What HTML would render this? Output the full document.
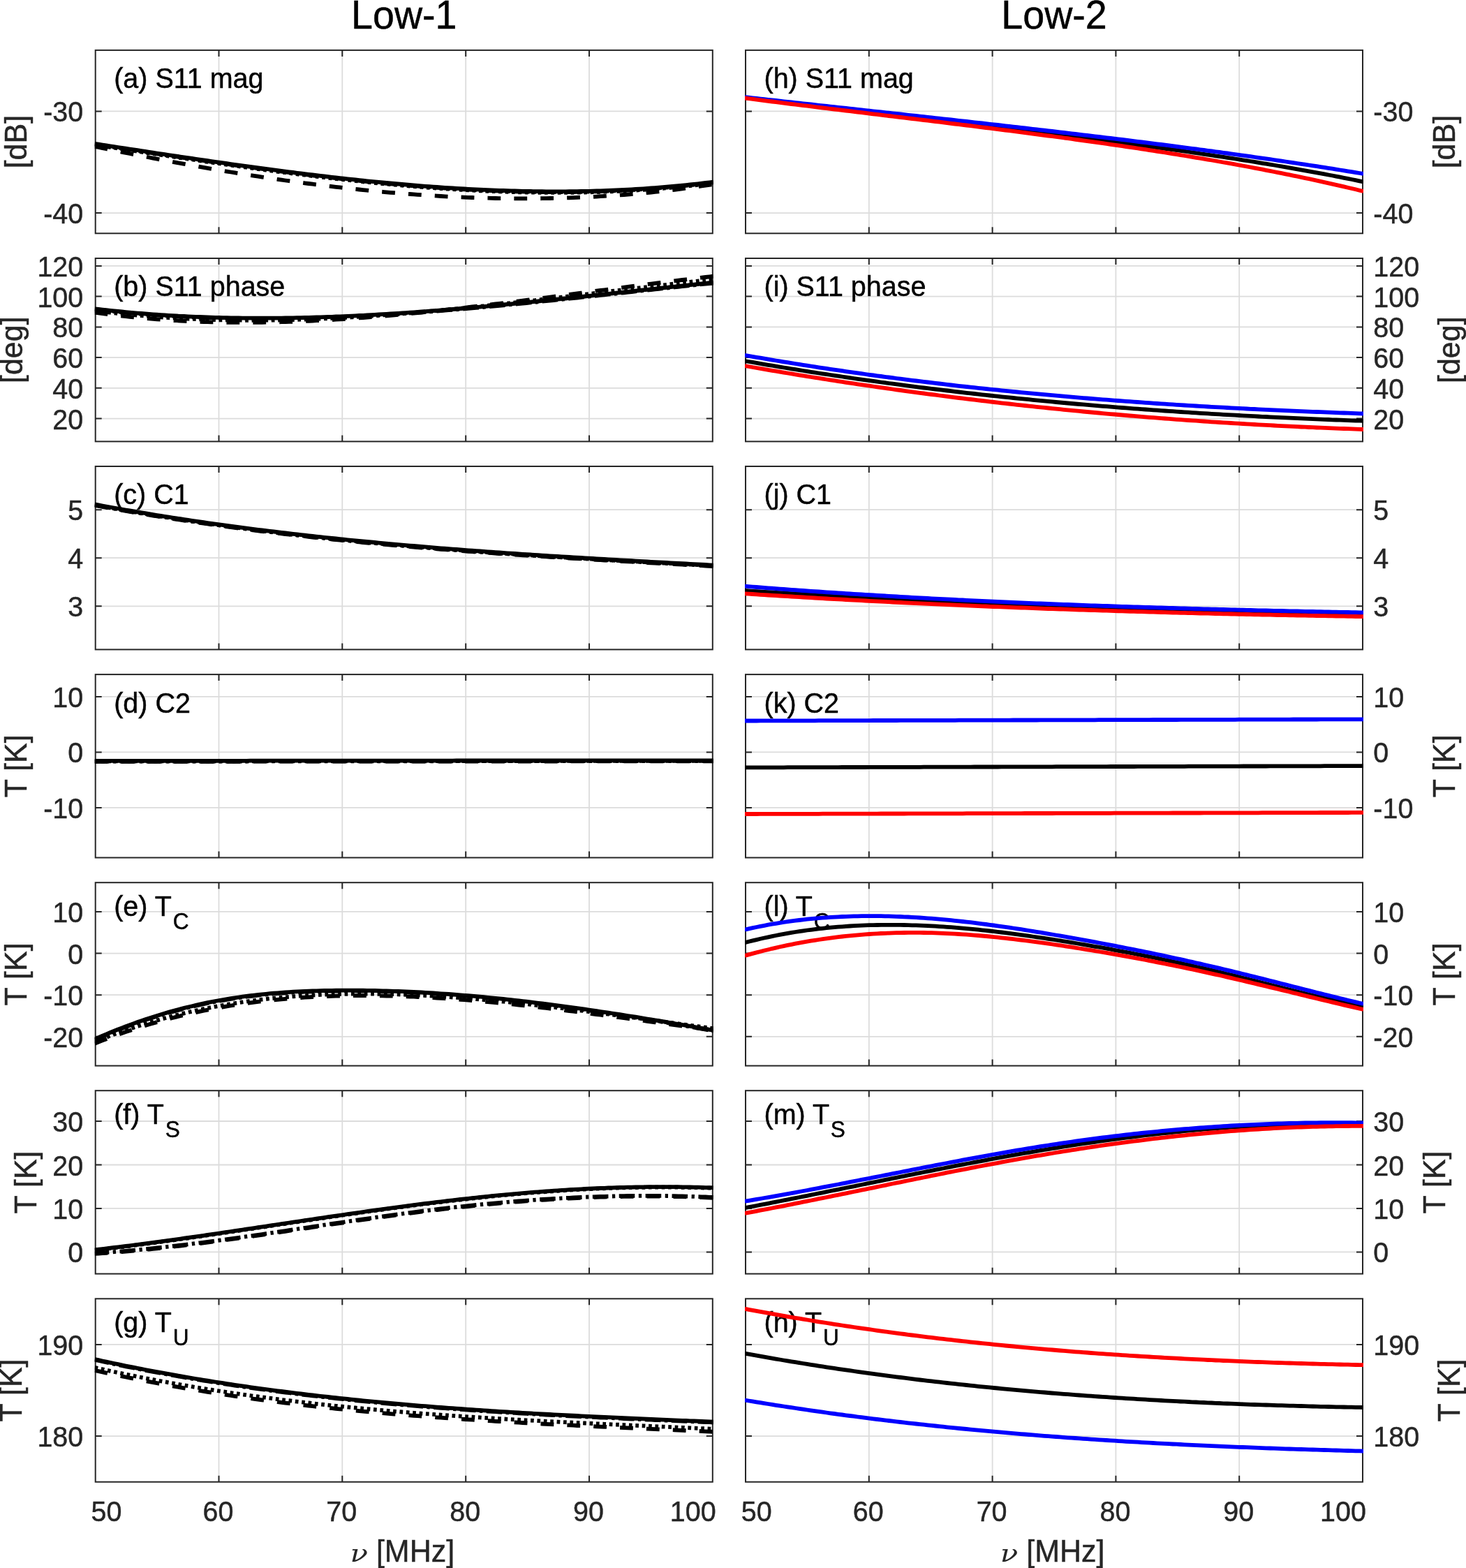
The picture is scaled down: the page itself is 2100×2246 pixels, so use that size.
<!DOCTYPE html><html><head><meta charset="utf-8"><title>Low-1 / Low-2</title>
<style>html,body{margin:0;padding:0;background:#fff;width:2100px;height:2246px;}svg{display:block;}text{font-family:"Liberation Sans",Arial,sans-serif;}</style></head><body>
<svg width="2100" height="2246" viewBox="0 0 2100 2246">
<rect width="2100" height="2246" fill="#fff"/>
<clipPath id="cL0"><rect x="135.7" y="68.9" width="886.1" height="268.4"/></clipPath>
<path d="M313.5 71.9V334.3M490.3 71.9V334.3M667.2 71.9V334.3M844.0 71.9V334.3M136.7 305.1H1020.8M136.7 159.4H1020.8" stroke="#dcdcdc" stroke-width="1.8" fill="none"/>
<path d="M313.5 334.3v-9.0M313.5 71.9v9.0M490.3 334.3v-9.0M490.3 71.9v9.0M667.2 334.3v-9.0M667.2 71.9v9.0M844.0 334.3v-9.0M844.0 71.9v9.0M136.7 305.1h9.0M1020.8 305.1h-9.0M136.7 159.4h9.0M1020.8 159.4h-9.0" stroke="#262626" stroke-width="2" fill="none"/>
<rect x="136.7" y="71.9" width="884.1" height="262.4" stroke="#262626" stroke-width="2" fill="none"/>
<text transform="translate(163.2 126.3) scale(1 1.040)" font-size="39.5" fill="#000" stroke="#000" stroke-width="0.45">(a) S11 mag</text>
<g clip-path="url(#cL0)" fill="none" stroke-width="5.8" stroke-linejoin="round">
<path d="M135.6 205.9L141.2 206.7L146.8 207.6L152.4 208.4L157.9 209.3L163.5 210.1L169.1 211.0L174.7 211.8L180.2 212.7L185.8 213.5L191.4 214.4L197.0 215.2L202.5 216.1L208.1 216.9L213.7 217.8L219.2 218.6L224.8 219.5L230.4 220.3L236.0 221.1L241.5 222.0L247.1 222.8L252.7 223.6L258.3 224.5L263.8 225.3L269.4 226.1L275.0 226.9L280.6 227.8L286.1 228.6L291.7 229.4L297.3 230.2L302.9 231.0L308.4 231.8L314.0 232.6L319.6 233.4L325.1 234.2L330.7 235.0L336.3 235.8L341.9 236.6L347.4 237.4L353.0 238.1L358.6 238.9L364.2 239.7L369.7 240.4L375.3 241.2L380.9 241.9L386.5 242.7L392.0 243.4L397.6 244.2L403.2 244.9L408.8 245.6L414.3 246.3L419.9 247.0L425.5 247.8L431.0 248.5L436.6 249.1L442.2 249.8L447.8 250.5L453.3 251.2L458.9 251.9L464.5 252.5L470.1 253.2L475.6 253.8L481.2 254.4L486.8 255.1L492.4 255.7L497.9 256.3L503.5 256.9L509.1 257.5L514.7 258.1L520.2 258.7L525.8 259.3L531.4 259.8L536.9 260.4L542.5 260.9L548.1 261.5L553.7 262.0L559.2 262.5L564.8 263.0L570.4 263.5L576.0 264.0L581.5 264.5L587.1 265.0L592.7 265.5L598.3 265.9L603.8 266.3L609.4 266.8L615.0 267.2L620.6 267.6L626.1 268.0L631.7 268.4L637.3 268.8L642.8 269.1L648.4 269.5L654.0 269.8L659.6 270.2L665.1 270.5L670.7 270.8L676.3 271.1L681.9 271.4L687.4 271.7L693.0 271.9L698.6 272.2L704.2 272.4L709.7 272.6L715.3 272.8L720.9 273.0L726.5 273.2L732.0 273.4L737.6 273.5L743.2 273.7L748.7 273.8L754.3 273.9L759.9 274.0L765.5 274.1L771.0 274.2L776.6 274.2L782.2 274.3L787.8 274.3L793.3 274.3L798.9 274.3L804.5 274.3L810.1 274.3L815.6 274.2L821.2 274.2L826.8 274.1L832.4 274.0L837.9 273.9L843.5 273.8L849.1 273.6L854.6 273.5L860.2 273.3L865.8 273.1L871.4 272.9L876.9 272.7L882.5 272.4L888.1 272.2L893.7 271.9L899.2 271.6L904.8 271.3L910.4 271.0L916.0 270.6L921.5 270.3L927.1 269.9L932.7 269.5L938.3 269.1L943.8 268.6L949.4 268.2L955.0 267.7L960.5 267.2L966.1 266.7L971.7 266.2L977.3 265.6L982.8 265.1L988.4 264.5L994.0 263.9L999.6 263.3L1005.1 262.6L1010.7 262.0L1016.3 261.3L1021.9 260.6" stroke="#000"/>
<path d="M135.6 209.8L141.2 210.9L146.8 212.1L152.4 213.2L157.9 214.4L163.5 215.5L169.1 216.7L174.7 217.8L180.2 218.9L185.8 220.0L191.4 221.1L197.0 222.2L202.5 223.3L208.1 224.4L213.7 225.5L219.2 226.6L224.8 227.6L230.4 228.7L236.0 229.7L241.5 230.8L247.1 231.8L252.7 232.9L258.3 233.9L263.8 234.9L269.4 235.9L275.0 236.9L280.6 237.9L286.1 238.9L291.7 239.9L297.3 240.8L302.9 241.8L308.4 242.8L314.0 243.7L319.6 244.7L325.1 245.6L330.7 246.5L336.3 247.4L341.9 248.3L347.4 249.2L353.0 250.1L358.6 251.0L364.2 251.8L369.7 252.7L375.3 253.6L380.9 254.4L386.5 255.2L392.0 256.0L397.6 256.9L403.2 257.7L408.8 258.5L414.3 259.2L419.9 260.0L425.5 260.8L431.0 261.5L436.6 262.3L442.2 263.0L447.8 263.7L453.3 264.4L458.9 265.1L464.5 265.8L470.1 266.5L475.6 267.2L481.2 267.8L486.8 268.4L492.4 269.1L497.9 269.7L503.5 270.3L509.1 270.9L514.7 271.5L520.2 272.1L525.8 272.6L531.4 273.2L536.9 273.7L542.5 274.3L548.1 274.8L553.7 275.3L559.2 275.8L564.8 276.2L570.4 276.7L576.0 277.2L581.5 277.6L587.1 278.0L592.7 278.4L598.3 278.8L603.8 279.2L609.4 279.6L615.0 280.0L620.6 280.3L626.1 280.6L631.7 281.0L637.3 281.3L642.8 281.6L648.4 281.8L654.0 282.1L659.6 282.4L665.1 282.6L670.7 282.8L676.3 283.0L681.9 283.2L687.4 283.4L693.0 283.6L698.6 283.7L704.2 283.8L709.7 284.0L715.3 284.1L720.9 284.2L726.5 284.2L732.0 284.3L737.6 284.3L743.2 284.4L748.7 284.4L754.3 284.4L759.9 284.4L765.5 284.3L771.0 284.3L776.6 284.2L782.2 284.1L787.8 284.0L793.3 283.9L798.9 283.8L804.5 283.6L810.1 283.5L815.6 283.3L821.2 283.1L826.8 282.9L832.4 282.6L837.9 282.4L843.5 282.1L849.1 281.9L854.6 281.6L860.2 281.2L865.8 280.9L871.4 280.5L876.9 280.2L882.5 279.8L888.1 279.4L893.7 279.0L899.2 278.5L904.8 278.1L910.4 277.6L916.0 277.1L921.5 276.6L927.1 276.0L932.7 275.5L938.3 274.9L943.8 274.3L949.4 273.7L955.0 273.1L960.5 272.4L966.1 271.8L971.7 271.1L977.3 270.4L982.8 269.6L988.4 268.9L994.0 268.1L999.6 267.3L1005.1 266.5L1010.7 265.7L1016.3 264.9L1021.9 264.0" stroke="#000" stroke-dasharray="18.8 19.1"/>
<path d="M135.6 207.5L141.2 208.3L146.8 209.2L152.4 210.0L157.9 210.9L163.5 211.7L169.1 212.6L174.7 213.4L180.2 214.3L185.8 215.1L191.4 216.0L197.0 216.8L202.5 217.7L208.1 218.5L213.7 219.4L219.2 220.2L224.8 221.1L230.4 221.9L236.0 222.7L241.5 223.6L247.1 224.4L252.7 225.2L258.3 226.1L263.8 226.9L269.4 227.7L275.0 228.5L280.6 229.4L286.1 230.2L291.7 231.0L297.3 231.8L302.9 232.6L308.4 233.4L314.0 234.2L319.6 235.0L325.1 235.8L330.7 236.6L336.3 237.4L341.9 238.2L347.4 239.0L353.0 239.7L358.6 240.5L364.2 241.3L369.7 242.0L375.3 242.8L380.9 243.5L386.5 244.3L392.0 245.0L397.6 245.8L403.2 246.5L408.8 247.2L414.3 247.9L419.9 248.6L425.5 249.4L431.0 250.1L436.6 250.7L442.2 251.4L447.8 252.1L453.3 252.8L458.9 253.5L464.5 254.1L470.1 254.8L475.6 255.4L481.2 256.0L486.8 256.7L492.4 257.3L497.9 257.9L503.5 258.5L509.1 259.1L514.7 259.7L520.2 260.3L525.8 260.9L531.4 261.4L536.9 262.0L542.5 262.5L548.1 263.1L553.7 263.6L559.2 264.1L564.8 264.6L570.4 265.1L576.0 265.6L581.5 266.1L587.1 266.6L592.7 267.1L598.3 267.5L603.8 267.9L609.4 268.4L615.0 268.8L620.6 269.2L626.1 269.6L631.7 270.0L637.3 270.4L642.8 270.7L648.4 271.1L654.0 271.4L659.6 271.8L665.1 272.1L670.7 272.4L676.3 272.7L681.9 273.0L687.4 273.3L693.0 273.5L698.6 273.8L704.2 274.0L709.7 274.2L715.3 274.4L720.9 274.6L726.5 274.8L732.0 275.0L737.6 275.1L743.2 275.3L748.7 275.4L754.3 275.5L759.9 275.6L765.5 275.7L771.0 275.8L776.6 275.8L782.2 275.9L787.8 275.9L793.3 275.9L798.9 275.9L804.5 275.9L810.1 275.9L815.6 275.8L821.2 275.8L826.8 275.7L832.4 275.6L837.9 275.5L843.5 275.4L849.1 275.2L854.6 275.1L860.2 274.9L865.8 274.7L871.4 274.5L876.9 274.3L882.5 274.0L888.1 273.8L893.7 273.5L899.2 273.2L904.8 272.9L910.4 272.6L916.0 272.2L921.5 271.9L927.1 271.5L932.7 271.1L938.3 270.7L943.8 270.2L949.4 269.8L955.0 269.3L960.5 268.8L966.1 268.3L971.7 267.8L977.3 267.2L982.8 266.7L988.4 266.1L994.0 265.5L999.6 264.9L1005.1 264.2L1010.7 263.6L1016.3 262.9L1021.9 262.2" stroke="#000" stroke-dasharray="4.7 4.7"/>
<path d="M135.6 206.7L141.2 207.5L146.8 208.4L152.4 209.2L157.9 210.1L163.5 210.9L169.1 211.8L174.7 212.6L180.2 213.5L185.8 214.3L191.4 215.2L197.0 216.0L202.5 216.9L208.1 217.7L213.7 218.6L219.2 219.4L224.8 220.3L230.4 221.1L236.0 221.9L241.5 222.8L247.1 223.6L252.7 224.4L258.3 225.3L263.8 226.1L269.4 226.9L275.0 227.7L280.6 228.6L286.1 229.4L291.7 230.2L297.3 231.0L302.9 231.8L308.4 232.6L314.0 233.4L319.6 234.2L325.1 235.0L330.7 235.8L336.3 236.6L341.9 237.4L347.4 238.2L353.0 238.9L358.6 239.7L364.2 240.5L369.7 241.2L375.3 242.0L380.9 242.7L386.5 243.5L392.0 244.2L397.6 245.0L403.2 245.7L408.8 246.4L414.3 247.1L419.9 247.8L425.5 248.6L431.0 249.3L436.6 249.9L442.2 250.6L447.8 251.3L453.3 252.0L458.9 252.7L464.5 253.3L470.1 254.0L475.6 254.6L481.2 255.2L486.8 255.9L492.4 256.5L497.9 257.1L503.5 257.7L509.1 258.3L514.7 258.9L520.2 259.5L525.8 260.1L531.4 260.6L536.9 261.2L542.5 261.7L548.1 262.3L553.7 262.8L559.2 263.3L564.8 263.8L570.4 264.3L576.0 264.8L581.5 265.3L587.1 265.8L592.7 266.3L598.3 266.7L603.8 267.1L609.4 267.6L615.0 268.0L620.6 268.4L626.1 268.8L631.7 269.2L637.3 269.6L642.8 269.9L648.4 270.3L654.0 270.6L659.6 271.0L665.1 271.3L670.7 271.6L676.3 271.9L681.9 272.2L687.4 272.5L693.0 272.7L698.6 273.0L704.2 273.2L709.7 273.4L715.3 273.6L720.9 273.8L726.5 274.0L732.0 274.2L737.6 274.3L743.2 274.5L748.7 274.6L754.3 274.7L759.9 274.8L765.5 274.9L771.0 275.0L776.6 275.0L782.2 275.1L787.8 275.1L793.3 275.1L798.9 275.1L804.5 275.1L810.1 275.1L815.6 275.0L821.2 275.0L826.8 274.9L832.4 274.8L837.9 274.7L843.5 274.6L849.1 274.4L854.6 274.3L860.2 274.1L865.8 273.9L871.4 273.7L876.9 273.5L882.5 273.2L888.1 273.0L893.7 272.7L899.2 272.4L904.8 272.1L910.4 271.8L916.0 271.4L921.5 271.1L927.1 270.7L932.7 270.3L938.3 269.9L943.8 269.4L949.4 269.0L955.0 268.5L960.5 268.0L966.1 267.5L971.7 267.0L977.3 266.4L982.8 265.9L988.4 265.3L994.0 264.7L999.6 264.1L1005.1 263.4L1010.7 262.8L1016.3 262.1L1021.9 261.4" stroke="#000" stroke-dasharray="22.6 5.5 4.3 5.5" stroke-dashoffset="1.9"/>
</g>
<text transform="translate(119.3 320.1) scale(1 1.040)" font-size="39.5" fill="#262626" stroke="#262626" stroke-width="0.45" text-anchor="end">-40</text>
<text transform="translate(119.3 174.4) scale(1 1.040)" font-size="39.5" fill="#262626" stroke="#262626" stroke-width="0.45" text-anchor="end">-30</text>
<text transform="translate(38.0 203.1) rotate(-90) scale(1 1.040)" font-size="43.0" fill="#262626" stroke="#262626" stroke-width="0.45" text-anchor="middle">[dB]</text>
<clipPath id="cR0"><rect x="1067.0" y="68.9" width="886.0" height="268.4"/></clipPath>
<path d="M1244.8 71.9V334.3M1421.6 71.9V334.3M1598.4 71.9V334.3M1775.2 71.9V334.3M1068.0 305.1H1952.0M1068.0 159.4H1952.0" stroke="#dcdcdc" stroke-width="1.8" fill="none"/>
<path d="M1244.8 334.3v-9.0M1244.8 71.9v9.0M1421.6 334.3v-9.0M1421.6 71.9v9.0M1598.4 334.3v-9.0M1598.4 71.9v9.0M1775.2 334.3v-9.0M1775.2 71.9v9.0M1068.0 305.1h9.0M1952.0 305.1h-9.0M1068.0 159.4h9.0M1952.0 159.4h-9.0" stroke="#262626" stroke-width="2" fill="none"/>
<rect x="1068.0" y="71.9" width="884.0" height="262.4" stroke="#262626" stroke-width="2" fill="none"/>
<text transform="translate(1094.5 126.3) scale(1 1.040)" font-size="39.5" fill="#000" stroke="#000" stroke-width="0.45">(h) S11 mag</text>
<g clip-path="url(#cR0)" fill="none" stroke-width="5.8" stroke-linejoin="round">
<path d="M1066.9 139.8L1072.5 140.4L1078.1 141.1L1083.7 141.8L1089.2 142.4L1094.8 143.1L1100.4 143.7L1106.0 144.4L1111.5 145.0L1117.1 145.7L1122.7 146.4L1128.2 147.0L1133.8 147.7L1139.4 148.3L1145.0 149.0L1150.5 149.6L1156.1 150.3L1161.7 150.9L1167.3 151.6L1172.8 152.2L1178.4 152.9L1184.0 153.5L1189.5 154.2L1195.1 154.8L1200.7 155.4L1206.3 156.1L1211.8 156.7L1217.4 157.4L1223.0 158.0L1228.6 158.7L1234.1 159.3L1239.7 160.0L1245.3 160.6L1250.9 161.3L1256.4 161.9L1262.0 162.6L1267.6 163.2L1273.1 163.8L1278.7 164.5L1284.3 165.1L1289.9 165.8L1295.4 166.4L1301.0 167.1L1306.6 167.7L1312.2 168.4L1317.7 169.0L1323.3 169.7L1328.9 170.3L1334.4 171.0L1340.0 171.6L1345.6 172.3L1351.2 172.9L1356.7 173.6L1362.3 174.3L1367.9 174.9L1373.5 175.6L1379.0 176.2L1384.6 176.9L1390.2 177.5L1395.8 178.2L1401.3 178.9L1406.9 179.5L1412.5 180.2L1418.0 180.9L1423.6 181.5L1429.2 182.2L1434.8 182.9L1440.3 183.5L1445.9 184.2L1451.5 184.9L1457.1 185.6L1462.6 186.2L1468.2 186.9L1473.8 187.6L1479.3 188.3L1484.9 189.0L1490.5 189.7L1496.1 190.3L1501.6 191.0L1507.2 191.7L1512.8 192.4L1518.4 193.1L1523.9 193.8L1529.5 194.5L1535.1 195.2L1540.7 195.9L1546.2 196.6L1551.8 197.3L1557.4 198.0L1562.9 198.8L1568.5 199.5L1574.1 200.2L1579.7 200.9L1585.2 201.6L1590.8 202.4L1596.4 203.1L1602.0 203.8L1607.5 204.5L1613.1 205.3L1618.7 206.0L1624.2 206.8L1629.8 207.5L1635.4 208.3L1641.0 209.0L1646.5 209.8L1652.1 210.5L1657.7 211.3L1663.3 212.0L1668.8 212.8L1674.4 213.6L1680.0 214.4L1685.6 215.2L1691.1 215.9L1696.7 216.7L1702.3 217.5L1707.8 218.3L1713.4 219.1L1719.0 220.0L1724.6 220.8L1730.1 221.6L1735.7 222.4L1741.3 223.3L1746.9 224.1L1752.4 224.9L1758.0 225.8L1763.6 226.7L1769.1 227.5L1774.7 228.4L1780.3 229.3L1785.9 230.1L1791.4 231.0L1797.0 231.9L1802.6 232.8L1808.2 233.8L1813.7 234.7L1819.3 235.6L1824.9 236.5L1830.5 237.5L1836.0 238.4L1841.6 239.4L1847.2 240.4L1852.7 241.3L1858.3 242.3L1863.9 243.3L1869.5 244.3L1875.0 245.3L1880.6 246.3L1886.2 247.3L1891.8 248.4L1897.3 249.4L1902.9 250.5L1908.5 251.5L1914.0 252.6L1919.6 253.7L1925.2 254.8L1930.8 255.9L1936.3 257.0L1941.9 258.1L1947.5 259.3L1953.1 260.4" stroke="#000"/>
<path d="M1066.9 139.1L1072.5 139.7L1078.1 140.3L1083.7 140.9L1089.2 141.6L1094.8 142.2L1100.4 142.8L1106.0 143.4L1111.5 144.0L1117.1 144.6L1122.7 145.3L1128.2 145.9L1133.8 146.5L1139.4 147.1L1145.0 147.7L1150.5 148.3L1156.1 148.9L1161.7 149.5L1167.3 150.1L1172.8 150.8L1178.4 151.4L1184.0 152.0L1189.5 152.6L1195.1 153.2L1200.7 153.8L1206.3 154.4L1211.8 155.0L1217.4 155.6L1223.0 156.2L1228.6 156.8L1234.1 157.4L1239.7 158.1L1245.3 158.7L1250.9 159.3L1256.4 159.9L1262.0 160.5L1267.6 161.1L1273.1 161.7L1278.7 162.3L1284.3 162.9L1289.9 163.5L1295.4 164.2L1301.0 164.8L1306.6 165.4L1312.2 166.0L1317.7 166.6L1323.3 167.2L1328.9 167.8L1334.4 168.5L1340.0 169.1L1345.6 169.7L1351.2 170.3L1356.7 170.9L1362.3 171.5L1367.9 172.2L1373.5 172.8L1379.0 173.4L1384.6 174.0L1390.2 174.6L1395.8 175.3L1401.3 175.9L1406.9 176.5L1412.5 177.2L1418.0 177.8L1423.6 178.4L1429.2 179.0L1434.8 179.7L1440.3 180.3L1445.9 180.9L1451.5 181.6L1457.1 182.2L1462.6 182.9L1468.2 183.5L1473.8 184.1L1479.3 184.8L1484.9 185.4L1490.5 186.1L1496.1 186.7L1501.6 187.4L1507.2 188.0L1512.8 188.7L1518.4 189.3L1523.9 190.0L1529.5 190.6L1535.1 191.3L1540.7 192.0L1546.2 192.6L1551.8 193.3L1557.4 193.9L1562.9 194.6L1568.5 195.3L1574.1 196.0L1579.7 196.6L1585.2 197.3L1590.8 198.0L1596.4 198.7L1602.0 199.4L1607.5 200.0L1613.1 200.7L1618.7 201.4L1624.2 202.1L1629.8 202.8L1635.4 203.5L1641.0 204.2L1646.5 204.9L1652.1 205.6L1657.7 206.3L1663.3 207.0L1668.8 207.7L1674.4 208.4L1680.0 209.2L1685.6 209.9L1691.1 210.6L1696.7 211.3L1702.3 212.1L1707.8 212.8L1713.4 213.5L1719.0 214.3L1724.6 215.0L1730.1 215.8L1735.7 216.5L1741.3 217.3L1746.9 218.0L1752.4 218.8L1758.0 219.5L1763.6 220.3L1769.1 221.1L1774.7 221.9L1780.3 222.6L1785.9 223.4L1791.4 224.2L1797.0 225.0L1802.6 225.8L1808.2 226.6L1813.7 227.4L1819.3 228.2L1824.9 229.0L1830.5 229.8L1836.0 230.6L1841.6 231.5L1847.2 232.3L1852.7 233.1L1858.3 234.0L1863.9 234.8L1869.5 235.6L1875.0 236.5L1880.6 237.4L1886.2 238.2L1891.8 239.1L1897.3 239.9L1902.9 240.8L1908.5 241.7L1914.0 242.6L1919.6 243.5L1925.2 244.4L1930.8 245.3L1936.3 246.2L1941.9 247.1L1947.5 248.0L1953.1 248.9" stroke="#0000ff"/>
<path d="M1066.9 140.5L1072.5 141.2L1078.1 141.9L1083.7 142.6L1089.2 143.4L1094.8 144.1L1100.4 144.8L1106.0 145.5L1111.5 146.2L1117.1 146.9L1122.7 147.6L1128.2 148.3L1133.8 149.0L1139.4 149.7L1145.0 150.4L1150.5 151.1L1156.1 151.7L1161.7 152.4L1167.3 153.1L1172.8 153.8L1178.4 154.5L1184.0 155.2L1189.5 155.8L1195.1 156.5L1200.7 157.2L1206.3 157.9L1211.8 158.5L1217.4 159.2L1223.0 159.9L1228.6 160.6L1234.1 161.2L1239.7 161.9L1245.3 162.6L1250.9 163.3L1256.4 163.9L1262.0 164.6L1267.6 165.3L1273.1 166.0L1278.7 166.6L1284.3 167.3L1289.9 168.0L1295.4 168.6L1301.0 169.3L1306.6 170.0L1312.2 170.7L1317.7 171.3L1323.3 172.0L1328.9 172.7L1334.4 173.4L1340.0 174.1L1345.6 174.7L1351.2 175.4L1356.7 176.1L1362.3 176.8L1367.9 177.5L1373.5 178.2L1379.0 178.8L1384.6 179.5L1390.2 180.2L1395.8 180.9L1401.3 181.6L1406.9 182.3L1412.5 183.0L1418.0 183.7L1423.6 184.4L1429.2 185.1L1434.8 185.8L1440.3 186.5L1445.9 187.2L1451.5 187.9L1457.1 188.7L1462.6 189.4L1468.2 190.1L1473.8 190.8L1479.3 191.6L1484.9 192.3L1490.5 193.0L1496.1 193.8L1501.6 194.5L1507.2 195.2L1512.8 196.0L1518.4 196.7L1523.9 197.5L1529.5 198.2L1535.1 199.0L1540.7 199.8L1546.2 200.5L1551.8 201.3L1557.4 202.1L1562.9 202.9L1568.5 203.6L1574.1 204.4L1579.7 205.2L1585.2 206.0L1590.8 206.8L1596.4 207.6L1602.0 208.4L1607.5 209.2L1613.1 210.1L1618.7 210.9L1624.2 211.7L1629.8 212.5L1635.4 213.4L1641.0 214.2L1646.5 215.1L1652.1 215.9L1657.7 216.8L1663.3 217.7L1668.8 218.5L1674.4 219.4L1680.0 220.3L1685.6 221.2L1691.1 222.1L1696.7 223.0L1702.3 223.9L1707.8 224.8L1713.4 225.8L1719.0 226.7L1724.6 227.6L1730.1 228.6L1735.7 229.5L1741.3 230.5L1746.9 231.5L1752.4 232.5L1758.0 233.4L1763.6 234.4L1769.1 235.4L1774.7 236.5L1780.3 237.5L1785.9 238.5L1791.4 239.5L1797.0 240.6L1802.6 241.6L1808.2 242.7L1813.7 243.8L1819.3 244.9L1824.9 246.0L1830.5 247.1L1836.0 248.2L1841.6 249.3L1847.2 250.4L1852.7 251.6L1858.3 252.7L1863.9 253.9L1869.5 255.1L1875.0 256.2L1880.6 257.4L1886.2 258.6L1891.8 259.9L1897.3 261.1L1902.9 262.3L1908.5 263.6L1914.0 264.8L1919.6 266.1L1925.2 267.4L1930.8 268.7L1936.3 270.0L1941.9 271.3L1947.5 272.7L1953.1 274.0" stroke="#ff0000"/>
</g>
<text transform="translate(1967.3 320.1) scale(1 1.040)" font-size="39.5" fill="#262626" stroke="#262626" stroke-width="0.45">-40</text>
<text transform="translate(1967.3 174.4) scale(1 1.040)" font-size="39.5" fill="#262626" stroke="#262626" stroke-width="0.45">-30</text>
<text transform="translate(2084.4 203.1) rotate(-90) scale(1 1.040)" font-size="43.0" fill="#262626" stroke="#262626" stroke-width="0.45" text-anchor="middle">[dB]</text>
<clipPath id="cL1"><rect x="135.7" y="367.0" width="886.1" height="268.4"/></clipPath>
<path d="M313.5 370.0V632.4M490.3 370.0V632.4M667.2 370.0V632.4M844.0 370.0V632.4M136.7 599.6H1020.8M136.7 555.8H1020.8M136.7 512.1H1020.8M136.7 468.4H1020.8M136.7 424.6H1020.8M136.7 380.9H1020.8" stroke="#dcdcdc" stroke-width="1.8" fill="none"/>
<path d="M313.5 632.4v-9.0M313.5 370.0v9.0M490.3 632.4v-9.0M490.3 370.0v9.0M667.2 632.4v-9.0M667.2 370.0v9.0M844.0 632.4v-9.0M844.0 370.0v9.0M136.7 599.6h9.0M1020.8 599.6h-9.0M136.7 555.8h9.0M1020.8 555.8h-9.0M136.7 512.1h9.0M1020.8 512.1h-9.0M136.7 468.4h9.0M1020.8 468.4h-9.0M136.7 424.6h9.0M1020.8 424.6h-9.0M136.7 380.9h9.0M1020.8 380.9h-9.0" stroke="#262626" stroke-width="2" fill="none"/>
<rect x="136.7" y="370.0" width="884.1" height="262.4" stroke="#262626" stroke-width="2" fill="none"/>
<text transform="translate(163.2 424.4) scale(1 1.040)" font-size="39.5" fill="#000" stroke="#000" stroke-width="0.45">(b) S11 phase</text>
<g clip-path="url(#cL1)" fill="none" stroke-width="5.8" stroke-linejoin="round">
<path d="M135.6 442.3L141.2 443.0L146.8 443.6L152.4 444.2L157.9 444.8L163.5 445.4L169.1 446.0L174.7 446.5L180.2 447.1L185.8 447.6L191.4 448.1L197.0 448.6L202.5 449.0L208.1 449.5L213.7 449.9L219.2 450.3L224.8 450.7L230.4 451.1L236.0 451.5L241.5 451.8L247.1 452.1L252.7 452.5L258.3 452.8L263.8 453.0L269.4 453.3L275.0 453.6L280.6 453.8L286.1 454.0L291.7 454.2L297.3 454.4L302.9 454.6L308.4 454.8L314.0 454.9L319.6 455.1L325.1 455.2L330.7 455.3L336.3 455.4L341.9 455.5L347.4 455.6L353.0 455.6L358.6 455.7L364.2 455.7L369.7 455.7L375.3 455.7L380.9 455.7L386.5 455.7L392.0 455.7L397.6 455.6L403.2 455.6L408.8 455.5L414.3 455.4L419.9 455.3L425.5 455.2L431.0 455.1L436.6 455.0L442.2 454.8L447.8 454.7L453.3 454.5L458.9 454.3L464.5 454.2L470.1 454.0L475.6 453.8L481.2 453.5L486.8 453.3L492.4 453.1L497.9 452.8L503.5 452.6L509.1 452.3L514.7 452.0L520.2 451.8L525.8 451.5L531.4 451.2L536.9 450.9L542.5 450.5L548.1 450.2L553.7 449.9L559.2 449.5L564.8 449.2L570.4 448.8L576.0 448.5L581.5 448.1L587.1 447.7L592.7 447.3L598.3 446.9L603.8 446.5L609.4 446.1L615.0 445.7L620.6 445.2L626.1 444.8L631.7 444.4L637.3 443.9L642.8 443.4L648.4 443.0L654.0 442.5L659.6 442.0L665.1 441.6L670.7 441.1L676.3 440.6L681.9 440.1L687.4 439.6L693.0 439.1L698.6 438.6L704.2 438.1L709.7 437.5L715.3 437.0L720.9 436.5L726.5 435.9L732.0 435.4L737.6 434.9L743.2 434.3L748.7 433.8L754.3 433.2L759.9 432.6L765.5 432.1L771.0 431.5L776.6 430.9L782.2 430.4L787.8 429.8L793.3 429.2L798.9 428.6L804.5 428.0L810.1 427.5L815.6 426.9L821.2 426.3L826.8 425.7L832.4 425.1L837.9 424.5L843.5 423.9L849.1 423.3L854.6 422.7L860.2 422.1L865.8 421.5L871.4 420.9L876.9 420.3L882.5 419.7L888.1 419.1L893.7 418.5L899.2 417.8L904.8 417.2L910.4 416.6L916.0 416.0L921.5 415.4L927.1 414.8L932.7 414.2L938.3 413.6L943.8 413.0L949.4 412.4L955.0 411.8L960.5 411.2L966.1 410.6L971.7 410.0L977.3 409.4L982.8 408.8L988.4 408.2L994.0 407.6L999.6 407.0L1005.1 406.4L1010.7 405.8L1016.3 405.2L1021.9 404.7" stroke="#000"/>
<path d="M135.6 447.7L141.2 448.4L146.8 449.2L152.4 449.9L157.9 450.6L163.5 451.3L169.1 452.0L174.7 452.6L180.2 453.2L185.8 453.8L191.4 454.4L197.0 454.9L202.5 455.4L208.1 455.9L213.7 456.4L219.2 456.9L224.8 457.3L230.4 457.7L236.0 458.1L241.5 458.5L247.1 458.9L252.7 459.2L258.3 459.5L263.8 459.8L269.4 460.1L275.0 460.3L280.6 460.6L286.1 460.8L291.7 461.0L297.3 461.1L302.9 461.3L308.4 461.4L314.0 461.6L319.6 461.7L325.1 461.8L330.7 461.8L336.3 461.9L341.9 461.9L347.4 461.9L353.0 461.9L358.6 461.9L364.2 461.9L369.7 461.8L375.3 461.8L380.9 461.7L386.5 461.6L392.0 461.5L397.6 461.3L403.2 461.2L408.8 461.0L414.3 460.9L419.9 460.7L425.5 460.5L431.0 460.3L436.6 460.0L442.2 459.8L447.8 459.5L453.3 459.2L458.9 459.0L464.5 458.7L470.1 458.4L475.6 458.0L481.2 457.7L486.8 457.3L492.4 457.0L497.9 456.6L503.5 456.2L509.1 455.8L514.7 455.4L520.2 455.0L525.8 454.6L531.4 454.1L536.9 453.7L542.5 453.2L548.1 452.8L553.7 452.3L559.2 451.8L564.8 451.3L570.4 450.8L576.0 450.3L581.5 449.7L587.1 449.2L592.7 448.6L598.3 448.1L603.8 447.5L609.4 447.0L615.0 446.4L620.6 445.8L626.1 445.2L631.7 444.6L637.3 444.0L642.8 443.4L648.4 442.8L654.0 442.1L659.6 441.5L665.1 440.8L670.7 440.2L676.3 439.5L681.9 438.9L687.4 438.2L693.0 437.6L698.6 436.9L704.2 436.2L709.7 435.5L715.3 434.8L720.9 434.1L726.5 433.4L732.0 432.7L737.6 432.0L743.2 431.3L748.7 430.6L754.3 429.9L759.9 429.2L765.5 428.5L771.0 427.7L776.6 427.0L782.2 426.3L787.8 425.6L793.3 424.8L798.9 424.1L804.5 423.4L810.1 422.6L815.6 421.9L821.2 421.2L826.8 420.4L832.4 419.7L837.9 418.9L843.5 418.2L849.1 417.5L854.6 416.7L860.2 416.0L865.8 415.3L871.4 414.5L876.9 413.8L882.5 413.1L888.1 412.3L893.7 411.6L899.2 410.9L904.8 410.1L910.4 409.4L916.0 408.7L921.5 408.0L927.1 407.3L932.7 406.5L938.3 405.8L943.8 405.1L949.4 404.4L955.0 403.7L960.5 403.0L966.1 402.3L971.7 401.7L977.3 401.0L982.8 400.3L988.4 399.6L994.0 399.0L999.6 398.3L1005.1 397.6L1010.7 397.0L1016.3 396.3L1021.9 395.7" stroke="#000" stroke-dasharray="18.8 19.1"/>
<path d="M135.6 445.0L141.2 445.7L146.8 446.4L152.4 447.1L157.9 447.7L163.5 448.4L169.1 449.0L174.7 449.6L180.2 450.1L185.8 450.7L191.4 451.2L197.0 451.7L202.5 452.2L208.1 452.7L213.7 453.2L219.2 453.6L224.8 454.0L230.4 454.4L236.0 454.8L241.5 455.2L247.1 455.5L252.7 455.8L258.3 456.1L263.8 456.4L269.4 456.7L275.0 456.9L280.6 457.2L286.1 457.4L291.7 457.6L297.3 457.8L302.9 458.0L308.4 458.1L314.0 458.3L319.6 458.4L325.1 458.5L330.7 458.6L336.3 458.6L341.9 458.7L347.4 458.7L353.0 458.8L358.6 458.8L364.2 458.8L369.7 458.8L375.3 458.7L380.9 458.7L386.5 458.6L392.0 458.6L397.6 458.5L403.2 458.4L408.8 458.3L414.3 458.1L419.9 458.0L425.5 457.8L431.0 457.7L436.6 457.5L442.2 457.3L447.8 457.1L453.3 456.9L458.9 456.6L464.5 456.4L470.1 456.2L475.6 455.9L481.2 455.6L486.8 455.3L492.4 455.0L497.9 454.7L503.5 454.4L509.1 454.1L514.7 453.7L520.2 453.4L525.8 453.0L531.4 452.7L536.9 452.3L542.5 451.9L548.1 451.5L553.7 451.1L559.2 450.7L564.8 450.2L570.4 449.8L576.0 449.4L581.5 448.9L587.1 448.4L592.7 448.0L598.3 447.5L603.8 447.0L609.4 446.5L615.0 446.0L620.6 445.5L626.1 445.0L631.7 444.5L637.3 443.9L642.8 443.4L648.4 442.9L654.0 442.3L659.6 441.8L665.1 441.2L670.7 440.6L676.3 440.1L681.9 439.5L687.4 438.9L693.0 438.3L698.6 437.7L704.2 437.1L709.7 436.5L715.3 435.9L720.9 435.3L726.5 434.7L732.0 434.1L737.6 433.4L743.2 432.8L748.7 432.2L754.3 431.6L759.9 430.9L765.5 430.3L771.0 429.6L776.6 429.0L782.2 428.3L787.8 427.7L793.3 427.0L798.9 426.4L804.5 425.7L810.1 425.0L815.6 424.4L821.2 423.7L826.8 423.1L832.4 422.4L837.9 421.7L843.5 421.1L849.1 420.4L854.6 419.7L860.2 419.0L865.8 418.4L871.4 417.7L876.9 417.0L882.5 416.4L888.1 415.7L893.7 415.0L899.2 414.4L904.8 413.7L910.4 413.0L916.0 412.4L921.5 411.7L927.1 411.0L932.7 410.4L938.3 409.7L943.8 409.1L949.4 408.4L955.0 407.8L960.5 407.1L966.1 406.5L971.7 405.8L977.3 405.2L982.8 404.5L988.4 403.9L994.0 403.3L999.6 402.6L1005.1 402.0L1010.7 401.4L1016.3 400.8L1021.9 400.2" stroke="#000" stroke-dasharray="4.7 4.7"/>
<path d="M135.6 443.1L141.2 443.8L146.8 444.4L152.4 445.0L157.9 445.6L163.5 446.2L169.1 446.8L174.7 447.3L180.2 447.9L185.8 448.4L191.4 448.9L197.0 449.4L202.5 449.8L208.1 450.3L213.7 450.7L219.2 451.1L224.8 451.5L230.4 451.9L236.0 452.3L241.5 452.6L247.1 452.9L252.7 453.3L258.3 453.6L263.8 453.8L269.4 454.1L275.0 454.4L280.6 454.6L286.1 454.8L291.7 455.0L297.3 455.2L302.9 455.4L308.4 455.6L314.0 455.7L319.6 455.9L325.1 456.0L330.7 456.1L336.3 456.2L341.9 456.3L347.4 456.4L353.0 456.4L358.6 456.5L364.2 456.5L369.7 456.5L375.3 456.5L380.9 456.5L386.5 456.5L392.0 456.5L397.6 456.4L403.2 456.4L408.8 456.3L414.3 456.2L419.9 456.1L425.5 456.0L431.0 455.9L436.6 455.8L442.2 455.6L447.8 455.5L453.3 455.3L458.9 455.1L464.5 455.0L470.1 454.8L475.6 454.6L481.2 454.3L486.8 454.1L492.4 453.9L497.9 453.6L503.5 453.4L509.1 453.1L514.7 452.8L520.2 452.6L525.8 452.3L531.4 452.0L536.9 451.7L542.5 451.3L548.1 451.0L553.7 450.7L559.2 450.3L564.8 450.0L570.4 449.6L576.0 449.3L581.5 448.9L587.1 448.5L592.7 448.1L598.3 447.7L603.8 447.3L609.4 446.9L615.0 446.5L620.6 446.0L626.1 445.6L631.7 445.2L637.3 444.7L642.8 444.2L648.4 443.8L654.0 443.3L659.6 442.8L665.1 442.4L670.7 441.9L676.3 441.4L681.9 440.9L687.4 440.4L693.0 439.9L698.6 439.4L704.2 438.9L709.7 438.3L715.3 437.8L720.9 437.3L726.5 436.7L732.0 436.2L737.6 435.7L743.2 435.1L748.7 434.6L754.3 434.0L759.9 433.4L765.5 432.9L771.0 432.3L776.6 431.7L782.2 431.2L787.8 430.6L793.3 430.0L798.9 429.4L804.5 428.8L810.1 428.3L815.6 427.7L821.2 427.1L826.8 426.5L832.4 425.9L837.9 425.3L843.5 424.7L849.1 424.1L854.6 423.5L860.2 422.9L865.8 422.3L871.4 421.7L876.9 421.1L882.5 420.5L888.1 419.9L893.7 419.3L899.2 418.6L904.8 418.0L910.4 417.4L916.0 416.8L921.5 416.2L927.1 415.6L932.7 415.0L938.3 414.4L943.8 413.8L949.4 413.2L955.0 412.6L960.5 412.0L966.1 411.4L971.7 410.8L977.3 410.2L982.8 409.6L988.4 409.0L994.0 408.4L999.6 407.8L1005.1 407.2L1010.7 406.6L1016.3 406.0L1021.9 405.5" stroke="#000" stroke-dasharray="22.6 5.5 4.3 5.5" stroke-dashoffset="1.9"/>
</g>
<text transform="translate(119.3 614.6) scale(1 1.040)" font-size="39.5" fill="#262626" stroke="#262626" stroke-width="0.45" text-anchor="end">20</text>
<text transform="translate(119.3 570.8) scale(1 1.040)" font-size="39.5" fill="#262626" stroke="#262626" stroke-width="0.45" text-anchor="end">40</text>
<text transform="translate(119.3 527.1) scale(1 1.040)" font-size="39.5" fill="#262626" stroke="#262626" stroke-width="0.45" text-anchor="end">60</text>
<text transform="translate(119.3 483.4) scale(1 1.040)" font-size="39.5" fill="#262626" stroke="#262626" stroke-width="0.45" text-anchor="end">80</text>
<text transform="translate(119.3 439.6) scale(1 1.040)" font-size="39.5" fill="#262626" stroke="#262626" stroke-width="0.45" text-anchor="end">100</text>
<text transform="translate(119.3 395.9) scale(1 1.040)" font-size="39.5" fill="#262626" stroke="#262626" stroke-width="0.45" text-anchor="end">120</text>
<text transform="translate(31.7 501.2) rotate(-90) scale(1 1.040)" font-size="43.0" fill="#262626" stroke="#262626" stroke-width="0.45" text-anchor="middle">[deg]</text>
<clipPath id="cR1"><rect x="1067.0" y="367.0" width="886.0" height="268.4"/></clipPath>
<path d="M1244.8 370.0V632.4M1421.6 370.0V632.4M1598.4 370.0V632.4M1775.2 370.0V632.4M1068.0 599.6H1952.0M1068.0 555.8H1952.0M1068.0 512.1H1952.0M1068.0 468.4H1952.0M1068.0 424.6H1952.0M1068.0 380.9H1952.0" stroke="#dcdcdc" stroke-width="1.8" fill="none"/>
<path d="M1244.8 632.4v-9.0M1244.8 370.0v9.0M1421.6 632.4v-9.0M1421.6 370.0v9.0M1598.4 632.4v-9.0M1598.4 370.0v9.0M1775.2 632.4v-9.0M1775.2 370.0v9.0M1068.0 599.6h9.0M1952.0 599.6h-9.0M1068.0 555.8h9.0M1952.0 555.8h-9.0M1068.0 512.1h9.0M1952.0 512.1h-9.0M1068.0 468.4h9.0M1952.0 468.4h-9.0M1068.0 424.6h9.0M1952.0 424.6h-9.0M1068.0 380.9h9.0M1952.0 380.9h-9.0" stroke="#262626" stroke-width="2" fill="none"/>
<rect x="1068.0" y="370.0" width="884.0" height="262.4" stroke="#262626" stroke-width="2" fill="none"/>
<text transform="translate(1094.5 424.4) scale(1 1.040)" font-size="39.5" fill="#000" stroke="#000" stroke-width="0.45">(i) S11 phase</text>
<g clip-path="url(#cR1)" fill="none" stroke-width="5.8" stroke-linejoin="round">
<path d="M1066.9 517.0L1072.5 518.0L1078.1 518.9L1083.7 519.9L1089.2 520.9L1094.8 521.8L1100.4 522.8L1106.0 523.7L1111.5 524.6L1117.1 525.6L1122.7 526.5L1128.2 527.4L1133.8 528.3L1139.4 529.2L1145.0 530.1L1150.5 531.0L1156.1 531.9L1161.7 532.8L1167.3 533.6L1172.8 534.5L1178.4 535.4L1184.0 536.2L1189.5 537.0L1195.1 537.9L1200.7 538.7L1206.3 539.5L1211.8 540.4L1217.4 541.2L1223.0 542.0L1228.6 542.8L1234.1 543.6L1239.7 544.4L1245.3 545.1L1250.9 545.9L1256.4 546.7L1262.0 547.5L1267.6 548.2L1273.1 549.0L1278.7 549.7L1284.3 550.4L1289.9 551.2L1295.4 551.9L1301.0 552.6L1306.6 553.3L1312.2 554.1L1317.7 554.8L1323.3 555.5L1328.9 556.2L1334.4 556.8L1340.0 557.5L1345.6 558.2L1351.2 558.9L1356.7 559.5L1362.3 560.2L1367.9 560.9L1373.5 561.5L1379.0 562.1L1384.6 562.8L1390.2 563.4L1395.8 564.0L1401.3 564.7L1406.9 565.3L1412.5 565.9L1418.0 566.5L1423.6 567.1L1429.2 567.7L1434.8 568.3L1440.3 568.9L1445.9 569.4L1451.5 570.0L1457.1 570.6L1462.6 571.1L1468.2 571.7L1473.8 572.2L1479.3 572.8L1484.9 573.3L1490.5 573.9L1496.1 574.4L1501.6 574.9L1507.2 575.4L1512.8 576.0L1518.4 576.5L1523.9 577.0L1529.5 577.5L1535.1 578.0L1540.7 578.5L1546.2 579.0L1551.8 579.4L1557.4 579.9L1562.9 580.4L1568.5 580.9L1574.1 581.3L1579.7 581.8L1585.2 582.2L1590.8 582.7L1596.4 583.1L1602.0 583.6L1607.5 584.0L1613.1 584.4L1618.7 584.8L1624.2 585.3L1629.8 585.7L1635.4 586.1L1641.0 586.5L1646.5 586.9L1652.1 587.3L1657.7 587.7L1663.3 588.1L1668.8 588.5L1674.4 588.9L1680.0 589.2L1685.6 589.6L1691.1 590.0L1696.7 590.3L1702.3 590.7L1707.8 591.1L1713.4 591.4L1719.0 591.8L1724.6 592.1L1730.1 592.4L1735.7 592.8L1741.3 593.1L1746.9 593.4L1752.4 593.8L1758.0 594.1L1763.6 594.4L1769.1 594.7L1774.7 595.0L1780.3 595.3L1785.9 595.6L1791.4 595.9L1797.0 596.2L1802.6 596.5L1808.2 596.8L1813.7 597.0L1819.3 597.3L1824.9 597.6L1830.5 597.9L1836.0 598.1L1841.6 598.4L1847.2 598.6L1852.7 598.9L1858.3 599.2L1863.9 599.4L1869.5 599.6L1875.0 599.9L1880.6 600.1L1886.2 600.4L1891.8 600.6L1897.3 600.8L1902.9 601.0L1908.5 601.3L1914.0 601.5L1919.6 601.7L1925.2 601.9L1930.8 602.1L1936.3 602.3L1941.9 602.5L1947.5 602.7L1953.1 602.9" stroke="#000"/>
<path d="M1066.9 508.9L1072.5 509.8L1078.1 510.8L1083.7 511.8L1089.2 512.7L1094.8 513.7L1100.4 514.6L1106.0 515.6L1111.5 516.5L1117.1 517.4L1122.7 518.3L1128.2 519.2L1133.8 520.1L1139.4 521.0L1145.0 521.9L1150.5 522.8L1156.1 523.7L1161.7 524.5L1167.3 525.4L1172.8 526.3L1178.4 527.1L1184.0 527.9L1189.5 528.8L1195.1 529.6L1200.7 530.4L1206.3 531.2L1211.8 532.1L1217.4 532.9L1223.0 533.6L1228.6 534.4L1234.1 535.2L1239.7 536.0L1245.3 536.8L1250.9 537.5L1256.4 538.3L1262.0 539.0L1267.6 539.8L1273.1 540.5L1278.7 541.2L1284.3 542.0L1289.9 542.7L1295.4 543.4L1301.0 544.1L1306.6 544.8L1312.2 545.5L1317.7 546.2L1323.3 546.9L1328.9 547.5L1334.4 548.2L1340.0 548.9L1345.6 549.5L1351.2 550.2L1356.7 550.8L1362.3 551.5L1367.9 552.1L1373.5 552.8L1379.0 553.4L1384.6 554.0L1390.2 554.6L1395.8 555.2L1401.3 555.8L1406.9 556.4L1412.5 557.0L1418.0 557.6L1423.6 558.2L1429.2 558.7L1434.8 559.3L1440.3 559.9L1445.9 560.4L1451.5 561.0L1457.1 561.5L1462.6 562.1L1468.2 562.6L1473.8 563.2L1479.3 563.7L1484.9 564.2L1490.5 564.7L1496.1 565.2L1501.6 565.7L1507.2 566.2L1512.8 566.7L1518.4 567.2L1523.9 567.7L1529.5 568.2L1535.1 568.7L1540.7 569.1L1546.2 569.6L1551.8 570.1L1557.4 570.5L1562.9 571.0L1568.5 571.4L1574.1 571.9L1579.7 572.3L1585.2 572.7L1590.8 573.2L1596.4 573.6L1602.0 574.0L1607.5 574.4L1613.1 574.8L1618.7 575.2L1624.2 575.6L1629.8 576.0L1635.4 576.4L1641.0 576.8L1646.5 577.2L1652.1 577.6L1657.7 578.0L1663.3 578.3L1668.8 578.7L1674.4 579.1L1680.0 579.4L1685.6 579.8L1691.1 580.1L1696.7 580.5L1702.3 580.8L1707.8 581.2L1713.4 581.5L1719.0 581.8L1724.6 582.1L1730.1 582.5L1735.7 582.8L1741.3 583.1L1746.9 583.4L1752.4 583.7L1758.0 584.0L1763.6 584.3L1769.1 584.6L1774.7 584.9L1780.3 585.2L1785.9 585.5L1791.4 585.8L1797.0 586.0L1802.6 586.3L1808.2 586.6L1813.7 586.8L1819.3 587.1L1824.9 587.4L1830.5 587.6L1836.0 587.9L1841.6 588.1L1847.2 588.4L1852.7 588.6L1858.3 588.9L1863.9 589.1L1869.5 589.3L1875.0 589.6L1880.6 589.8L1886.2 590.0L1891.8 590.2L1897.3 590.4L1902.9 590.7L1908.5 590.9L1914.0 591.1L1919.6 591.3L1925.2 591.5L1930.8 591.7L1936.3 591.9L1941.9 592.1L1947.5 592.3L1953.1 592.5" stroke="#0000ff"/>
<path d="M1066.9 524.1L1072.5 525.0L1078.1 526.0L1083.7 527.0L1089.2 527.9L1094.8 528.9L1100.4 529.9L1106.0 530.8L1111.5 531.7L1117.1 532.7L1122.7 533.6L1128.2 534.5L1133.8 535.4L1139.4 536.4L1145.0 537.3L1150.5 538.2L1156.1 539.1L1161.7 540.0L1167.3 540.9L1172.8 541.7L1178.4 542.6L1184.0 543.5L1189.5 544.3L1195.1 545.2L1200.7 546.1L1206.3 546.9L1211.8 547.8L1217.4 548.6L1223.0 549.4L1228.6 550.3L1234.1 551.1L1239.7 551.9L1245.3 552.7L1250.9 553.5L1256.4 554.3L1262.0 555.1L1267.6 555.9L1273.1 556.7L1278.7 557.5L1284.3 558.3L1289.9 559.0L1295.4 559.8L1301.0 560.6L1306.6 561.3L1312.2 562.1L1317.7 562.8L1323.3 563.5L1328.9 564.3L1334.4 565.0L1340.0 565.7L1345.6 566.5L1351.2 567.2L1356.7 567.9L1362.3 568.6L1367.9 569.3L1373.5 570.0L1379.0 570.7L1384.6 571.3L1390.2 572.0L1395.8 572.7L1401.3 573.4L1406.9 574.0L1412.5 574.7L1418.0 575.3L1423.6 576.0L1429.2 576.6L1434.8 577.3L1440.3 577.9L1445.9 578.5L1451.5 579.1L1457.1 579.8L1462.6 580.4L1468.2 581.0L1473.8 581.6L1479.3 582.2L1484.9 582.8L1490.5 583.4L1496.1 583.9L1501.6 584.5L1507.2 585.1L1512.8 585.6L1518.4 586.2L1523.9 586.8L1529.5 587.3L1535.1 587.9L1540.7 588.4L1546.2 588.9L1551.8 589.5L1557.4 590.0L1562.9 590.5L1568.5 591.0L1574.1 591.5L1579.7 592.1L1585.2 592.6L1590.8 593.1L1596.4 593.5L1602.0 594.0L1607.5 594.5L1613.1 595.0L1618.7 595.5L1624.2 595.9L1629.8 596.4L1635.4 596.9L1641.0 597.3L1646.5 597.8L1652.1 598.2L1657.7 598.6L1663.3 599.1L1668.8 599.5L1674.4 599.9L1680.0 600.3L1685.6 600.8L1691.1 601.2L1696.7 601.6L1702.3 602.0L1707.8 602.4L1713.4 602.7L1719.0 603.1L1724.6 603.5L1730.1 603.9L1735.7 604.3L1741.3 604.6L1746.9 605.0L1752.4 605.3L1758.0 605.7L1763.6 606.0L1769.1 606.4L1774.7 606.7L1780.3 607.0L1785.9 607.4L1791.4 607.7L1797.0 608.0L1802.6 608.3L1808.2 608.6L1813.7 608.9L1819.3 609.2L1824.9 609.5L1830.5 609.8L1836.0 610.1L1841.6 610.4L1847.2 610.7L1852.7 610.9L1858.3 611.2L1863.9 611.5L1869.5 611.7L1875.0 612.0L1880.6 612.2L1886.2 612.5L1891.8 612.7L1897.3 612.9L1902.9 613.2L1908.5 613.4L1914.0 613.6L1919.6 613.8L1925.2 614.0L1930.8 614.2L1936.3 614.4L1941.9 614.6L1947.5 614.8L1953.1 615.0" stroke="#ff0000"/>
</g>
<text transform="translate(1967.3 614.6) scale(1 1.040)" font-size="39.5" fill="#262626" stroke="#262626" stroke-width="0.45">20</text>
<text transform="translate(1967.3 570.8) scale(1 1.040)" font-size="39.5" fill="#262626" stroke="#262626" stroke-width="0.45">40</text>
<text transform="translate(1967.3 527.1) scale(1 1.040)" font-size="39.5" fill="#262626" stroke="#262626" stroke-width="0.45">60</text>
<text transform="translate(1967.3 483.4) scale(1 1.040)" font-size="39.5" fill="#262626" stroke="#262626" stroke-width="0.45">80</text>
<text transform="translate(1967.3 439.6) scale(1 1.040)" font-size="39.5" fill="#262626" stroke="#262626" stroke-width="0.45">100</text>
<text transform="translate(1967.3 395.9) scale(1 1.040)" font-size="39.5" fill="#262626" stroke="#262626" stroke-width="0.45">120</text>
<text transform="translate(2091.4 501.2) rotate(-90) scale(1 1.040)" font-size="43.0" fill="#262626" stroke="#262626" stroke-width="0.45" text-anchor="middle">[deg]</text>
<clipPath id="cL2"><rect x="135.7" y="665.0" width="886.1" height="268.4"/></clipPath>
<path d="M313.5 668.0V930.4M490.3 668.0V930.4M667.2 668.0V930.4M844.0 668.0V930.4M136.7 868.3H1020.8M136.7 799.2H1020.8M136.7 730.2H1020.8" stroke="#dcdcdc" stroke-width="1.8" fill="none"/>
<path d="M313.5 930.4v-9.0M313.5 668.0v9.0M490.3 930.4v-9.0M490.3 668.0v9.0M667.2 930.4v-9.0M667.2 668.0v9.0M844.0 930.4v-9.0M844.0 668.0v9.0M136.7 868.3h9.0M1020.8 868.3h-9.0M136.7 799.2h9.0M1020.8 799.2h-9.0M136.7 730.2h9.0M1020.8 730.2h-9.0" stroke="#262626" stroke-width="2" fill="none"/>
<rect x="136.7" y="668.0" width="884.1" height="262.4" stroke="#262626" stroke-width="2" fill="none"/>
<text transform="translate(163.2 722.4) scale(1 1.040)" font-size="39.5" fill="#000" stroke="#000" stroke-width="0.45">(c) C1</text>
<g clip-path="url(#cL2)" fill="none" stroke-width="5.8" stroke-linejoin="round">
<path d="M135.6 722.4L141.2 723.4L146.8 724.5L152.4 725.5L157.9 726.5L163.5 727.5L169.1 728.5L174.7 729.5L180.2 730.5L185.8 731.4L191.4 732.4L197.0 733.3L202.5 734.3L208.1 735.2L213.7 736.1L219.2 737.1L224.8 738.0L230.4 738.9L236.0 739.8L241.5 740.6L247.1 741.5L252.7 742.4L258.3 743.2L263.8 744.1L269.4 744.9L275.0 745.8L280.6 746.6L286.1 747.4L291.7 748.2L297.3 749.0L302.9 749.8L308.4 750.6L314.0 751.4L319.6 752.2L325.1 752.9L330.7 753.7L336.3 754.4L341.9 755.2L347.4 755.9L353.0 756.6L358.6 757.4L364.2 758.1L369.7 758.8L375.3 759.5L380.9 760.2L386.5 760.9L392.0 761.5L397.6 762.2L403.2 762.9L408.8 763.5L414.3 764.2L419.9 764.8L425.5 765.5L431.0 766.1L436.6 766.7L442.2 767.4L447.8 768.0L453.3 768.6L458.9 769.2L464.5 769.8L470.1 770.4L475.6 771.0L481.2 771.5L486.8 772.1L492.4 772.7L497.9 773.3L503.5 773.8L509.1 774.4L514.7 774.9L520.2 775.5L525.8 776.0L531.4 776.5L536.9 777.0L542.5 777.6L548.1 778.1L553.7 778.6L559.2 779.1L564.8 779.6L570.4 780.1L576.0 780.6L581.5 781.1L587.1 781.6L592.7 782.0L598.3 782.5L603.8 783.0L609.4 783.4L615.0 783.9L620.6 784.4L626.1 784.8L631.7 785.3L637.3 785.7L642.8 786.1L648.4 786.6L654.0 787.0L659.6 787.4L665.1 787.8L670.7 788.3L676.3 788.7L681.9 789.1L687.4 789.5L693.0 789.9L698.6 790.3L704.2 790.7L709.7 791.1L715.3 791.5L720.9 791.9L726.5 792.3L732.0 792.6L737.6 793.0L743.2 793.4L748.7 793.8L754.3 794.1L759.9 794.5L765.5 794.9L771.0 795.2L776.6 795.6L782.2 795.9L787.8 796.3L793.3 796.7L798.9 797.0L804.5 797.3L810.1 797.7L815.6 798.0L821.2 798.4L826.8 798.7L832.4 799.0L837.9 799.4L843.5 799.7L849.1 800.0L854.6 800.4L860.2 800.7L865.8 801.0L871.4 801.3L876.9 801.7L882.5 802.0L888.1 802.3L893.7 802.6L899.2 802.9L904.8 803.2L910.4 803.6L916.0 803.9L921.5 804.2L927.1 804.5L932.7 804.8L938.3 805.1L943.8 805.4L949.4 805.7L955.0 806.0L960.5 806.3L966.1 806.6L971.7 806.9L977.3 807.2L982.8 807.5L988.4 807.8L994.0 808.1L999.6 808.4L1005.1 808.7L1010.7 809.0L1016.3 809.3L1021.9 809.6" stroke="#000"/>
<path d="M135.6 723.9L141.2 724.9L146.8 726.0L152.4 727.0L157.9 728.0L163.5 729.0L169.1 730.0L174.7 731.0L180.2 732.0L185.8 732.9L191.4 733.9L197.0 734.8L202.5 735.8L208.1 736.7L213.7 737.6L219.2 738.6L224.8 739.5L230.4 740.4L236.0 741.3L241.5 742.1L247.1 743.0L252.7 743.9L258.3 744.7L263.8 745.6L269.4 746.4L275.0 747.3L280.6 748.1L286.1 748.9L291.7 749.7L297.3 750.5L302.9 751.3L308.4 752.1L314.0 752.9L319.6 753.7L325.1 754.4L330.7 755.2L336.3 755.9L341.9 756.7L347.4 757.4L353.0 758.1L358.6 758.9L364.2 759.6L369.7 760.3L375.3 761.0L380.9 761.7L386.5 762.4L392.0 763.0L397.6 763.7L403.2 764.4L408.8 765.0L414.3 765.7L419.9 766.3L425.5 767.0L431.0 767.6L436.6 768.2L442.2 768.9L447.8 769.5L453.3 770.1L458.9 770.7L464.5 771.3L470.1 771.9L475.6 772.5L481.2 773.0L486.8 773.6L492.4 774.2L497.9 774.8L503.5 775.3L509.1 775.9L514.7 776.4L520.2 777.0L525.8 777.5L531.4 778.0L536.9 778.5L542.5 779.1L548.1 779.6L553.7 780.1L559.2 780.6L564.8 781.1L570.4 781.6L576.0 782.1L581.5 782.6L587.1 783.1L592.7 783.5L598.3 784.0L603.8 784.5L609.4 784.9L615.0 785.4L620.6 785.9L626.1 786.3L631.7 786.8L637.3 787.2L642.8 787.6L648.4 788.1L654.0 788.5L659.6 788.9L665.1 789.3L670.7 789.8L676.3 790.2L681.9 790.6L687.4 791.0L693.0 791.4L698.6 791.8L704.2 792.2L709.7 792.6L715.3 793.0L720.9 793.4L726.5 793.8L732.0 794.1L737.6 794.5L743.2 794.9L748.7 795.3L754.3 795.6L759.9 796.0L765.5 796.4L771.0 796.7L776.6 797.1L782.2 797.4L787.8 797.8L793.3 798.2L798.9 798.5L804.5 798.8L810.1 799.2L815.6 799.5L821.2 799.9L826.8 800.2L832.4 800.5L837.9 800.9L843.5 801.2L849.1 801.5L854.6 801.9L860.2 802.2L865.8 802.5L871.4 802.8L876.9 803.2L882.5 803.5L888.1 803.8L893.7 804.1L899.2 804.4L904.8 804.7L910.4 805.1L916.0 805.4L921.5 805.7L927.1 806.0L932.7 806.3L938.3 806.6L943.8 806.9L949.4 807.2L955.0 807.5L960.5 807.8L966.1 808.1L971.7 808.4L977.3 808.7L982.8 809.0L988.4 809.3L994.0 809.6L999.6 809.9L1005.1 810.2L1010.7 810.5L1016.3 810.8L1021.9 811.1" stroke="#000" stroke-dasharray="18.8 19.1"/>
<path d="M135.6 723.2L141.2 724.2L146.8 725.3L152.4 726.3L157.9 727.3L163.5 728.3L169.1 729.3L174.7 730.3L180.2 731.3L185.8 732.2L191.4 733.2L197.0 734.1L202.5 735.1L208.1 736.0L213.7 736.9L219.2 737.9L224.8 738.8L230.4 739.7L236.0 740.6L241.5 741.4L247.1 742.3L252.7 743.2L258.3 744.0L263.8 744.9L269.4 745.7L275.0 746.6L280.6 747.4L286.1 748.2L291.7 749.0L297.3 749.8L302.9 750.6L308.4 751.4L314.0 752.2L319.6 753.0L325.1 753.7L330.7 754.5L336.3 755.2L341.9 756.0L347.4 756.7L353.0 757.4L358.6 758.2L364.2 758.9L369.7 759.6L375.3 760.3L380.9 761.0L386.5 761.7L392.0 762.3L397.6 763.0L403.2 763.7L408.8 764.3L414.3 765.0L419.9 765.6L425.5 766.3L431.0 766.9L436.6 767.5L442.2 768.2L447.8 768.8L453.3 769.4L458.9 770.0L464.5 770.6L470.1 771.2L475.6 771.8L481.2 772.3L486.8 772.9L492.4 773.5L497.9 774.1L503.5 774.6L509.1 775.2L514.7 775.7L520.2 776.3L525.8 776.8L531.4 777.3L536.9 777.8L542.5 778.4L548.1 778.9L553.7 779.4L559.2 779.9L564.8 780.4L570.4 780.9L576.0 781.4L581.5 781.9L587.1 782.4L592.7 782.8L598.3 783.3L603.8 783.8L609.4 784.2L615.0 784.7L620.6 785.2L626.1 785.6L631.7 786.1L637.3 786.5L642.8 786.9L648.4 787.4L654.0 787.8L659.6 788.2L665.1 788.6L670.7 789.1L676.3 789.5L681.9 789.9L687.4 790.3L693.0 790.7L698.6 791.1L704.2 791.5L709.7 791.9L715.3 792.3L720.9 792.7L726.5 793.1L732.0 793.4L737.6 793.8L743.2 794.2L748.7 794.6L754.3 794.9L759.9 795.3L765.5 795.7L771.0 796.0L776.6 796.4L782.2 796.7L787.8 797.1L793.3 797.5L798.9 797.8L804.5 798.1L810.1 798.5L815.6 798.8L821.2 799.2L826.8 799.5L832.4 799.8L837.9 800.2L843.5 800.5L849.1 800.8L854.6 801.2L860.2 801.5L865.8 801.8L871.4 802.1L876.9 802.5L882.5 802.8L888.1 803.1L893.7 803.4L899.2 803.7L904.8 804.0L910.4 804.4L916.0 804.7L921.5 805.0L927.1 805.3L932.7 805.6L938.3 805.9L943.8 806.2L949.4 806.5L955.0 806.8L960.5 807.1L966.1 807.4L971.7 807.7L977.3 808.0L982.8 808.3L988.4 808.6L994.0 808.9L999.6 809.2L1005.1 809.5L1010.7 809.8L1016.3 810.1L1021.9 810.4" stroke="#000" stroke-dasharray="4.7 4.7"/>
<path d="M135.6 723.4L141.2 724.4L146.8 725.5L152.4 726.5L157.9 727.5L163.5 728.5L169.1 729.5L174.7 730.5L180.2 731.5L185.8 732.4L191.4 733.4L197.0 734.3L202.5 735.3L208.1 736.2L213.7 737.1L219.2 738.1L224.8 739.0L230.4 739.9L236.0 740.8L241.5 741.6L247.1 742.5L252.7 743.4L258.3 744.2L263.8 745.1L269.4 745.9L275.0 746.8L280.6 747.6L286.1 748.4L291.7 749.2L297.3 750.0L302.9 750.8L308.4 751.6L314.0 752.4L319.6 753.2L325.1 753.9L330.7 754.7L336.3 755.4L341.9 756.2L347.4 756.9L353.0 757.6L358.6 758.4L364.2 759.1L369.7 759.8L375.3 760.5L380.9 761.2L386.5 761.9L392.0 762.5L397.6 763.2L403.2 763.9L408.8 764.5L414.3 765.2L419.9 765.8L425.5 766.5L431.0 767.1L436.6 767.7L442.2 768.4L447.8 769.0L453.3 769.6L458.9 770.2L464.5 770.8L470.1 771.4L475.6 772.0L481.2 772.5L486.8 773.1L492.4 773.7L497.9 774.3L503.5 774.8L509.1 775.4L514.7 775.9L520.2 776.5L525.8 777.0L531.4 777.5L536.9 778.0L542.5 778.6L548.1 779.1L553.7 779.6L559.2 780.1L564.8 780.6L570.4 781.1L576.0 781.6L581.5 782.1L587.1 782.6L592.7 783.0L598.3 783.5L603.8 784.0L609.4 784.4L615.0 784.9L620.6 785.4L626.1 785.8L631.7 786.3L637.3 786.7L642.8 787.1L648.4 787.6L654.0 788.0L659.6 788.4L665.1 788.8L670.7 789.3L676.3 789.7L681.9 790.1L687.4 790.5L693.0 790.9L698.6 791.3L704.2 791.7L709.7 792.1L715.3 792.5L720.9 792.9L726.5 793.3L732.0 793.6L737.6 794.0L743.2 794.4L748.7 794.8L754.3 795.1L759.9 795.5L765.5 795.9L771.0 796.2L776.6 796.6L782.2 796.9L787.8 797.3L793.3 797.7L798.9 798.0L804.5 798.3L810.1 798.7L815.6 799.0L821.2 799.4L826.8 799.7L832.4 800.0L837.9 800.4L843.5 800.7L849.1 801.0L854.6 801.4L860.2 801.7L865.8 802.0L871.4 802.3L876.9 802.7L882.5 803.0L888.1 803.3L893.7 803.6L899.2 803.9L904.8 804.2L910.4 804.6L916.0 804.9L921.5 805.2L927.1 805.5L932.7 805.8L938.3 806.1L943.8 806.4L949.4 806.7L955.0 807.0L960.5 807.3L966.1 807.6L971.7 807.9L977.3 808.2L982.8 808.5L988.4 808.8L994.0 809.1L999.6 809.4L1005.1 809.7L1010.7 810.0L1016.3 810.3L1021.9 810.6" stroke="#000" stroke-dasharray="22.6 5.5 4.3 5.5" stroke-dashoffset="1.9"/>
</g>
<text transform="translate(119.3 883.3) scale(1 1.040)" font-size="39.5" fill="#262626" stroke="#262626" stroke-width="0.45" text-anchor="end">3</text>
<text transform="translate(119.3 814.2) scale(1 1.040)" font-size="39.5" fill="#262626" stroke="#262626" stroke-width="0.45" text-anchor="end">4</text>
<text transform="translate(119.3 745.2) scale(1 1.040)" font-size="39.5" fill="#262626" stroke="#262626" stroke-width="0.45" text-anchor="end">5</text>
<clipPath id="cR2"><rect x="1067.0" y="665.0" width="886.0" height="268.4"/></clipPath>
<path d="M1244.8 668.0V930.4M1421.6 668.0V930.4M1598.4 668.0V930.4M1775.2 668.0V930.4M1068.0 868.3H1952.0M1068.0 799.2H1952.0M1068.0 730.2H1952.0" stroke="#dcdcdc" stroke-width="1.8" fill="none"/>
<path d="M1244.8 930.4v-9.0M1244.8 668.0v9.0M1421.6 930.4v-9.0M1421.6 668.0v9.0M1598.4 930.4v-9.0M1598.4 668.0v9.0M1775.2 930.4v-9.0M1775.2 668.0v9.0M1068.0 868.3h9.0M1952.0 868.3h-9.0M1068.0 799.2h9.0M1952.0 799.2h-9.0M1068.0 730.2h9.0M1952.0 730.2h-9.0" stroke="#262626" stroke-width="2" fill="none"/>
<rect x="1068.0" y="668.0" width="884.0" height="262.4" stroke="#262626" stroke-width="2" fill="none"/>
<text transform="translate(1094.5 722.4) scale(1 1.040)" font-size="39.5" fill="#000" stroke="#000" stroke-width="0.45">(j) C1</text>
<g clip-path="url(#cR2)" fill="none" stroke-width="5.8" stroke-linejoin="round">
<path d="M1066.9 846.0L1072.5 846.4L1078.1 846.8L1083.7 847.1L1089.2 847.5L1094.8 847.8L1100.4 848.2L1106.0 848.5L1111.5 848.8L1117.1 849.2L1122.7 849.5L1128.2 849.9L1133.8 850.2L1139.4 850.5L1145.0 850.9L1150.5 851.2L1156.1 851.5L1161.7 851.8L1167.3 852.2L1172.8 852.5L1178.4 852.8L1184.0 853.1L1189.5 853.4L1195.1 853.8L1200.7 854.1L1206.3 854.4L1211.8 854.7L1217.4 855.0L1223.0 855.3L1228.6 855.6L1234.1 855.9L1239.7 856.2L1245.3 856.5L1250.9 856.8L1256.4 857.1L1262.0 857.4L1267.6 857.7L1273.1 858.0L1278.7 858.3L1284.3 858.6L1289.9 858.8L1295.4 859.1L1301.0 859.4L1306.6 859.7L1312.2 860.0L1317.7 860.2L1323.3 860.5L1328.9 860.8L1334.4 861.0L1340.0 861.3L1345.6 861.6L1351.2 861.8L1356.7 862.1L1362.3 862.4L1367.9 862.6L1373.5 862.9L1379.0 863.1L1384.6 863.4L1390.2 863.6L1395.8 863.9L1401.3 864.1L1406.9 864.4L1412.5 864.6L1418.0 864.9L1423.6 865.1L1429.2 865.4L1434.8 865.6L1440.3 865.8L1445.9 866.1L1451.5 866.3L1457.1 866.5L1462.6 866.8L1468.2 867.0L1473.8 867.2L1479.3 867.4L1484.9 867.7L1490.5 867.9L1496.1 868.1L1501.6 868.3L1507.2 868.5L1512.8 868.7L1518.4 869.0L1523.9 869.2L1529.5 869.4L1535.1 869.6L1540.7 869.8L1546.2 870.0L1551.8 870.2L1557.4 870.4L1562.9 870.6L1568.5 870.8L1574.1 871.0L1579.7 871.2L1585.2 871.4L1590.8 871.5L1596.4 871.7L1602.0 871.9L1607.5 872.1L1613.1 872.3L1618.7 872.5L1624.2 872.6L1629.8 872.8L1635.4 873.0L1641.0 873.2L1646.5 873.3L1652.1 873.5L1657.7 873.7L1663.3 873.8L1668.8 874.0L1674.4 874.2L1680.0 874.3L1685.6 874.5L1691.1 874.7L1696.7 874.8L1702.3 875.0L1707.8 875.1L1713.4 875.3L1719.0 875.4L1724.6 875.6L1730.1 875.7L1735.7 875.9L1741.3 876.0L1746.9 876.2L1752.4 876.3L1758.0 876.4L1763.6 876.6L1769.1 876.7L1774.7 876.8L1780.3 877.0L1785.9 877.1L1791.4 877.2L1797.0 877.4L1802.6 877.5L1808.2 877.6L1813.7 877.7L1819.3 877.9L1824.9 878.0L1830.5 878.1L1836.0 878.2L1841.6 878.3L1847.2 878.4L1852.7 878.6L1858.3 878.7L1863.9 878.8L1869.5 878.9L1875.0 879.0L1880.6 879.1L1886.2 879.2L1891.8 879.3L1897.3 879.4L1902.9 879.5L1908.5 879.6L1914.0 879.7L1919.6 879.8L1925.2 879.9L1930.8 880.0L1936.3 880.0L1941.9 880.1L1947.5 880.2L1953.1 880.3" stroke="#000"/>
<path d="M1066.9 839.7L1072.5 840.1L1078.1 840.6L1083.7 841.0L1089.2 841.4L1094.8 841.9L1100.4 842.3L1106.0 842.7L1111.5 843.1L1117.1 843.6L1122.7 844.0L1128.2 844.4L1133.8 844.8L1139.4 845.2L1145.0 845.6L1150.5 846.0L1156.1 846.4L1161.7 846.8L1167.3 847.1L1172.8 847.5L1178.4 847.9L1184.0 848.3L1189.5 848.6L1195.1 849.0L1200.7 849.4L1206.3 849.7L1211.8 850.1L1217.4 850.5L1223.0 850.8L1228.6 851.2L1234.1 851.5L1239.7 851.9L1245.3 852.2L1250.9 852.5L1256.4 852.9L1262.0 853.2L1267.6 853.5L1273.1 853.9L1278.7 854.2L1284.3 854.5L1289.9 854.8L1295.4 855.1L1301.0 855.4L1306.6 855.8L1312.2 856.1L1317.7 856.4L1323.3 856.7L1328.9 857.0L1334.4 857.3L1340.0 857.6L1345.6 857.8L1351.2 858.1L1356.7 858.4L1362.3 858.7L1367.9 859.0L1373.5 859.3L1379.0 859.5L1384.6 859.8L1390.2 860.1L1395.8 860.3L1401.3 860.6L1406.9 860.9L1412.5 861.1L1418.0 861.4L1423.6 861.6L1429.2 861.9L1434.8 862.1L1440.3 862.4L1445.9 862.6L1451.5 862.9L1457.1 863.1L1462.6 863.4L1468.2 863.6L1473.8 863.8L1479.3 864.1L1484.9 864.3L1490.5 864.5L1496.1 864.7L1501.6 865.0L1507.2 865.2L1512.8 865.4L1518.4 865.6L1523.9 865.8L1529.5 866.0L1535.1 866.2L1540.7 866.5L1546.2 866.7L1551.8 866.9L1557.4 867.1L1562.9 867.3L1568.5 867.5L1574.1 867.7L1579.7 867.9L1585.2 868.0L1590.8 868.2L1596.4 868.4L1602.0 868.6L1607.5 868.8L1613.1 869.0L1618.7 869.2L1624.2 869.3L1629.8 869.5L1635.4 869.7L1641.0 869.9L1646.5 870.0L1652.1 870.2L1657.7 870.4L1663.3 870.5L1668.8 870.7L1674.4 870.9L1680.0 871.0L1685.6 871.2L1691.1 871.4L1696.7 871.5L1702.3 871.7L1707.8 871.8L1713.4 872.0L1719.0 872.1L1724.6 872.3L1730.1 872.4L1735.7 872.6L1741.3 872.7L1746.9 872.9L1752.4 873.0L1758.0 873.2L1763.6 873.3L1769.1 873.4L1774.7 873.6L1780.3 873.7L1785.9 873.9L1791.4 874.0L1797.0 874.1L1802.6 874.3L1808.2 874.4L1813.7 874.5L1819.3 874.6L1824.9 874.8L1830.5 874.9L1836.0 875.0L1841.6 875.2L1847.2 875.3L1852.7 875.4L1858.3 875.5L1863.9 875.6L1869.5 875.8L1875.0 875.9L1880.6 876.0L1886.2 876.1L1891.8 876.2L1897.3 876.3L1902.9 876.5L1908.5 876.6L1914.0 876.7L1919.6 876.8L1925.2 876.9L1930.8 877.0L1936.3 877.1L1941.9 877.2L1947.5 877.3L1953.1 877.5" stroke="#0000ff"/>
<path d="M1066.9 850.3L1072.5 850.7L1078.1 851.0L1083.7 851.4L1089.2 851.8L1094.8 852.1L1100.4 852.5L1106.0 852.8L1111.5 853.2L1117.1 853.5L1122.7 853.9L1128.2 854.2L1133.8 854.5L1139.4 854.9L1145.0 855.2L1150.5 855.5L1156.1 855.9L1161.7 856.2L1167.3 856.5L1172.8 856.8L1178.4 857.1L1184.0 857.5L1189.5 857.8L1195.1 858.1L1200.7 858.4L1206.3 858.7L1211.8 859.0L1217.4 859.3L1223.0 859.6L1228.6 859.9L1234.1 860.2L1239.7 860.5L1245.3 860.8L1250.9 861.1L1256.4 861.4L1262.0 861.6L1267.6 861.9L1273.1 862.2L1278.7 862.5L1284.3 862.8L1289.9 863.0L1295.4 863.3L1301.0 863.6L1306.6 863.8L1312.2 864.1L1317.7 864.4L1323.3 864.6L1328.9 864.9L1334.4 865.2L1340.0 865.4L1345.6 865.7L1351.2 865.9L1356.7 866.2L1362.3 866.4L1367.9 866.7L1373.5 866.9L1379.0 867.1L1384.6 867.4L1390.2 867.6L1395.8 867.8L1401.3 868.1L1406.9 868.3L1412.5 868.5L1418.0 868.8L1423.6 869.0L1429.2 869.2L1434.8 869.4L1440.3 869.7L1445.9 869.9L1451.5 870.1L1457.1 870.3L1462.6 870.5L1468.2 870.7L1473.8 870.9L1479.3 871.1L1484.9 871.3L1490.5 871.6L1496.1 871.8L1501.6 872.0L1507.2 872.2L1512.8 872.3L1518.4 872.5L1523.9 872.7L1529.5 872.9L1535.1 873.1L1540.7 873.3L1546.2 873.5L1551.8 873.7L1557.4 873.9L1562.9 874.0L1568.5 874.2L1574.1 874.4L1579.7 874.6L1585.2 874.7L1590.8 874.9L1596.4 875.1L1602.0 875.3L1607.5 875.4L1613.1 875.6L1618.7 875.8L1624.2 875.9L1629.8 876.1L1635.4 876.2L1641.0 876.4L1646.5 876.6L1652.1 876.7L1657.7 876.9L1663.3 877.0L1668.8 877.2L1674.4 877.3L1680.0 877.5L1685.6 877.6L1691.1 877.8L1696.7 877.9L1702.3 878.1L1707.8 878.2L1713.4 878.3L1719.0 878.5L1724.6 878.6L1730.1 878.7L1735.7 878.9L1741.3 879.0L1746.9 879.1L1752.4 879.3L1758.0 879.4L1763.6 879.5L1769.1 879.7L1774.7 879.8L1780.3 879.9L1785.9 880.0L1791.4 880.1L1797.0 880.3L1802.6 880.4L1808.2 880.5L1813.7 880.6L1819.3 880.7L1824.9 880.9L1830.5 881.0L1836.0 881.1L1841.6 881.2L1847.2 881.3L1852.7 881.4L1858.3 881.5L1863.9 881.6L1869.5 881.7L1875.0 881.8L1880.6 881.9L1886.2 882.0L1891.8 882.1L1897.3 882.2L1902.9 882.3L1908.5 882.4L1914.0 882.5L1919.6 882.6L1925.2 882.7L1930.8 882.8L1936.3 882.9L1941.9 883.0L1947.5 883.1L1953.1 883.2" stroke="#ff0000"/>
</g>
<text transform="translate(1967.3 883.3) scale(1 1.040)" font-size="39.5" fill="#262626" stroke="#262626" stroke-width="0.45">3</text>
<text transform="translate(1967.3 814.2) scale(1 1.040)" font-size="39.5" fill="#262626" stroke="#262626" stroke-width="0.45">4</text>
<text transform="translate(1967.3 745.2) scale(1 1.040)" font-size="39.5" fill="#262626" stroke="#262626" stroke-width="0.45">5</text>
<clipPath id="cL3"><rect x="135.7" y="963.1" width="886.1" height="268.4"/></clipPath>
<path d="M313.5 966.1V1228.5M490.3 966.1V1228.5M667.2 966.1V1228.5M844.0 966.1V1228.5M136.7 1156.9H1020.8M136.7 1077.4H1020.8M136.7 997.9H1020.8" stroke="#dcdcdc" stroke-width="1.8" fill="none"/>
<path d="M313.5 1228.5v-9.0M313.5 966.1v9.0M490.3 1228.5v-9.0M490.3 966.1v9.0M667.2 1228.5v-9.0M667.2 966.1v9.0M844.0 1228.5v-9.0M844.0 966.1v9.0M136.7 1156.9h9.0M1020.8 1156.9h-9.0M136.7 1077.4h9.0M1020.8 1077.4h-9.0M136.7 997.9h9.0M1020.8 997.9h-9.0" stroke="#262626" stroke-width="2" fill="none"/>
<rect x="136.7" y="966.1" width="884.1" height="262.4" stroke="#262626" stroke-width="2" fill="none"/>
<text transform="translate(163.2 1020.5) scale(1 1.040)" font-size="39.5" fill="#000" stroke="#000" stroke-width="0.45">(d) C2</text>
<g clip-path="url(#cL3)" fill="none" stroke-width="5.8" stroke-linejoin="round">
<path d="M135.6 1089.9L141.2 1089.9L146.8 1089.9L152.4 1089.9L157.9 1089.9L163.5 1089.9L169.1 1089.9L174.7 1089.9L180.2 1089.9L185.8 1089.9L191.4 1089.9L197.0 1089.9L202.5 1089.9L208.1 1089.9L213.7 1089.8L219.2 1089.8L224.8 1089.8L230.4 1089.8L236.0 1089.8L241.5 1089.8L247.1 1089.8L252.7 1089.8L258.3 1089.8L263.8 1089.8L269.4 1089.8L275.0 1089.8L280.6 1089.8L286.1 1089.8L291.7 1089.8L297.3 1089.8L302.9 1089.8L308.4 1089.8L314.0 1089.8L319.6 1089.8L325.1 1089.8L330.7 1089.8L336.3 1089.8L341.9 1089.8L347.4 1089.8L353.0 1089.8L358.6 1089.7L364.2 1089.7L369.7 1089.7L375.3 1089.7L380.9 1089.7L386.5 1089.7L392.0 1089.7L397.6 1089.7L403.2 1089.7L408.8 1089.7L414.3 1089.7L419.9 1089.7L425.5 1089.7L431.0 1089.7L436.6 1089.7L442.2 1089.7L447.8 1089.7L453.3 1089.7L458.9 1089.7L464.5 1089.7L470.1 1089.7L475.6 1089.7L481.2 1089.7L486.8 1089.7L492.4 1089.7L497.9 1089.7L503.5 1089.7L509.1 1089.6L514.7 1089.6L520.2 1089.6L525.8 1089.6L531.4 1089.6L536.9 1089.6L542.5 1089.6L548.1 1089.6L553.7 1089.6L559.2 1089.6L564.8 1089.6L570.4 1089.6L576.0 1089.6L581.5 1089.6L587.1 1089.6L592.7 1089.6L598.3 1089.6L603.8 1089.6L609.4 1089.6L615.0 1089.6L620.6 1089.6L626.1 1089.6L631.7 1089.6L637.3 1089.6L642.8 1089.6L648.4 1089.6L654.0 1089.5L659.6 1089.5L665.1 1089.5L670.7 1089.5L676.3 1089.5L681.9 1089.5L687.4 1089.5L693.0 1089.5L698.6 1089.5L704.2 1089.5L709.7 1089.5L715.3 1089.5L720.9 1089.5L726.5 1089.5L732.0 1089.5L737.6 1089.5L743.2 1089.5L748.7 1089.5L754.3 1089.5L759.9 1089.5L765.5 1089.5L771.0 1089.5L776.6 1089.5L782.2 1089.5L787.8 1089.5L793.3 1089.5L798.9 1089.5L804.5 1089.4L810.1 1089.4L815.6 1089.4L821.2 1089.4L826.8 1089.4L832.4 1089.4L837.9 1089.4L843.5 1089.4L849.1 1089.4L854.6 1089.4L860.2 1089.4L865.8 1089.4L871.4 1089.4L876.9 1089.4L882.5 1089.4L888.1 1089.4L893.7 1089.4L899.2 1089.4L904.8 1089.4L910.4 1089.4L916.0 1089.4L921.5 1089.4L927.1 1089.4L932.7 1089.4L938.3 1089.4L943.8 1089.4L949.4 1089.3L955.0 1089.3L960.5 1089.3L966.1 1089.3L971.7 1089.3L977.3 1089.3L982.8 1089.3L988.4 1089.3L994.0 1089.3L999.6 1089.3L1005.1 1089.3L1010.7 1089.3L1016.3 1089.3L1021.9 1089.3" stroke="#000"/>
<path d="M135.6 1090.9L141.2 1090.9L146.8 1090.9L152.4 1090.9L157.9 1090.9L163.5 1090.9L169.1 1090.9L174.7 1090.9L180.2 1090.9L185.8 1090.9L191.4 1090.9L197.0 1090.9L202.5 1090.9L208.1 1090.9L213.7 1090.8L219.2 1090.8L224.8 1090.8L230.4 1090.8L236.0 1090.8L241.5 1090.8L247.1 1090.8L252.7 1090.8L258.3 1090.8L263.8 1090.8L269.4 1090.8L275.0 1090.8L280.6 1090.8L286.1 1090.8L291.7 1090.8L297.3 1090.8L302.9 1090.8L308.4 1090.8L314.0 1090.8L319.6 1090.8L325.1 1090.8L330.7 1090.8L336.3 1090.8L341.9 1090.8L347.4 1090.8L353.0 1090.8L358.6 1090.7L364.2 1090.7L369.7 1090.7L375.3 1090.7L380.9 1090.7L386.5 1090.7L392.0 1090.7L397.6 1090.7L403.2 1090.7L408.8 1090.7L414.3 1090.7L419.9 1090.7L425.5 1090.7L431.0 1090.7L436.6 1090.7L442.2 1090.7L447.8 1090.7L453.3 1090.7L458.9 1090.7L464.5 1090.7L470.1 1090.7L475.6 1090.7L481.2 1090.7L486.8 1090.7L492.4 1090.7L497.9 1090.7L503.5 1090.7L509.1 1090.6L514.7 1090.6L520.2 1090.6L525.8 1090.6L531.4 1090.6L536.9 1090.6L542.5 1090.6L548.1 1090.6L553.7 1090.6L559.2 1090.6L564.8 1090.6L570.4 1090.6L576.0 1090.6L581.5 1090.6L587.1 1090.6L592.7 1090.6L598.3 1090.6L603.8 1090.6L609.4 1090.6L615.0 1090.6L620.6 1090.6L626.1 1090.6L631.7 1090.6L637.3 1090.6L642.8 1090.6L648.4 1090.6L654.0 1090.5L659.6 1090.5L665.1 1090.5L670.7 1090.5L676.3 1090.5L681.9 1090.5L687.4 1090.5L693.0 1090.5L698.6 1090.5L704.2 1090.5L709.7 1090.5L715.3 1090.5L720.9 1090.5L726.5 1090.5L732.0 1090.5L737.6 1090.5L743.2 1090.5L748.7 1090.5L754.3 1090.5L759.9 1090.5L765.5 1090.5L771.0 1090.5L776.6 1090.5L782.2 1090.5L787.8 1090.5L793.3 1090.5L798.9 1090.5L804.5 1090.4L810.1 1090.4L815.6 1090.4L821.2 1090.4L826.8 1090.4L832.4 1090.4L837.9 1090.4L843.5 1090.4L849.1 1090.4L854.6 1090.4L860.2 1090.4L865.8 1090.4L871.4 1090.4L876.9 1090.4L882.5 1090.4L888.1 1090.4L893.7 1090.4L899.2 1090.4L904.8 1090.4L910.4 1090.4L916.0 1090.4L921.5 1090.4L927.1 1090.4L932.7 1090.4L938.3 1090.4L943.8 1090.4L949.4 1090.3L955.0 1090.3L960.5 1090.3L966.1 1090.3L971.7 1090.3L977.3 1090.3L982.8 1090.3L988.4 1090.3L994.0 1090.3L999.6 1090.3L1005.1 1090.3L1010.7 1090.3L1016.3 1090.3L1021.9 1090.3" stroke="#000" stroke-dasharray="18.8 19.1"/>
<path d="M135.6 1090.4L141.2 1090.4L146.8 1090.4L152.4 1090.4L157.9 1090.4L163.5 1090.4L169.1 1090.4L174.7 1090.4L180.2 1090.4L185.8 1090.4L191.4 1090.4L197.0 1090.4L202.5 1090.4L208.1 1090.4L213.7 1090.3L219.2 1090.3L224.8 1090.3L230.4 1090.3L236.0 1090.3L241.5 1090.3L247.1 1090.3L252.7 1090.3L258.3 1090.3L263.8 1090.3L269.4 1090.3L275.0 1090.3L280.6 1090.3L286.1 1090.3L291.7 1090.3L297.3 1090.3L302.9 1090.3L308.4 1090.3L314.0 1090.3L319.6 1090.3L325.1 1090.3L330.7 1090.3L336.3 1090.3L341.9 1090.3L347.4 1090.3L353.0 1090.3L358.6 1090.2L364.2 1090.2L369.7 1090.2L375.3 1090.2L380.9 1090.2L386.5 1090.2L392.0 1090.2L397.6 1090.2L403.2 1090.2L408.8 1090.2L414.3 1090.2L419.9 1090.2L425.5 1090.2L431.0 1090.2L436.6 1090.2L442.2 1090.2L447.8 1090.2L453.3 1090.2L458.9 1090.2L464.5 1090.2L470.1 1090.2L475.6 1090.2L481.2 1090.2L486.8 1090.2L492.4 1090.2L497.9 1090.2L503.5 1090.2L509.1 1090.1L514.7 1090.1L520.2 1090.1L525.8 1090.1L531.4 1090.1L536.9 1090.1L542.5 1090.1L548.1 1090.1L553.7 1090.1L559.2 1090.1L564.8 1090.1L570.4 1090.1L576.0 1090.1L581.5 1090.1L587.1 1090.1L592.7 1090.1L598.3 1090.1L603.8 1090.1L609.4 1090.1L615.0 1090.1L620.6 1090.1L626.1 1090.1L631.7 1090.1L637.3 1090.1L642.8 1090.1L648.4 1090.1L654.0 1090.0L659.6 1090.0L665.1 1090.0L670.7 1090.0L676.3 1090.0L681.9 1090.0L687.4 1090.0L693.0 1090.0L698.6 1090.0L704.2 1090.0L709.7 1090.0L715.3 1090.0L720.9 1090.0L726.5 1090.0L732.0 1090.0L737.6 1090.0L743.2 1090.0L748.7 1090.0L754.3 1090.0L759.9 1090.0L765.5 1090.0L771.0 1090.0L776.6 1090.0L782.2 1090.0L787.8 1090.0L793.3 1090.0L798.9 1090.0L804.5 1089.9L810.1 1089.9L815.6 1089.9L821.2 1089.9L826.8 1089.9L832.4 1089.9L837.9 1089.9L843.5 1089.9L849.1 1089.9L854.6 1089.9L860.2 1089.9L865.8 1089.9L871.4 1089.9L876.9 1089.9L882.5 1089.9L888.1 1089.9L893.7 1089.9L899.2 1089.9L904.8 1089.9L910.4 1089.9L916.0 1089.9L921.5 1089.9L927.1 1089.9L932.7 1089.9L938.3 1089.9L943.8 1089.9L949.4 1089.8L955.0 1089.8L960.5 1089.8L966.1 1089.8L971.7 1089.8L977.3 1089.8L982.8 1089.8L988.4 1089.8L994.0 1089.8L999.6 1089.8L1005.1 1089.8L1010.7 1089.8L1016.3 1089.8L1021.9 1089.8" stroke="#000" stroke-dasharray="4.7 4.7"/>
<path d="M135.6 1090.6L141.2 1090.6L146.8 1090.6L152.4 1090.6L157.9 1090.6L163.5 1090.6L169.1 1090.6L174.7 1090.6L180.2 1090.6L185.8 1090.6L191.4 1090.6L197.0 1090.6L202.5 1090.6L208.1 1090.6L213.7 1090.5L219.2 1090.5L224.8 1090.5L230.4 1090.5L236.0 1090.5L241.5 1090.5L247.1 1090.5L252.7 1090.5L258.3 1090.5L263.8 1090.5L269.4 1090.5L275.0 1090.5L280.6 1090.5L286.1 1090.5L291.7 1090.5L297.3 1090.5L302.9 1090.5L308.4 1090.5L314.0 1090.5L319.6 1090.5L325.1 1090.5L330.7 1090.5L336.3 1090.5L341.9 1090.5L347.4 1090.5L353.0 1090.5L358.6 1090.4L364.2 1090.4L369.7 1090.4L375.3 1090.4L380.9 1090.4L386.5 1090.4L392.0 1090.4L397.6 1090.4L403.2 1090.4L408.8 1090.4L414.3 1090.4L419.9 1090.4L425.5 1090.4L431.0 1090.4L436.6 1090.4L442.2 1090.4L447.8 1090.4L453.3 1090.4L458.9 1090.4L464.5 1090.4L470.1 1090.4L475.6 1090.4L481.2 1090.4L486.8 1090.4L492.4 1090.4L497.9 1090.4L503.5 1090.4L509.1 1090.3L514.7 1090.3L520.2 1090.3L525.8 1090.3L531.4 1090.3L536.9 1090.3L542.5 1090.3L548.1 1090.3L553.7 1090.3L559.2 1090.3L564.8 1090.3L570.4 1090.3L576.0 1090.3L581.5 1090.3L587.1 1090.3L592.7 1090.3L598.3 1090.3L603.8 1090.3L609.4 1090.3L615.0 1090.3L620.6 1090.3L626.1 1090.3L631.7 1090.3L637.3 1090.3L642.8 1090.3L648.4 1090.3L654.0 1090.2L659.6 1090.2L665.1 1090.2L670.7 1090.2L676.3 1090.2L681.9 1090.2L687.4 1090.2L693.0 1090.2L698.6 1090.2L704.2 1090.2L709.7 1090.2L715.3 1090.2L720.9 1090.2L726.5 1090.2L732.0 1090.2L737.6 1090.2L743.2 1090.2L748.7 1090.2L754.3 1090.2L759.9 1090.2L765.5 1090.2L771.0 1090.2L776.6 1090.2L782.2 1090.2L787.8 1090.2L793.3 1090.2L798.9 1090.2L804.5 1090.1L810.1 1090.1L815.6 1090.1L821.2 1090.1L826.8 1090.1L832.4 1090.1L837.9 1090.1L843.5 1090.1L849.1 1090.1L854.6 1090.1L860.2 1090.1L865.8 1090.1L871.4 1090.1L876.9 1090.1L882.5 1090.1L888.1 1090.1L893.7 1090.1L899.2 1090.1L904.8 1090.1L910.4 1090.1L916.0 1090.1L921.5 1090.1L927.1 1090.1L932.7 1090.1L938.3 1090.1L943.8 1090.1L949.4 1090.0L955.0 1090.0L960.5 1090.0L966.1 1090.0L971.7 1090.0L977.3 1090.0L982.8 1090.0L988.4 1090.0L994.0 1090.0L999.6 1090.0L1005.1 1090.0L1010.7 1090.0L1016.3 1090.0L1021.9 1090.0" stroke="#000" stroke-dasharray="22.6 5.5 4.3 5.5" stroke-dashoffset="1.9"/>
</g>
<text transform="translate(119.3 1171.9) scale(1 1.040)" font-size="39.5" fill="#262626" stroke="#262626" stroke-width="0.45" text-anchor="end">-10</text>
<text transform="translate(119.3 1092.4) scale(1 1.040)" font-size="39.5" fill="#262626" stroke="#262626" stroke-width="0.45" text-anchor="end">0</text>
<text transform="translate(119.3 1012.9) scale(1 1.040)" font-size="39.5" fill="#262626" stroke="#262626" stroke-width="0.45" text-anchor="end">10</text>
<text transform="translate(38.0 1097.3) rotate(-90) scale(1 1.040)" font-size="43.0" fill="#262626" stroke="#262626" stroke-width="0.45" text-anchor="middle">T [K]</text>
<clipPath id="cR3"><rect x="1067.0" y="963.1" width="886.0" height="268.4"/></clipPath>
<path d="M1244.8 966.1V1228.5M1421.6 966.1V1228.5M1598.4 966.1V1228.5M1775.2 966.1V1228.5M1068.0 1156.9H1952.0M1068.0 1077.4H1952.0M1068.0 997.9H1952.0" stroke="#dcdcdc" stroke-width="1.8" fill="none"/>
<path d="M1244.8 1228.5v-9.0M1244.8 966.1v9.0M1421.6 1228.5v-9.0M1421.6 966.1v9.0M1598.4 1228.5v-9.0M1598.4 966.1v9.0M1775.2 1228.5v-9.0M1775.2 966.1v9.0M1068.0 1156.9h9.0M1952.0 1156.9h-9.0M1068.0 1077.4h9.0M1952.0 1077.4h-9.0M1068.0 997.9h9.0M1952.0 997.9h-9.0" stroke="#262626" stroke-width="2" fill="none"/>
<rect x="1068.0" y="966.1" width="884.0" height="262.4" stroke="#262626" stroke-width="2" fill="none"/>
<text transform="translate(1094.5 1020.5) scale(1 1.040)" font-size="39.5" fill="#000" stroke="#000" stroke-width="0.45">(k) C2</text>
<g clip-path="url(#cR3)" fill="none" stroke-width="5.8" stroke-linejoin="round">
<path d="M1066.9 1099.4L1072.5 1099.4L1078.1 1099.4L1083.7 1099.4L1089.2 1099.3L1094.8 1099.3L1100.4 1099.3L1106.0 1099.3L1111.5 1099.3L1117.1 1099.3L1122.7 1099.3L1128.2 1099.2L1133.8 1099.2L1139.4 1099.2L1145.0 1099.2L1150.5 1099.2L1156.1 1099.2L1161.7 1099.2L1167.3 1099.1L1172.8 1099.1L1178.4 1099.1L1184.0 1099.1L1189.5 1099.1L1195.1 1099.1L1200.7 1099.1L1206.3 1099.0L1211.8 1099.0L1217.4 1099.0L1223.0 1099.0L1228.6 1099.0L1234.1 1099.0L1239.7 1099.0L1245.3 1098.9L1250.9 1098.9L1256.4 1098.9L1262.0 1098.9L1267.6 1098.9L1273.1 1098.9L1278.7 1098.9L1284.3 1098.8L1289.9 1098.8L1295.4 1098.8L1301.0 1098.8L1306.6 1098.8L1312.2 1098.8L1317.7 1098.8L1323.3 1098.7L1328.9 1098.7L1334.4 1098.7L1340.0 1098.7L1345.6 1098.7L1351.2 1098.7L1356.7 1098.6L1362.3 1098.6L1367.9 1098.6L1373.5 1098.6L1379.0 1098.6L1384.6 1098.6L1390.2 1098.6L1395.8 1098.5L1401.3 1098.5L1406.9 1098.5L1412.5 1098.5L1418.0 1098.5L1423.6 1098.5L1429.2 1098.5L1434.8 1098.4L1440.3 1098.4L1445.9 1098.4L1451.5 1098.4L1457.1 1098.4L1462.6 1098.4L1468.2 1098.4L1473.8 1098.3L1479.3 1098.3L1484.9 1098.3L1490.5 1098.3L1496.1 1098.3L1501.6 1098.3L1507.2 1098.3L1512.8 1098.2L1518.4 1098.2L1523.9 1098.2L1529.5 1098.2L1535.1 1098.2L1540.7 1098.2L1546.2 1098.2L1551.8 1098.1L1557.4 1098.1L1562.9 1098.1L1568.5 1098.1L1574.1 1098.1L1579.7 1098.1L1585.2 1098.1L1590.8 1098.0L1596.4 1098.0L1602.0 1098.0L1607.5 1098.0L1613.1 1098.0L1618.7 1098.0L1624.2 1098.0L1629.8 1097.9L1635.4 1097.9L1641.0 1097.9L1646.5 1097.9L1652.1 1097.9L1657.7 1097.9L1663.3 1097.9L1668.8 1097.8L1674.4 1097.8L1680.0 1097.8L1685.6 1097.8L1691.1 1097.8L1696.7 1097.8L1702.3 1097.7L1707.8 1097.7L1713.4 1097.7L1719.0 1097.7L1724.6 1097.7L1730.1 1097.7L1735.7 1097.7L1741.3 1097.6L1746.9 1097.6L1752.4 1097.6L1758.0 1097.6L1763.6 1097.6L1769.1 1097.6L1774.7 1097.6L1780.3 1097.5L1785.9 1097.5L1791.4 1097.5L1797.0 1097.5L1802.6 1097.5L1808.2 1097.5L1813.7 1097.5L1819.3 1097.4L1824.9 1097.4L1830.5 1097.4L1836.0 1097.4L1841.6 1097.4L1847.2 1097.4L1852.7 1097.4L1858.3 1097.3L1863.9 1097.3L1869.5 1097.3L1875.0 1097.3L1880.6 1097.3L1886.2 1097.3L1891.8 1097.3L1897.3 1097.2L1902.9 1097.2L1908.5 1097.2L1914.0 1097.2L1919.6 1097.2L1925.2 1097.2L1930.8 1097.2L1936.3 1097.1L1941.9 1097.1L1947.5 1097.1L1953.1 1097.1" stroke="#000"/>
<path d="M1066.9 1032.5L1072.5 1032.5L1078.1 1032.5L1083.7 1032.5L1089.2 1032.4L1094.8 1032.4L1100.4 1032.4L1106.0 1032.4L1111.5 1032.4L1117.1 1032.4L1122.7 1032.4L1128.2 1032.4L1133.8 1032.3L1139.4 1032.3L1145.0 1032.3L1150.5 1032.3L1156.1 1032.3L1161.7 1032.3L1167.3 1032.3L1172.8 1032.2L1178.4 1032.2L1184.0 1032.2L1189.5 1032.2L1195.1 1032.2L1200.7 1032.2L1206.3 1032.2L1211.8 1032.1L1217.4 1032.1L1223.0 1032.1L1228.6 1032.1L1234.1 1032.1L1239.7 1032.1L1245.3 1032.1L1250.9 1032.0L1256.4 1032.0L1262.0 1032.0L1267.6 1032.0L1273.1 1032.0L1278.7 1032.0L1284.3 1032.0L1289.9 1031.9L1295.4 1031.9L1301.0 1031.9L1306.6 1031.9L1312.2 1031.9L1317.7 1031.9L1323.3 1031.9L1328.9 1031.9L1334.4 1031.8L1340.0 1031.8L1345.6 1031.8L1351.2 1031.8L1356.7 1031.8L1362.3 1031.8L1367.9 1031.8L1373.5 1031.7L1379.0 1031.7L1384.6 1031.7L1390.2 1031.7L1395.8 1031.7L1401.3 1031.7L1406.9 1031.7L1412.5 1031.6L1418.0 1031.6L1423.6 1031.6L1429.2 1031.6L1434.8 1031.6L1440.3 1031.6L1445.9 1031.6L1451.5 1031.5L1457.1 1031.5L1462.6 1031.5L1468.2 1031.5L1473.8 1031.5L1479.3 1031.5L1484.9 1031.5L1490.5 1031.4L1496.1 1031.4L1501.6 1031.4L1507.2 1031.4L1512.8 1031.4L1518.4 1031.4L1523.9 1031.4L1529.5 1031.4L1535.1 1031.3L1540.7 1031.3L1546.2 1031.3L1551.8 1031.3L1557.4 1031.3L1562.9 1031.3L1568.5 1031.3L1574.1 1031.2L1579.7 1031.2L1585.2 1031.2L1590.8 1031.2L1596.4 1031.2L1602.0 1031.2L1607.5 1031.2L1613.1 1031.1L1618.7 1031.1L1624.2 1031.1L1629.8 1031.1L1635.4 1031.1L1641.0 1031.1L1646.5 1031.1L1652.1 1031.0L1657.7 1031.0L1663.3 1031.0L1668.8 1031.0L1674.4 1031.0L1680.0 1031.0L1685.6 1031.0L1691.1 1030.9L1696.7 1030.9L1702.3 1030.9L1707.8 1030.9L1713.4 1030.9L1719.0 1030.9L1724.6 1030.9L1730.1 1030.9L1735.7 1030.8L1741.3 1030.8L1746.9 1030.8L1752.4 1030.8L1758.0 1030.8L1763.6 1030.8L1769.1 1030.8L1774.7 1030.7L1780.3 1030.7L1785.9 1030.7L1791.4 1030.7L1797.0 1030.7L1802.6 1030.7L1808.2 1030.7L1813.7 1030.6L1819.3 1030.6L1824.9 1030.6L1830.5 1030.6L1836.0 1030.6L1841.6 1030.6L1847.2 1030.6L1852.7 1030.5L1858.3 1030.5L1863.9 1030.5L1869.5 1030.5L1875.0 1030.5L1880.6 1030.5L1886.2 1030.5L1891.8 1030.4L1897.3 1030.4L1902.9 1030.4L1908.5 1030.4L1914.0 1030.4L1919.6 1030.4L1925.2 1030.4L1930.8 1030.4L1936.3 1030.3L1941.9 1030.3L1947.5 1030.3L1953.1 1030.3" stroke="#0000ff"/>
<path d="M1066.9 1166.0L1072.5 1166.0L1078.1 1166.0L1083.7 1166.0L1089.2 1165.9L1094.8 1165.9L1100.4 1165.9L1106.0 1165.9L1111.5 1165.9L1117.1 1165.9L1122.7 1165.9L1128.2 1165.9L1133.8 1165.8L1139.4 1165.8L1145.0 1165.8L1150.5 1165.8L1156.1 1165.8L1161.7 1165.8L1167.3 1165.8L1172.8 1165.8L1178.4 1165.7L1184.0 1165.7L1189.5 1165.7L1195.1 1165.7L1200.7 1165.7L1206.3 1165.7L1211.8 1165.7L1217.4 1165.6L1223.0 1165.6L1228.6 1165.6L1234.1 1165.6L1239.7 1165.6L1245.3 1165.6L1250.9 1165.6L1256.4 1165.6L1262.0 1165.5L1267.6 1165.5L1273.1 1165.5L1278.7 1165.5L1284.3 1165.5L1289.9 1165.5L1295.4 1165.5L1301.0 1165.4L1306.6 1165.4L1312.2 1165.4L1317.7 1165.4L1323.3 1165.4L1328.9 1165.4L1334.4 1165.4L1340.0 1165.4L1345.6 1165.3L1351.2 1165.3L1356.7 1165.3L1362.3 1165.3L1367.9 1165.3L1373.5 1165.3L1379.0 1165.3L1384.6 1165.2L1390.2 1165.2L1395.8 1165.2L1401.3 1165.2L1406.9 1165.2L1412.5 1165.2L1418.0 1165.2L1423.6 1165.2L1429.2 1165.1L1434.8 1165.1L1440.3 1165.1L1445.9 1165.1L1451.5 1165.1L1457.1 1165.1L1462.6 1165.1L1468.2 1165.0L1473.8 1165.0L1479.3 1165.0L1484.9 1165.0L1490.5 1165.0L1496.1 1165.0L1501.6 1165.0L1507.2 1165.0L1512.8 1164.9L1518.4 1164.9L1523.9 1164.9L1529.5 1164.9L1535.1 1164.9L1540.7 1164.9L1546.2 1164.9L1551.8 1164.9L1557.4 1164.8L1562.9 1164.8L1568.5 1164.8L1574.1 1164.8L1579.7 1164.8L1585.2 1164.8L1590.8 1164.8L1596.4 1164.7L1602.0 1164.7L1607.5 1164.7L1613.1 1164.7L1618.7 1164.7L1624.2 1164.7L1629.8 1164.7L1635.4 1164.7L1641.0 1164.6L1646.5 1164.6L1652.1 1164.6L1657.7 1164.6L1663.3 1164.6L1668.8 1164.6L1674.4 1164.6L1680.0 1164.5L1685.6 1164.5L1691.1 1164.5L1696.7 1164.5L1702.3 1164.5L1707.8 1164.5L1713.4 1164.5L1719.0 1164.5L1724.6 1164.4L1730.1 1164.4L1735.7 1164.4L1741.3 1164.4L1746.9 1164.4L1752.4 1164.4L1758.0 1164.4L1763.6 1164.3L1769.1 1164.3L1774.7 1164.3L1780.3 1164.3L1785.9 1164.3L1791.4 1164.3L1797.0 1164.3L1802.6 1164.3L1808.2 1164.2L1813.7 1164.2L1819.3 1164.2L1824.9 1164.2L1830.5 1164.2L1836.0 1164.2L1841.6 1164.2L1847.2 1164.1L1852.7 1164.1L1858.3 1164.1L1863.9 1164.1L1869.5 1164.1L1875.0 1164.1L1880.6 1164.1L1886.2 1164.1L1891.8 1164.0L1897.3 1164.0L1902.9 1164.0L1908.5 1164.0L1914.0 1164.0L1919.6 1164.0L1925.2 1164.0L1930.8 1164.0L1936.3 1163.9L1941.9 1163.9L1947.5 1163.9L1953.1 1163.9" stroke="#ff0000"/>
</g>
<text transform="translate(1967.3 1171.9) scale(1 1.040)" font-size="39.5" fill="#262626" stroke="#262626" stroke-width="0.45">-10</text>
<text transform="translate(1967.3 1092.4) scale(1 1.040)" font-size="39.5" fill="#262626" stroke="#262626" stroke-width="0.45">0</text>
<text transform="translate(1967.3 1012.9) scale(1 1.040)" font-size="39.5" fill="#262626" stroke="#262626" stroke-width="0.45">10</text>
<text transform="translate(2083.7 1097.3) rotate(-90) scale(1 1.040)" font-size="43.0" fill="#262626" stroke="#262626" stroke-width="0.45" text-anchor="middle">T [K]</text>
<clipPath id="cL4"><rect x="135.7" y="1261.2" width="886.1" height="268.4"/></clipPath>
<path d="M313.5 1264.2V1526.6M490.3 1264.2V1526.6M667.2 1264.2V1526.6M844.0 1264.2V1526.6M136.7 1484.8H1020.8M136.7 1425.2H1020.8M136.7 1365.6H1020.8M136.7 1305.9H1020.8" stroke="#dcdcdc" stroke-width="1.8" fill="none"/>
<path d="M313.5 1526.6v-9.0M313.5 1264.2v9.0M490.3 1526.6v-9.0M490.3 1264.2v9.0M667.2 1526.6v-9.0M667.2 1264.2v9.0M844.0 1526.6v-9.0M844.0 1264.2v9.0M136.7 1484.8h9.0M1020.8 1484.8h-9.0M136.7 1425.2h9.0M1020.8 1425.2h-9.0M136.7 1365.6h9.0M1020.8 1365.6h-9.0M136.7 1305.9h9.0M1020.8 1305.9h-9.0" stroke="#262626" stroke-width="2" fill="none"/>
<rect x="136.7" y="1264.2" width="884.1" height="262.4" stroke="#262626" stroke-width="2" fill="none"/>
<text transform="translate(163.2 1311.6) scale(1 1.040)" font-size="39.5" fill="#000" stroke="#000" stroke-width="0.45">(e) T<tspan font-size="31.6" dx="1.8" dy="18.3">C</tspan></text>
<g clip-path="url(#cL4)" fill="none" stroke-width="5.8" stroke-linejoin="round">
<path d="M135.6 1488.6L141.2 1486.2L146.8 1483.7L152.4 1481.4L157.9 1479.0L163.5 1476.8L169.1 1474.5L174.7 1472.4L180.2 1470.2L185.8 1468.2L191.4 1466.1L197.0 1464.1L202.5 1462.2L208.1 1460.3L213.7 1458.5L219.2 1456.7L224.8 1454.9L230.4 1453.2L236.0 1451.5L241.5 1449.9L247.1 1448.3L252.7 1446.8L258.3 1445.3L263.8 1443.9L269.4 1442.5L275.0 1441.2L280.6 1439.9L286.1 1438.6L291.7 1437.4L297.3 1436.2L302.9 1435.1L308.4 1434.0L314.0 1433.0L319.6 1432.0L325.1 1431.1L330.7 1430.2L336.3 1429.3L341.9 1428.5L347.4 1427.7L353.0 1426.9L358.6 1426.2L364.2 1425.6L369.7 1424.9L375.3 1424.3L380.9 1423.8L386.5 1423.2L392.0 1422.7L397.6 1422.3L403.2 1421.9L408.8 1421.5L414.3 1421.1L419.9 1420.7L425.5 1420.4L431.0 1420.2L436.6 1419.9L442.2 1419.7L447.8 1419.5L453.3 1419.3L458.9 1419.1L464.5 1419.0L470.1 1418.9L475.6 1418.8L481.2 1418.7L486.8 1418.7L492.4 1418.6L497.9 1418.6L503.5 1418.6L509.1 1418.6L514.7 1418.7L520.2 1418.7L525.8 1418.8L531.4 1418.9L536.9 1419.0L542.5 1419.1L548.1 1419.3L553.7 1419.4L559.2 1419.6L564.8 1419.8L570.4 1420.0L576.0 1420.2L581.5 1420.4L587.1 1420.7L592.7 1421.0L598.3 1421.2L603.8 1421.5L609.4 1421.9L615.0 1422.2L620.6 1422.5L626.1 1422.9L631.7 1423.3L637.3 1423.6L642.8 1424.0L648.4 1424.5L654.0 1424.9L659.6 1425.3L665.1 1425.8L670.7 1426.2L676.3 1426.7L681.9 1427.2L687.4 1427.7L693.0 1428.2L698.6 1428.8L704.2 1429.3L709.7 1429.9L715.3 1430.4L720.9 1431.0L726.5 1431.6L732.0 1432.2L737.6 1432.8L743.2 1433.5L748.7 1434.1L754.3 1434.7L759.9 1435.4L765.5 1436.1L771.0 1436.8L776.6 1437.4L782.2 1438.1L787.8 1438.9L793.3 1439.6L798.9 1440.3L804.5 1441.1L810.1 1441.8L815.6 1442.6L821.2 1443.3L826.8 1444.1L832.4 1444.9L837.9 1445.7L843.5 1446.5L849.1 1447.3L854.6 1448.1L860.2 1449.0L865.8 1449.8L871.4 1450.6L876.9 1451.5L882.5 1452.3L888.1 1453.2L893.7 1454.1L899.2 1455.0L904.8 1455.8L910.4 1456.7L916.0 1457.6L921.5 1458.5L927.1 1459.5L932.7 1460.4L938.3 1461.3L943.8 1462.2L949.4 1463.2L955.0 1464.1L960.5 1465.1L966.1 1466.0L971.7 1467.0L977.3 1467.9L982.8 1468.9L988.4 1469.9L994.0 1470.8L999.6 1471.8L1005.1 1472.8L1010.7 1473.8L1016.3 1474.8L1021.9 1475.8" stroke="#000"/>
<path d="M135.6 1494.8L141.2 1492.5L146.8 1490.4L152.4 1488.2L157.9 1486.1L163.5 1484.0L169.1 1482.0L174.7 1480.0L180.2 1478.1L185.8 1476.2L191.4 1474.4L197.0 1472.5L202.5 1470.8L208.1 1469.0L213.7 1467.3L219.2 1465.7L224.8 1464.1L230.4 1462.5L236.0 1461.0L241.5 1459.5L247.1 1458.0L252.7 1456.6L258.3 1455.2L263.8 1453.9L269.4 1452.6L275.0 1451.3L280.6 1450.1L286.1 1448.9L291.7 1447.7L297.3 1446.6L302.9 1445.5L308.4 1444.4L314.0 1443.4L319.6 1442.4L325.1 1441.4L330.7 1440.5L336.3 1439.6L341.9 1438.7L347.4 1437.9L353.0 1437.1L358.6 1436.3L364.2 1435.6L369.7 1434.9L375.3 1434.2L380.9 1433.6L386.5 1432.9L392.0 1432.4L397.6 1431.8L403.2 1431.3L408.8 1430.8L414.3 1430.3L419.9 1429.8L425.5 1429.4L431.0 1429.0L436.6 1428.7L442.2 1428.3L447.8 1428.0L453.3 1427.7L458.9 1427.4L464.5 1427.2L470.1 1427.0L475.6 1426.8L481.2 1426.6L486.8 1426.5L492.4 1426.4L497.9 1426.3L503.5 1426.2L509.1 1426.1L514.7 1426.1L520.2 1426.1L525.8 1426.1L531.4 1426.1L536.9 1426.2L542.5 1426.3L548.1 1426.3L553.7 1426.5L559.2 1426.6L564.8 1426.7L570.4 1426.9L576.0 1427.1L581.5 1427.3L587.1 1427.5L592.7 1427.7L598.3 1428.0L603.8 1428.3L609.4 1428.5L615.0 1428.8L620.6 1429.2L626.1 1429.5L631.7 1429.8L637.3 1430.2L642.8 1430.6L648.4 1431.0L654.0 1431.4L659.6 1431.8L665.1 1432.2L670.7 1432.7L676.3 1433.1L681.9 1433.6L687.4 1434.1L693.0 1434.6L698.6 1435.1L704.2 1435.6L709.7 1436.1L715.3 1436.7L720.9 1437.2L726.5 1437.8L732.0 1438.3L737.6 1438.9L743.2 1439.5L748.7 1440.1L754.3 1440.7L759.9 1441.3L765.5 1442.0L771.0 1442.6L776.6 1443.3L782.2 1443.9L787.8 1444.6L793.3 1445.2L798.9 1445.9L804.5 1446.6L810.1 1447.3L815.6 1448.0L821.2 1448.7L826.8 1449.4L832.4 1450.1L837.9 1450.8L843.5 1451.5L849.1 1452.3L854.6 1453.0L860.2 1453.7L865.8 1454.5L871.4 1455.2L876.9 1456.0L882.5 1456.7L888.1 1457.5L893.7 1458.2L899.2 1459.0L904.8 1459.7L910.4 1460.5L916.0 1461.2L921.5 1462.0L927.1 1462.8L932.7 1463.5L938.3 1464.3L943.8 1465.1L949.4 1465.8L955.0 1466.6L960.5 1467.4L966.1 1468.1L971.7 1468.9L977.3 1469.7L982.8 1470.4L988.4 1471.2L994.0 1471.9L999.6 1472.7L1005.1 1473.4L1010.7 1474.2L1016.3 1474.9L1021.9 1475.7" stroke="#000" stroke-dasharray="18.8 19.1"/>
<path d="M135.6 1492.3L141.2 1490.0L146.8 1487.9L152.4 1485.7L157.9 1483.6L163.5 1481.5L169.1 1479.5L174.7 1477.5L180.2 1475.6L185.8 1473.7L191.4 1471.9L197.0 1470.0L202.5 1468.3L208.1 1466.5L213.7 1464.8L219.2 1463.2L224.8 1461.6L230.4 1460.0L236.0 1458.5L241.5 1457.0L247.1 1455.5L252.7 1454.1L258.3 1452.7L263.8 1451.4L269.4 1450.1L275.0 1448.8L280.6 1447.6L286.1 1446.4L291.7 1445.2L297.3 1444.1L302.9 1443.0L308.4 1441.9L314.0 1440.9L319.6 1439.9L325.1 1438.9L330.7 1438.0L336.3 1437.1L341.9 1436.2L347.4 1435.4L353.0 1434.6L358.6 1433.8L364.2 1433.1L369.7 1432.4L375.3 1431.7L380.9 1431.1L386.5 1430.4L392.0 1429.9L397.6 1429.3L403.2 1428.8L408.8 1428.3L414.3 1427.8L419.9 1427.3L425.5 1426.9L431.0 1426.5L436.6 1426.2L442.2 1425.8L447.8 1425.5L453.3 1425.2L458.9 1424.9L464.5 1424.7L470.1 1424.5L475.6 1424.3L481.2 1424.1L486.8 1424.0L492.4 1423.9L497.9 1423.8L503.5 1423.7L509.1 1423.6L514.7 1423.6L520.2 1423.6L525.8 1423.6L531.4 1423.6L536.9 1423.7L542.5 1423.8L548.1 1423.8L553.7 1424.0L559.2 1424.1L564.8 1424.2L570.4 1424.4L576.0 1424.6L581.5 1424.8L587.1 1425.0L592.7 1425.2L598.3 1425.5L603.8 1425.8L609.4 1426.0L615.0 1426.3L620.6 1426.7L626.1 1427.0L631.7 1427.3L637.3 1427.7L642.8 1428.1L648.4 1428.5L654.0 1428.9L659.6 1429.3L665.1 1429.7L670.7 1430.2L676.3 1430.6L681.9 1431.1L687.4 1431.6L693.0 1432.1L698.6 1432.6L704.2 1433.1L709.7 1433.6L715.3 1434.2L720.9 1434.7L726.5 1435.3L732.0 1435.8L737.6 1436.4L743.2 1437.0L748.7 1437.6L754.3 1438.2L759.9 1438.8L765.5 1439.5L771.0 1440.1L776.6 1440.8L782.2 1441.4L787.8 1442.1L793.3 1442.7L798.9 1443.4L804.5 1444.1L810.1 1444.8L815.6 1445.5L821.2 1446.2L826.8 1446.9L832.4 1447.6L837.9 1448.3L843.5 1449.0L849.1 1449.8L854.6 1450.5L860.2 1451.2L865.8 1452.0L871.4 1452.7L876.9 1453.5L882.5 1454.2L888.1 1455.0L893.7 1455.7L899.2 1456.5L904.8 1457.2L910.4 1458.0L916.0 1458.7L921.5 1459.5L927.1 1460.3L932.7 1461.0L938.3 1461.8L943.8 1462.6L949.4 1463.3L955.0 1464.1L960.5 1464.9L966.1 1465.6L971.7 1466.4L977.3 1467.2L982.8 1467.9L988.4 1468.7L994.0 1469.4L999.6 1470.2L1005.1 1470.9L1010.7 1471.7L1016.3 1472.4L1021.9 1473.2" stroke="#000" stroke-dasharray="4.7 4.7"/>
<path d="M135.6 1489.4L141.2 1487.0L146.8 1484.5L152.4 1482.2L157.9 1479.8L163.5 1477.6L169.1 1475.3L174.7 1473.2L180.2 1471.0L185.8 1469.0L191.4 1466.9L197.0 1464.9L202.5 1463.0L208.1 1461.1L213.7 1459.3L219.2 1457.5L224.8 1455.7L230.4 1454.0L236.0 1452.3L241.5 1450.7L247.1 1449.1L252.7 1447.6L258.3 1446.1L263.8 1444.7L269.4 1443.3L275.0 1442.0L280.6 1440.7L286.1 1439.4L291.7 1438.2L297.3 1437.0L302.9 1435.9L308.4 1434.8L314.0 1433.8L319.6 1432.8L325.1 1431.9L330.7 1431.0L336.3 1430.1L341.9 1429.3L347.4 1428.5L353.0 1427.7L358.6 1427.0L364.2 1426.4L369.7 1425.7L375.3 1425.1L380.9 1424.6L386.5 1424.0L392.0 1423.5L397.6 1423.1L403.2 1422.7L408.8 1422.3L414.3 1421.9L419.9 1421.5L425.5 1421.2L431.0 1421.0L436.6 1420.7L442.2 1420.5L447.8 1420.3L453.3 1420.1L458.9 1419.9L464.5 1419.8L470.1 1419.7L475.6 1419.6L481.2 1419.5L486.8 1419.5L492.4 1419.4L497.9 1419.4L503.5 1419.4L509.1 1419.4L514.7 1419.5L520.2 1419.5L525.8 1419.6L531.4 1419.7L536.9 1419.8L542.5 1419.9L548.1 1420.1L553.7 1420.2L559.2 1420.4L564.8 1420.6L570.4 1420.8L576.0 1421.0L581.5 1421.2L587.1 1421.5L592.7 1421.8L598.3 1422.0L603.8 1422.3L609.4 1422.7L615.0 1423.0L620.6 1423.3L626.1 1423.7L631.7 1424.1L637.3 1424.4L642.8 1424.8L648.4 1425.3L654.0 1425.7L659.6 1426.1L665.1 1426.6L670.7 1427.0L676.3 1427.5L681.9 1428.0L687.4 1428.5L693.0 1429.0L698.6 1429.6L704.2 1430.1L709.7 1430.7L715.3 1431.2L720.9 1431.8L726.5 1432.4L732.0 1433.0L737.6 1433.6L743.2 1434.3L748.7 1434.9L754.3 1435.5L759.9 1436.2L765.5 1436.9L771.0 1437.6L776.6 1438.2L782.2 1438.9L787.8 1439.7L793.3 1440.4L798.9 1441.1L804.5 1441.9L810.1 1442.6L815.6 1443.4L821.2 1444.1L826.8 1444.9L832.4 1445.7L837.9 1446.5L843.5 1447.3L849.1 1448.1L854.6 1448.9L860.2 1449.8L865.8 1450.6L871.4 1451.4L876.9 1452.3L882.5 1453.1L888.1 1454.0L893.7 1454.9L899.2 1455.8L904.8 1456.6L910.4 1457.5L916.0 1458.4L921.5 1459.3L927.1 1460.3L932.7 1461.2L938.3 1462.1L943.8 1463.0L949.4 1464.0L955.0 1464.9L960.5 1465.9L966.1 1466.8L971.7 1467.8L977.3 1468.7L982.8 1469.7L988.4 1470.7L994.0 1471.6L999.6 1472.6L1005.1 1473.6L1010.7 1474.6L1016.3 1475.6L1021.9 1476.6" stroke="#000" stroke-dasharray="22.6 5.5 4.3 5.5" stroke-dashoffset="1.9"/>
</g>
<text transform="translate(119.3 1499.8) scale(1 1.040)" font-size="39.5" fill="#262626" stroke="#262626" stroke-width="0.45" text-anchor="end">-20</text>
<text transform="translate(119.3 1440.2) scale(1 1.040)" font-size="39.5" fill="#262626" stroke="#262626" stroke-width="0.45" text-anchor="end">-10</text>
<text transform="translate(119.3 1380.6) scale(1 1.040)" font-size="39.5" fill="#262626" stroke="#262626" stroke-width="0.45" text-anchor="end">0</text>
<text transform="translate(119.3 1320.9) scale(1 1.040)" font-size="39.5" fill="#262626" stroke="#262626" stroke-width="0.45" text-anchor="end">10</text>
<text transform="translate(38.0 1395.4) rotate(-90) scale(1 1.040)" font-size="43.0" fill="#262626" stroke="#262626" stroke-width="0.45" text-anchor="middle">T [K]</text>
<clipPath id="cR4"><rect x="1067.0" y="1261.2" width="886.0" height="268.4"/></clipPath>
<path d="M1244.8 1264.2V1526.6M1421.6 1264.2V1526.6M1598.4 1264.2V1526.6M1775.2 1264.2V1526.6M1068.0 1484.8H1952.0M1068.0 1425.2H1952.0M1068.0 1365.6H1952.0M1068.0 1305.9H1952.0" stroke="#dcdcdc" stroke-width="1.8" fill="none"/>
<path d="M1244.8 1526.6v-9.0M1244.8 1264.2v9.0M1421.6 1526.6v-9.0M1421.6 1264.2v9.0M1598.4 1526.6v-9.0M1598.4 1264.2v9.0M1775.2 1526.6v-9.0M1775.2 1264.2v9.0M1068.0 1484.8h9.0M1952.0 1484.8h-9.0M1068.0 1425.2h9.0M1952.0 1425.2h-9.0M1068.0 1365.6h9.0M1952.0 1365.6h-9.0M1068.0 1305.9h9.0M1952.0 1305.9h-9.0" stroke="#262626" stroke-width="2" fill="none"/>
<rect x="1068.0" y="1264.2" width="884.0" height="262.4" stroke="#262626" stroke-width="2" fill="none"/>
<text transform="translate(1094.5 1311.6) scale(1 1.040)" font-size="39.5" fill="#000" stroke="#000" stroke-width="0.45">(l) T<tspan font-size="31.6" dx="1.8" dy="18.3">C</tspan></text>
<g clip-path="url(#cR4)" fill="none" stroke-width="5.8" stroke-linejoin="round">
<path d="M1066.9 1350.3L1072.5 1348.8L1078.1 1347.4L1083.7 1346.1L1089.2 1344.8L1094.8 1343.5L1100.4 1342.3L1106.0 1341.1L1111.5 1340.0L1117.1 1338.9L1122.7 1337.9L1128.2 1336.9L1133.8 1335.9L1139.4 1335.0L1145.0 1334.1L1150.5 1333.3L1156.1 1332.5L1161.7 1331.8L1167.3 1331.1L1172.8 1330.4L1178.4 1329.8L1184.0 1329.2L1189.5 1328.7L1195.1 1328.2L1200.7 1327.7L1206.3 1327.3L1211.8 1326.9L1217.4 1326.5L1223.0 1326.2L1228.6 1325.9L1234.1 1325.6L1239.7 1325.4L1245.3 1325.2L1250.9 1325.1L1256.4 1325.0L1262.0 1324.9L1267.6 1324.8L1273.1 1324.8L1278.7 1324.8L1284.3 1324.8L1289.9 1324.9L1295.4 1325.0L1301.0 1325.1L1306.6 1325.3L1312.2 1325.4L1317.7 1325.7L1323.3 1325.9L1328.9 1326.1L1334.4 1326.4L1340.0 1326.7L1345.6 1327.1L1351.2 1327.4L1356.7 1327.8L1362.3 1328.2L1367.9 1328.7L1373.5 1329.1L1379.0 1329.6L1384.6 1330.1L1390.2 1330.6L1395.8 1331.2L1401.3 1331.7L1406.9 1332.3L1412.5 1332.9L1418.0 1333.5L1423.6 1334.2L1429.2 1334.8L1434.8 1335.5L1440.3 1336.2L1445.9 1336.9L1451.5 1337.6L1457.1 1338.4L1462.6 1339.1L1468.2 1339.9L1473.8 1340.7L1479.3 1341.5L1484.9 1342.3L1490.5 1343.1L1496.1 1343.9L1501.6 1344.8L1507.2 1345.7L1512.8 1346.5L1518.4 1347.4L1523.9 1348.3L1529.5 1349.2L1535.1 1350.1L1540.7 1351.0L1546.2 1352.0L1551.8 1352.9L1557.4 1353.8L1562.9 1354.8L1568.5 1355.8L1574.1 1356.7L1579.7 1357.7L1585.2 1358.7L1590.8 1359.7L1596.4 1360.8L1602.0 1361.8L1607.5 1362.8L1613.1 1363.9L1618.7 1364.9L1624.2 1366.0L1629.8 1367.1L1635.4 1368.2L1641.0 1369.3L1646.5 1370.4L1652.1 1371.5L1657.7 1372.7L1663.3 1373.8L1668.8 1375.0L1674.4 1376.2L1680.0 1377.3L1685.6 1378.5L1691.1 1379.7L1696.7 1381.0L1702.3 1382.2L1707.8 1383.4L1713.4 1384.7L1719.0 1386.0L1724.6 1387.2L1730.1 1388.5L1735.7 1389.8L1741.3 1391.1L1746.9 1392.5L1752.4 1393.8L1758.0 1395.2L1763.6 1396.5L1769.1 1397.9L1774.7 1399.3L1780.3 1400.7L1785.9 1402.1L1791.4 1403.5L1797.0 1404.9L1802.6 1406.3L1808.2 1407.7L1813.7 1409.1L1819.3 1410.5L1824.9 1412.0L1830.5 1413.4L1836.0 1414.8L1841.6 1416.2L1847.2 1417.6L1852.7 1419.0L1858.3 1420.4L1863.9 1421.7L1869.5 1423.1L1875.0 1424.5L1880.6 1425.8L1886.2 1427.1L1891.8 1428.4L1897.3 1429.7L1902.9 1431.0L1908.5 1432.3L1914.0 1433.5L1919.6 1434.8L1925.2 1436.0L1930.8 1437.1L1936.3 1438.3L1941.9 1439.4L1947.5 1440.5L1953.1 1441.6" stroke="#000"/>
<path d="M1066.9 1331.7L1072.5 1330.4L1078.1 1329.2L1083.7 1328.0L1089.2 1326.8L1094.8 1325.8L1100.4 1324.7L1106.0 1323.7L1111.5 1322.8L1117.1 1321.9L1122.7 1321.0L1128.2 1320.2L1133.8 1319.4L1139.4 1318.7L1145.0 1318.0L1150.5 1317.3L1156.1 1316.7L1161.7 1316.2L1167.3 1315.6L1172.8 1315.1L1178.4 1314.7L1184.0 1314.3L1189.5 1313.9L1195.1 1313.6L1200.7 1313.3L1206.3 1313.0L1211.8 1312.8L1217.4 1312.6L1223.0 1312.4L1228.6 1312.3L1234.1 1312.2L1239.7 1312.1L1245.3 1312.1L1250.9 1312.1L1256.4 1312.1L1262.0 1312.2L1267.6 1312.3L1273.1 1312.4L1278.7 1312.6L1284.3 1312.8L1289.9 1313.0L1295.4 1313.3L1301.0 1313.5L1306.6 1313.8L1312.2 1314.1L1317.7 1314.5L1323.3 1314.9L1328.9 1315.3L1334.4 1315.7L1340.0 1316.2L1345.6 1316.6L1351.2 1317.1L1356.7 1317.7L1362.3 1318.2L1367.9 1318.8L1373.5 1319.4L1379.0 1320.0L1384.6 1320.6L1390.2 1321.2L1395.8 1321.9L1401.3 1322.6L1406.9 1323.3L1412.5 1324.0L1418.0 1324.8L1423.6 1325.5L1429.2 1326.3L1434.8 1327.1L1440.3 1327.9L1445.9 1328.7L1451.5 1329.5L1457.1 1330.4L1462.6 1331.2L1468.2 1332.1L1473.8 1333.0L1479.3 1333.9L1484.9 1334.8L1490.5 1335.7L1496.1 1336.6L1501.6 1337.6L1507.2 1338.5L1512.8 1339.5L1518.4 1340.4L1523.9 1341.4L1529.5 1342.4L1535.1 1343.4L1540.7 1344.4L1546.2 1345.4L1551.8 1346.4L1557.4 1347.4L1562.9 1348.4L1568.5 1349.4L1574.1 1350.5L1579.7 1351.5L1585.2 1352.6L1590.8 1353.6L1596.4 1354.7L1602.0 1355.8L1607.5 1356.9L1613.1 1358.0L1618.7 1359.1L1624.2 1360.2L1629.8 1361.3L1635.4 1362.4L1641.0 1363.6L1646.5 1364.7L1652.1 1365.9L1657.7 1367.0L1663.3 1368.2L1668.8 1369.4L1674.4 1370.6L1680.0 1371.8L1685.6 1373.0L1691.1 1374.2L1696.7 1375.4L1702.3 1376.7L1707.8 1377.9L1713.4 1379.2L1719.0 1380.4L1724.6 1381.7L1730.1 1383.0L1735.7 1384.3L1741.3 1385.6L1746.9 1386.9L1752.4 1388.2L1758.0 1389.6L1763.6 1390.9L1769.1 1392.3L1774.7 1393.6L1780.3 1395.0L1785.9 1396.4L1791.4 1397.7L1797.0 1399.1L1802.6 1400.5L1808.2 1401.9L1813.7 1403.3L1819.3 1404.7L1824.9 1406.1L1830.5 1407.6L1836.0 1409.0L1841.6 1410.4L1847.2 1411.8L1852.7 1413.2L1858.3 1414.6L1863.9 1416.0L1869.5 1417.5L1875.0 1418.9L1880.6 1420.3L1886.2 1421.7L1891.8 1423.1L1897.3 1424.5L1902.9 1425.9L1908.5 1427.2L1914.0 1428.6L1919.6 1430.0L1925.2 1431.3L1930.8 1432.7L1936.3 1434.0L1941.9 1435.4L1947.5 1436.7L1953.1 1438.0" stroke="#0000ff"/>
<path d="M1066.9 1369.0L1072.5 1367.4L1078.1 1365.9L1083.7 1364.4L1089.2 1363.0L1094.8 1361.5L1100.4 1360.2L1106.0 1358.8L1111.5 1357.6L1117.1 1356.3L1122.7 1355.1L1128.2 1353.9L1133.8 1352.8L1139.4 1351.7L1145.0 1350.7L1150.5 1349.6L1156.1 1348.7L1161.7 1347.7L1167.3 1346.8L1172.8 1346.0L1178.4 1345.1L1184.0 1344.3L1189.5 1343.6L1195.1 1342.9L1200.7 1342.2L1206.3 1341.5L1211.8 1340.9L1217.4 1340.4L1223.0 1339.8L1228.6 1339.3L1234.1 1338.9L1239.7 1338.4L1245.3 1338.0L1250.9 1337.7L1256.4 1337.3L1262.0 1337.0L1267.6 1336.8L1273.1 1336.6L1278.7 1336.4L1284.3 1336.2L1289.9 1336.1L1295.4 1336.0L1301.0 1335.9L1306.6 1335.9L1312.2 1335.9L1317.7 1335.9L1323.3 1336.0L1328.9 1336.1L1334.4 1336.2L1340.0 1336.4L1345.6 1336.6L1351.2 1336.8L1356.7 1337.1L1362.3 1337.3L1367.9 1337.7L1373.5 1338.0L1379.0 1338.3L1384.6 1338.7L1390.2 1339.1L1395.8 1339.6L1401.3 1340.0L1406.9 1340.5L1412.5 1341.0L1418.0 1341.5L1423.6 1342.1L1429.2 1342.7L1434.8 1343.3L1440.3 1343.9L1445.9 1344.5L1451.5 1345.1L1457.1 1345.8L1462.6 1346.5L1468.2 1347.2L1473.8 1347.9L1479.3 1348.6L1484.9 1349.4L1490.5 1350.2L1496.1 1350.9L1501.6 1351.7L1507.2 1352.5L1512.8 1353.3L1518.4 1354.2L1523.9 1355.0L1529.5 1355.9L1535.1 1356.7L1540.7 1357.6L1546.2 1358.5L1551.8 1359.4L1557.4 1360.3L1562.9 1361.2L1568.5 1362.1L1574.1 1363.0L1579.7 1364.0L1585.2 1364.9L1590.8 1365.9L1596.4 1366.9L1602.0 1367.8L1607.5 1368.8L1613.1 1369.8L1618.7 1370.9L1624.2 1371.9L1629.8 1372.9L1635.4 1374.0L1641.0 1375.0L1646.5 1376.1L1652.1 1377.2L1657.7 1378.3L1663.3 1379.3L1668.8 1380.5L1674.4 1381.6L1680.0 1382.7L1685.6 1383.8L1691.1 1385.0L1696.7 1386.2L1702.3 1387.3L1707.8 1388.5L1713.4 1389.7L1719.0 1390.9L1724.6 1392.1L1730.1 1393.3L1735.7 1394.6L1741.3 1395.8L1746.9 1397.0L1752.4 1398.3L1758.0 1399.6L1763.6 1400.9L1769.1 1402.2L1774.7 1403.5L1780.3 1404.8L1785.9 1406.1L1791.4 1407.4L1797.0 1408.7L1802.6 1410.1L1808.2 1411.4L1813.7 1412.7L1819.3 1414.1L1824.9 1415.4L1830.5 1416.8L1836.0 1418.1L1841.6 1419.5L1847.2 1420.8L1852.7 1422.2L1858.3 1423.5L1863.9 1424.9L1869.5 1426.2L1875.0 1427.6L1880.6 1428.9L1886.2 1430.3L1891.8 1431.6L1897.3 1433.0L1902.9 1434.3L1908.5 1435.6L1914.0 1436.9L1919.6 1438.3L1925.2 1439.6L1930.8 1440.9L1936.3 1442.1L1941.9 1443.4L1947.5 1444.7L1953.1 1446.0" stroke="#ff0000"/>
</g>
<text transform="translate(1967.3 1499.8) scale(1 1.040)" font-size="39.5" fill="#262626" stroke="#262626" stroke-width="0.45">-20</text>
<text transform="translate(1967.3 1440.2) scale(1 1.040)" font-size="39.5" fill="#262626" stroke="#262626" stroke-width="0.45">-10</text>
<text transform="translate(1967.3 1380.6) scale(1 1.040)" font-size="39.5" fill="#262626" stroke="#262626" stroke-width="0.45">0</text>
<text transform="translate(1967.3 1320.9) scale(1 1.040)" font-size="39.5" fill="#262626" stroke="#262626" stroke-width="0.45">10</text>
<text transform="translate(2083.7 1395.4) rotate(-90) scale(1 1.040)" font-size="43.0" fill="#262626" stroke="#262626" stroke-width="0.45" text-anchor="middle">T [K]</text>
<clipPath id="cL5"><rect x="135.7" y="1559.2" width="886.1" height="268.4"/></clipPath>
<path d="M313.5 1562.2V1824.7M490.3 1562.2V1824.7M667.2 1562.2V1824.7M844.0 1562.2V1824.7M136.7 1793.4H1020.8M136.7 1730.9H1020.8M136.7 1668.5H1020.8M136.7 1606.0H1020.8" stroke="#dcdcdc" stroke-width="1.8" fill="none"/>
<path d="M313.5 1824.7v-9.0M313.5 1562.2v9.0M490.3 1824.7v-9.0M490.3 1562.2v9.0M667.2 1824.7v-9.0M667.2 1562.2v9.0M844.0 1824.7v-9.0M844.0 1562.2v9.0M136.7 1793.4h9.0M1020.8 1793.4h-9.0M136.7 1730.9h9.0M1020.8 1730.9h-9.0M136.7 1668.5h9.0M1020.8 1668.5h-9.0M136.7 1606.0h9.0M1020.8 1606.0h-9.0" stroke="#262626" stroke-width="2" fill="none"/>
<rect x="136.7" y="1562.2" width="884.1" height="262.4" stroke="#262626" stroke-width="2" fill="none"/>
<text transform="translate(163.2 1609.7) scale(1 1.040)" font-size="39.5" fill="#000" stroke="#000" stroke-width="0.45">(f) T<tspan font-size="31.6" dx="1.8" dy="18.3">S</tspan></text>
<g clip-path="url(#cL5)" fill="none" stroke-width="5.8" stroke-linejoin="round">
<path d="M135.6 1790.4L141.2 1789.7L146.8 1789.1L152.4 1788.4L157.9 1787.7L163.5 1787.0L169.1 1786.4L174.7 1785.7L180.2 1785.0L185.8 1784.3L191.4 1783.5L197.0 1782.8L202.5 1782.1L208.1 1781.4L213.7 1780.6L219.2 1779.9L224.8 1779.1L230.4 1778.4L236.0 1777.6L241.5 1776.9L247.1 1776.1L252.7 1775.3L258.3 1774.5L263.8 1773.7L269.4 1773.0L275.0 1772.2L280.6 1771.4L286.1 1770.6L291.7 1769.8L297.3 1768.9L302.9 1768.1L308.4 1767.3L314.0 1766.5L319.6 1765.7L325.1 1764.9L330.7 1764.0L336.3 1763.2L341.9 1762.4L347.4 1761.6L353.0 1760.7L358.6 1759.9L364.2 1759.1L369.7 1758.2L375.3 1757.4L380.9 1756.6L386.5 1755.7L392.0 1754.9L397.6 1754.0L403.2 1753.2L408.8 1752.4L414.3 1751.5L419.9 1750.7L425.5 1749.9L431.0 1749.0L436.6 1748.2L442.2 1747.4L447.8 1746.5L453.3 1745.7L458.9 1744.9L464.5 1744.1L470.1 1743.2L475.6 1742.4L481.2 1741.6L486.8 1740.8L492.4 1740.0L497.9 1739.2L503.5 1738.4L509.1 1737.6L514.7 1736.8L520.2 1736.0L525.8 1735.2L531.4 1734.4L536.9 1733.6L542.5 1732.9L548.1 1732.1L553.7 1731.3L559.2 1730.6L564.8 1729.8L570.4 1729.1L576.0 1728.3L581.5 1727.6L587.1 1726.9L592.7 1726.1L598.3 1725.4L603.8 1724.7L609.4 1724.0L615.0 1723.3L620.6 1722.6L626.1 1721.9L631.7 1721.3L637.3 1720.6L642.8 1719.9L648.4 1719.3L654.0 1718.6L659.6 1718.0L665.1 1717.4L670.7 1716.8L676.3 1716.2L681.9 1715.6L687.4 1715.0L693.0 1714.4L698.6 1713.8L704.2 1713.2L709.7 1712.7L715.3 1712.2L720.9 1711.6L726.5 1711.1L732.0 1710.6L737.6 1710.1L743.2 1709.6L748.7 1709.1L754.3 1708.7L759.9 1708.2L765.5 1707.7L771.0 1707.3L776.6 1706.9L782.2 1706.5L787.8 1706.1L793.3 1705.7L798.9 1705.3L804.5 1704.9L810.1 1704.6L815.6 1704.2L821.2 1703.9L826.8 1703.6L832.4 1703.3L837.9 1703.0L843.5 1702.7L849.1 1702.5L854.6 1702.2L860.2 1702.0L865.8 1701.8L871.4 1701.5L876.9 1701.3L882.5 1701.2L888.1 1701.0L893.7 1700.8L899.2 1700.7L904.8 1700.6L910.4 1700.5L916.0 1700.4L921.5 1700.3L927.1 1700.2L932.7 1700.1L938.3 1700.1L943.8 1700.1L949.4 1700.1L955.0 1700.1L960.5 1700.1L966.1 1700.2L971.7 1700.2L977.3 1700.3L982.8 1700.4L988.4 1700.5L994.0 1700.6L999.6 1700.7L1005.1 1700.9L1010.7 1701.1L1016.3 1701.2L1021.9 1701.4" stroke="#000"/>
<path d="M135.6 1795.9L141.2 1795.6L146.8 1795.2L152.4 1794.8L157.9 1794.4L163.5 1794.0L169.1 1793.5L174.7 1793.1L180.2 1792.6L185.8 1792.1L191.4 1791.6L197.0 1791.1L202.5 1790.6L208.1 1790.0L213.7 1789.5L219.2 1788.9L224.8 1788.3L230.4 1787.7L236.0 1787.1L241.5 1786.5L247.1 1785.8L252.7 1785.2L258.3 1784.5L263.8 1783.9L269.4 1783.2L275.0 1782.5L280.6 1781.8L286.1 1781.1L291.7 1780.4L297.3 1779.7L302.9 1778.9L308.4 1778.2L314.0 1777.4L319.6 1776.7L325.1 1775.9L330.7 1775.1L336.3 1774.4L341.9 1773.6L347.4 1772.8L353.0 1772.0L358.6 1771.2L364.2 1770.4L369.7 1769.6L375.3 1768.8L380.9 1767.9L386.5 1767.1L392.0 1766.3L397.6 1765.5L403.2 1764.6L408.8 1763.8L414.3 1763.0L419.9 1762.1L425.5 1761.3L431.0 1760.5L436.6 1759.6L442.2 1758.8L447.8 1757.9L453.3 1757.1L458.9 1756.3L464.5 1755.4L470.1 1754.6L475.6 1753.7L481.2 1752.9L486.8 1752.1L492.4 1751.3L497.9 1750.4L503.5 1749.6L509.1 1748.8L514.7 1748.0L520.2 1747.2L525.8 1746.4L531.4 1745.6L536.9 1744.8L542.5 1744.0L548.1 1743.2L553.7 1742.4L559.2 1741.6L564.8 1740.9L570.4 1740.1L576.0 1739.4L581.5 1738.6L587.1 1737.9L592.7 1737.2L598.3 1736.4L603.8 1735.7L609.4 1735.0L615.0 1734.4L620.6 1733.7L626.1 1733.0L631.7 1732.3L637.3 1731.7L642.8 1731.0L648.4 1730.4L654.0 1729.8L659.6 1729.2L665.1 1728.6L670.7 1728.0L676.3 1727.4L681.9 1726.8L687.4 1726.3L693.0 1725.7L698.6 1725.2L704.2 1724.7L709.7 1724.2L715.3 1723.6L720.9 1723.2L726.5 1722.7L732.0 1722.2L737.6 1721.7L743.2 1721.3L748.7 1720.9L754.3 1720.4L759.9 1720.0L765.5 1719.6L771.0 1719.2L776.6 1718.8L782.2 1718.5L787.8 1718.1L793.3 1717.8L798.9 1717.5L804.5 1717.1L810.1 1716.8L815.6 1716.6L821.2 1716.3L826.8 1716.0L832.4 1715.8L837.9 1715.5L843.5 1715.3L849.1 1715.1L854.6 1714.9L860.2 1714.7L865.8 1714.6L871.4 1714.4L876.9 1714.3L882.5 1714.1L888.1 1714.0L893.7 1713.9L899.2 1713.8L904.8 1713.8L910.4 1713.7L916.0 1713.7L921.5 1713.6L927.1 1713.6L932.7 1713.6L938.3 1713.7L943.8 1713.7L949.4 1713.7L955.0 1713.8L960.5 1713.9L966.1 1714.0L971.7 1714.1L977.3 1714.2L982.8 1714.4L988.4 1714.5L994.0 1714.7L999.6 1714.9L1005.1 1715.1L1010.7 1715.3L1016.3 1715.6L1021.9 1715.8" stroke="#000" stroke-dasharray="18.8 19.1"/>
<path d="M135.6 1790.9L141.2 1790.2L146.8 1789.6L152.4 1788.9L157.9 1788.2L163.5 1787.5L169.1 1786.9L174.7 1786.2L180.2 1785.5L185.8 1784.8L191.4 1784.0L197.0 1783.3L202.5 1782.6L208.1 1781.9L213.7 1781.1L219.2 1780.4L224.8 1779.6L230.4 1778.9L236.0 1778.1L241.5 1777.4L247.1 1776.6L252.7 1775.8L258.3 1775.0L263.8 1774.2L269.4 1773.5L275.0 1772.7L280.6 1771.9L286.1 1771.1L291.7 1770.3L297.3 1769.4L302.9 1768.6L308.4 1767.8L314.0 1767.0L319.6 1766.2L325.1 1765.4L330.7 1764.5L336.3 1763.7L341.9 1762.9L347.4 1762.1L353.0 1761.2L358.6 1760.4L364.2 1759.6L369.7 1758.7L375.3 1757.9L380.9 1757.1L386.5 1756.2L392.0 1755.4L397.6 1754.5L403.2 1753.7L408.8 1752.9L414.3 1752.0L419.9 1751.2L425.5 1750.4L431.0 1749.5L436.6 1748.7L442.2 1747.9L447.8 1747.0L453.3 1746.2L458.9 1745.4L464.5 1744.6L470.1 1743.7L475.6 1742.9L481.2 1742.1L486.8 1741.3L492.4 1740.5L497.9 1739.7L503.5 1738.9L509.1 1738.1L514.7 1737.3L520.2 1736.5L525.8 1735.7L531.4 1734.9L536.9 1734.1L542.5 1733.4L548.1 1732.6L553.7 1731.8L559.2 1731.1L564.8 1730.3L570.4 1729.6L576.0 1728.8L581.5 1728.1L587.1 1727.4L592.7 1726.6L598.3 1725.9L603.8 1725.2L609.4 1724.5L615.0 1723.8L620.6 1723.1L626.1 1722.4L631.7 1721.8L637.3 1721.1L642.8 1720.4L648.4 1719.8L654.0 1719.1L659.6 1718.5L665.1 1717.9L670.7 1717.3L676.3 1716.7L681.9 1716.1L687.4 1715.5L693.0 1714.9L698.6 1714.3L704.2 1713.7L709.7 1713.2L715.3 1712.7L720.9 1712.1L726.5 1711.6L732.0 1711.1L737.6 1710.6L743.2 1710.1L748.7 1709.6L754.3 1709.2L759.9 1708.7L765.5 1708.2L771.0 1707.8L776.6 1707.4L782.2 1707.0L787.8 1706.6L793.3 1706.2L798.9 1705.8L804.5 1705.4L810.1 1705.1L815.6 1704.7L821.2 1704.4L826.8 1704.1L832.4 1703.8L837.9 1703.5L843.5 1703.2L849.1 1703.0L854.6 1702.7L860.2 1702.5L865.8 1702.3L871.4 1702.0L876.9 1701.8L882.5 1701.7L888.1 1701.5L893.7 1701.3L899.2 1701.2L904.8 1701.1L910.4 1701.0L916.0 1700.9L921.5 1700.8L927.1 1700.7L932.7 1700.6L938.3 1700.6L943.8 1700.6L949.4 1700.6L955.0 1700.6L960.5 1700.6L966.1 1700.7L971.7 1700.7L977.3 1700.8L982.8 1700.9L988.4 1701.0L994.0 1701.1L999.6 1701.2L1005.1 1701.4L1010.7 1701.6L1016.3 1701.7L1021.9 1701.9" stroke="#000" stroke-dasharray="4.7 4.7"/>
<path d="M135.6 1795.1L141.2 1794.8L146.8 1794.4L152.4 1794.0L157.9 1793.6L163.5 1793.2L169.1 1792.7L174.7 1792.3L180.2 1791.8L185.8 1791.3L191.4 1790.8L197.0 1790.3L202.5 1789.8L208.1 1789.2L213.7 1788.7L219.2 1788.1L224.8 1787.5L230.4 1786.9L236.0 1786.3L241.5 1785.7L247.1 1785.0L252.7 1784.4L258.3 1783.7L263.8 1783.1L269.4 1782.4L275.0 1781.7L280.6 1781.0L286.1 1780.3L291.7 1779.6L297.3 1778.9L302.9 1778.1L308.4 1777.4L314.0 1776.6L319.6 1775.9L325.1 1775.1L330.7 1774.3L336.3 1773.6L341.9 1772.8L347.4 1772.0L353.0 1771.2L358.6 1770.4L364.2 1769.6L369.7 1768.8L375.3 1768.0L380.9 1767.1L386.5 1766.3L392.0 1765.5L397.6 1764.7L403.2 1763.8L408.8 1763.0L414.3 1762.2L419.9 1761.3L425.5 1760.5L431.0 1759.7L436.6 1758.8L442.2 1758.0L447.8 1757.1L453.3 1756.3L458.9 1755.5L464.5 1754.6L470.1 1753.8L475.6 1752.9L481.2 1752.1L486.8 1751.3L492.4 1750.5L497.9 1749.6L503.5 1748.8L509.1 1748.0L514.7 1747.2L520.2 1746.4L525.8 1745.6L531.4 1744.8L536.9 1744.0L542.5 1743.2L548.1 1742.4L553.7 1741.6L559.2 1740.8L564.8 1740.1L570.4 1739.3L576.0 1738.6L581.5 1737.8L587.1 1737.1L592.7 1736.4L598.3 1735.6L603.8 1734.9L609.4 1734.2L615.0 1733.6L620.6 1732.9L626.1 1732.2L631.7 1731.5L637.3 1730.9L642.8 1730.2L648.4 1729.6L654.0 1729.0L659.6 1728.4L665.1 1727.8L670.7 1727.2L676.3 1726.6L681.9 1726.0L687.4 1725.5L693.0 1724.9L698.6 1724.4L704.2 1723.9L709.7 1723.4L715.3 1722.8L720.9 1722.4L726.5 1721.9L732.0 1721.4L737.6 1720.9L743.2 1720.5L748.7 1720.1L754.3 1719.6L759.9 1719.2L765.5 1718.8L771.0 1718.4L776.6 1718.0L782.2 1717.7L787.8 1717.3L793.3 1717.0L798.9 1716.7L804.5 1716.3L810.1 1716.0L815.6 1715.8L821.2 1715.5L826.8 1715.2L832.4 1715.0L837.9 1714.7L843.5 1714.5L849.1 1714.3L854.6 1714.1L860.2 1713.9L865.8 1713.8L871.4 1713.6L876.9 1713.5L882.5 1713.3L888.1 1713.2L893.7 1713.1L899.2 1713.0L904.8 1713.0L910.4 1712.9L916.0 1712.9L921.5 1712.8L927.1 1712.8L932.7 1712.8L938.3 1712.9L943.8 1712.9L949.4 1712.9L955.0 1713.0L960.5 1713.1L966.1 1713.2L971.7 1713.3L977.3 1713.4L982.8 1713.6L988.4 1713.7L994.0 1713.9L999.6 1714.1L1005.1 1714.3L1010.7 1714.5L1016.3 1714.8L1021.9 1715.0" stroke="#000" stroke-dasharray="22.6 5.5 4.3 5.5" stroke-dashoffset="1.9"/>
</g>
<text transform="translate(119.3 1808.4) scale(1 1.040)" font-size="39.5" fill="#262626" stroke="#262626" stroke-width="0.45" text-anchor="end">0</text>
<text transform="translate(119.3 1745.9) scale(1 1.040)" font-size="39.5" fill="#262626" stroke="#262626" stroke-width="0.45" text-anchor="end">10</text>
<text transform="translate(119.3 1683.5) scale(1 1.040)" font-size="39.5" fill="#262626" stroke="#262626" stroke-width="0.45" text-anchor="end">20</text>
<text transform="translate(119.3 1621.0) scale(1 1.040)" font-size="39.5" fill="#262626" stroke="#262626" stroke-width="0.45" text-anchor="end">30</text>
<text transform="translate(52.1 1693.5) rotate(-90) scale(1 1.040)" font-size="43.0" fill="#262626" stroke="#262626" stroke-width="0.45" text-anchor="middle">T [K]</text>
<clipPath id="cR5"><rect x="1067.0" y="1559.2" width="886.0" height="268.4"/></clipPath>
<path d="M1244.8 1562.2V1824.7M1421.6 1562.2V1824.7M1598.4 1562.2V1824.7M1775.2 1562.2V1824.7M1068.0 1793.4H1952.0M1068.0 1730.9H1952.0M1068.0 1668.5H1952.0M1068.0 1606.0H1952.0" stroke="#dcdcdc" stroke-width="1.8" fill="none"/>
<path d="M1244.8 1824.7v-9.0M1244.8 1562.2v9.0M1421.6 1824.7v-9.0M1421.6 1562.2v9.0M1598.4 1824.7v-9.0M1598.4 1562.2v9.0M1775.2 1824.7v-9.0M1775.2 1562.2v9.0M1068.0 1793.4h9.0M1952.0 1793.4h-9.0M1068.0 1730.9h9.0M1952.0 1730.9h-9.0M1068.0 1668.5h9.0M1952.0 1668.5h-9.0M1068.0 1606.0h9.0M1952.0 1606.0h-9.0" stroke="#262626" stroke-width="2" fill="none"/>
<rect x="1068.0" y="1562.2" width="884.0" height="262.4" stroke="#262626" stroke-width="2" fill="none"/>
<text transform="translate(1094.5 1609.7) scale(1 1.040)" font-size="39.5" fill="#000" stroke="#000" stroke-width="0.45">(m) T<tspan font-size="31.6" dx="1.8" dy="18.3">S</tspan></text>
<g clip-path="url(#cR5)" fill="none" stroke-width="5.8" stroke-linejoin="round">
<path d="M1066.9 1730.2L1072.5 1729.1L1078.1 1728.1L1083.7 1727.0L1089.2 1725.9L1094.8 1724.9L1100.4 1723.8L1106.0 1722.7L1111.5 1721.6L1117.1 1720.5L1122.7 1719.4L1128.2 1718.3L1133.8 1717.2L1139.4 1716.1L1145.0 1715.0L1150.5 1713.9L1156.1 1712.8L1161.7 1711.7L1167.3 1710.5L1172.8 1709.4L1178.4 1708.3L1184.0 1707.2L1189.5 1706.0L1195.1 1704.9L1200.7 1703.8L1206.3 1702.7L1211.8 1701.5L1217.4 1700.4L1223.0 1699.3L1228.6 1698.1L1234.1 1697.0L1239.7 1695.9L1245.3 1694.7L1250.9 1693.6L1256.4 1692.5L1262.0 1691.3L1267.6 1690.2L1273.1 1689.1L1278.7 1687.9L1284.3 1686.8L1289.9 1685.7L1295.4 1684.6L1301.0 1683.4L1306.6 1682.3L1312.2 1681.2L1317.7 1680.1L1323.3 1679.0L1328.9 1677.9L1334.4 1676.8L1340.0 1675.7L1345.6 1674.6L1351.2 1673.5L1356.7 1672.4L1362.3 1671.3L1367.9 1670.2L1373.5 1669.2L1379.0 1668.1L1384.6 1667.0L1390.2 1666.0L1395.8 1664.9L1401.3 1663.8L1406.9 1662.8L1412.5 1661.8L1418.0 1660.7L1423.6 1659.7L1429.2 1658.7L1434.8 1657.7L1440.3 1656.7L1445.9 1655.7L1451.5 1654.7L1457.1 1653.7L1462.6 1652.7L1468.2 1651.7L1473.8 1650.8L1479.3 1649.8L1484.9 1648.9L1490.5 1647.9L1496.1 1647.0L1501.6 1646.1L1507.2 1645.2L1512.8 1644.3L1518.4 1643.4L1523.9 1642.5L1529.5 1641.6L1535.1 1640.7L1540.7 1639.9L1546.2 1639.0L1551.8 1638.2L1557.4 1637.4L1562.9 1636.6L1568.5 1635.8L1574.1 1635.0L1579.7 1634.2L1585.2 1633.4L1590.8 1632.6L1596.4 1631.9L1602.0 1631.1L1607.5 1630.4L1613.1 1629.7L1618.7 1629.0L1624.2 1628.3L1629.8 1627.6L1635.4 1626.9L1641.0 1626.2L1646.5 1625.6L1652.1 1624.9L1657.7 1624.3L1663.3 1623.7L1668.8 1623.1L1674.4 1622.5L1680.0 1621.9L1685.6 1621.3L1691.1 1620.8L1696.7 1620.2L1702.3 1619.7L1707.8 1619.2L1713.4 1618.7L1719.0 1618.2L1724.6 1617.7L1730.1 1617.2L1735.7 1616.8L1741.3 1616.3L1746.9 1615.9L1752.4 1615.5L1758.0 1615.1L1763.6 1614.7L1769.1 1614.3L1774.7 1614.0L1780.3 1613.6L1785.9 1613.3L1791.4 1613.0L1797.0 1612.7L1802.6 1612.4L1808.2 1612.1L1813.7 1611.8L1819.3 1611.6L1824.9 1611.4L1830.5 1611.1L1836.0 1610.9L1841.6 1610.8L1847.2 1610.6L1852.7 1610.4L1858.3 1610.3L1863.9 1610.2L1869.5 1610.1L1875.0 1610.0L1880.6 1609.9L1886.2 1609.8L1891.8 1609.8L1897.3 1609.8L1902.9 1609.7L1908.5 1609.7L1914.0 1609.8L1919.6 1609.8L1925.2 1609.9L1930.8 1609.9L1936.3 1610.0L1941.9 1610.1L1947.5 1610.2L1953.1 1610.4" stroke="#000"/>
<path d="M1066.9 1720.7L1072.5 1719.8L1078.1 1718.9L1083.7 1717.9L1089.2 1717.0L1094.8 1716.0L1100.4 1715.1L1106.0 1714.1L1111.5 1713.1L1117.1 1712.1L1122.7 1711.1L1128.2 1710.1L1133.8 1709.1L1139.4 1708.1L1145.0 1707.0L1150.5 1706.0L1156.1 1705.0L1161.7 1703.9L1167.3 1702.9L1172.8 1701.8L1178.4 1700.7L1184.0 1699.7L1189.5 1698.6L1195.1 1697.5L1200.7 1696.5L1206.3 1695.4L1211.8 1694.3L1217.4 1693.2L1223.0 1692.1L1228.6 1691.0L1234.1 1689.9L1239.7 1688.9L1245.3 1687.8L1250.9 1686.7L1256.4 1685.6L1262.0 1684.5L1267.6 1683.4L1273.1 1682.3L1278.7 1681.2L1284.3 1680.1L1289.9 1679.0L1295.4 1677.9L1301.0 1676.8L1306.6 1675.7L1312.2 1674.6L1317.7 1673.5L1323.3 1672.4L1328.9 1671.3L1334.4 1670.3L1340.0 1669.2L1345.6 1668.1L1351.2 1667.0L1356.7 1666.0L1362.3 1664.9L1367.9 1663.8L1373.5 1662.8L1379.0 1661.7L1384.6 1660.7L1390.2 1659.6L1395.8 1658.6L1401.3 1657.6L1406.9 1656.6L1412.5 1655.6L1418.0 1654.5L1423.6 1653.5L1429.2 1652.6L1434.8 1651.6L1440.3 1650.6L1445.9 1649.6L1451.5 1648.7L1457.1 1647.7L1462.6 1646.8L1468.2 1645.8L1473.8 1644.9L1479.3 1644.0L1484.9 1643.1L1490.5 1642.2L1496.1 1641.3L1501.6 1640.5L1507.2 1639.6L1512.8 1638.8L1518.4 1637.9L1523.9 1637.1L1529.5 1636.3L1535.1 1635.5L1540.7 1634.7L1546.2 1633.9L1551.8 1633.2L1557.4 1632.4L1562.9 1631.7L1568.5 1630.9L1574.1 1630.2L1579.7 1629.5L1585.2 1628.8L1590.8 1628.1L1596.4 1627.4L1602.0 1626.8L1607.5 1626.1L1613.1 1625.5L1618.7 1624.8L1624.2 1624.2L1629.8 1623.6L1635.4 1623.0L1641.0 1622.4L1646.5 1621.9L1652.1 1621.3L1657.7 1620.8L1663.3 1620.2L1668.8 1619.7L1674.4 1619.2L1680.0 1618.7L1685.6 1618.2L1691.1 1617.7L1696.7 1617.2L1702.3 1616.8L1707.8 1616.3L1713.4 1615.9L1719.0 1615.5L1724.6 1615.1L1730.1 1614.7L1735.7 1614.3L1741.3 1613.9L1746.9 1613.6L1752.4 1613.2L1758.0 1612.9L1763.6 1612.5L1769.1 1612.2L1774.7 1611.9L1780.3 1611.6L1785.9 1611.3L1791.4 1611.1L1797.0 1610.8L1802.6 1610.6L1808.2 1610.3L1813.7 1610.1L1819.3 1609.9L1824.9 1609.7L1830.5 1609.5L1836.0 1609.3L1841.6 1609.2L1847.2 1609.0L1852.7 1608.9L1858.3 1608.8L1863.9 1608.6L1869.5 1608.5L1875.0 1608.4L1880.6 1608.4L1886.2 1608.3L1891.8 1608.2L1897.3 1608.2L1902.9 1608.2L1908.5 1608.1L1914.0 1608.1L1919.6 1608.1L1925.2 1608.1L1930.8 1608.2L1936.3 1608.2L1941.9 1608.3L1947.5 1608.3L1953.1 1608.4" stroke="#0000ff"/>
<path d="M1066.9 1737.9L1072.5 1736.9L1078.1 1735.8L1083.7 1734.8L1089.2 1733.7L1094.8 1732.7L1100.4 1731.6L1106.0 1730.5L1111.5 1729.4L1117.1 1728.3L1122.7 1727.3L1128.2 1726.2L1133.8 1725.1L1139.4 1723.9L1145.0 1722.8L1150.5 1721.7L1156.1 1720.6L1161.7 1719.5L1167.3 1718.4L1172.8 1717.2L1178.4 1716.1L1184.0 1715.0L1189.5 1713.8L1195.1 1712.7L1200.7 1711.6L1206.3 1710.4L1211.8 1709.3L1217.4 1708.1L1223.0 1707.0L1228.6 1705.9L1234.1 1704.7L1239.7 1703.6L1245.3 1702.4L1250.9 1701.3L1256.4 1700.1L1262.0 1699.0L1267.6 1697.8L1273.1 1696.7L1278.7 1695.5L1284.3 1694.4L1289.9 1693.3L1295.4 1692.1L1301.0 1691.0L1306.6 1689.8L1312.2 1688.7L1317.7 1687.6L1323.3 1686.5L1328.9 1685.3L1334.4 1684.2L1340.0 1683.1L1345.6 1682.0L1351.2 1680.9L1356.7 1679.7L1362.3 1678.6L1367.9 1677.5L1373.5 1676.4L1379.0 1675.3L1384.6 1674.3L1390.2 1673.2L1395.8 1672.1L1401.3 1671.0L1406.9 1670.0L1412.5 1668.9L1418.0 1667.8L1423.6 1666.8L1429.2 1665.8L1434.8 1664.7L1440.3 1663.7L1445.9 1662.7L1451.5 1661.7L1457.1 1660.6L1462.6 1659.6L1468.2 1658.7L1473.8 1657.7L1479.3 1656.7L1484.9 1655.7L1490.5 1654.8L1496.1 1653.8L1501.6 1652.9L1507.2 1652.0L1512.8 1651.0L1518.4 1650.1L1523.9 1649.2L1529.5 1648.3L1535.1 1647.4L1540.7 1646.6L1546.2 1645.7L1551.8 1644.8L1557.4 1644.0L1562.9 1643.2L1568.5 1642.3L1574.1 1641.5L1579.7 1640.7L1585.2 1639.9L1590.8 1639.2L1596.4 1638.4L1602.0 1637.6L1607.5 1636.9L1613.1 1636.1L1618.7 1635.4L1624.2 1634.7L1629.8 1634.0L1635.4 1633.3L1641.0 1632.6L1646.5 1631.9L1652.1 1631.2L1657.7 1630.6L1663.3 1629.9L1668.8 1629.3L1674.4 1628.7L1680.0 1628.0L1685.6 1627.4L1691.1 1626.9L1696.7 1626.3L1702.3 1625.7L1707.8 1625.1L1713.4 1624.6L1719.0 1624.1L1724.6 1623.5L1730.1 1623.0L1735.7 1622.5L1741.3 1622.1L1746.9 1621.6L1752.4 1621.1L1758.0 1620.7L1763.6 1620.2L1769.1 1619.8L1774.7 1619.4L1780.3 1619.0L1785.9 1618.6L1791.4 1618.2L1797.0 1617.9L1802.6 1617.5L1808.2 1617.2L1813.7 1616.8L1819.3 1616.5L1824.9 1616.2L1830.5 1615.9L1836.0 1615.7L1841.6 1615.4L1847.2 1615.1L1852.7 1614.9L1858.3 1614.7L1863.9 1614.5L1869.5 1614.3L1875.0 1614.1L1880.6 1613.9L1886.2 1613.8L1891.8 1613.6L1897.3 1613.5L1902.9 1613.4L1908.5 1613.3L1914.0 1613.2L1919.6 1613.1L1925.2 1613.0L1930.8 1613.0L1936.3 1612.9L1941.9 1612.9L1947.5 1612.9L1953.1 1612.9" stroke="#ff0000"/>
</g>
<text transform="translate(1967.3 1808.4) scale(1 1.040)" font-size="39.5" fill="#262626" stroke="#262626" stroke-width="0.45">0</text>
<text transform="translate(1967.3 1745.9) scale(1 1.040)" font-size="39.5" fill="#262626" stroke="#262626" stroke-width="0.45">10</text>
<text transform="translate(1967.3 1683.5) scale(1 1.040)" font-size="39.5" fill="#262626" stroke="#262626" stroke-width="0.45">20</text>
<text transform="translate(1967.3 1621.0) scale(1 1.040)" font-size="39.5" fill="#262626" stroke="#262626" stroke-width="0.45">30</text>
<text transform="translate(2069.6 1693.5) rotate(-90) scale(1 1.040)" font-size="43.0" fill="#262626" stroke="#262626" stroke-width="0.45" text-anchor="middle">T [K]</text>
<clipPath id="cL6"><rect x="135.7" y="1857.3" width="886.1" height="268.4"/></clipPath>
<path d="M313.5 1860.3V2122.7M490.3 1860.3V2122.7M667.2 1860.3V2122.7M844.0 1860.3V2122.7M136.7 2057.1H1020.8M136.7 1925.9H1020.8" stroke="#dcdcdc" stroke-width="1.8" fill="none"/>
<path d="M313.5 2122.7v-9.0M313.5 1860.3v9.0M490.3 2122.7v-9.0M490.3 1860.3v9.0M667.2 2122.7v-9.0M667.2 1860.3v9.0M844.0 2122.7v-9.0M844.0 1860.3v9.0M136.7 2057.1h9.0M1020.8 2057.1h-9.0M136.7 1925.9h9.0M1020.8 1925.9h-9.0" stroke="#262626" stroke-width="2" fill="none"/>
<rect x="136.7" y="1860.3" width="884.1" height="262.4" stroke="#262626" stroke-width="2" fill="none"/>
<text transform="translate(163.2 1907.7) scale(1 1.040)" font-size="39.5" fill="#000" stroke="#000" stroke-width="0.45">(g) T<tspan font-size="31.6" dx="1.8" dy="18.3">U</tspan></text>
<g clip-path="url(#cL6)" fill="none" stroke-width="5.8" stroke-linejoin="round">
<path d="M135.6 1947.0L141.2 1948.2L146.8 1949.5L152.4 1950.7L157.9 1951.8L163.5 1953.0L169.1 1954.2L174.7 1955.3L180.2 1956.5L185.8 1957.6L191.4 1958.7L197.0 1959.8L202.5 1960.9L208.1 1962.0L213.7 1963.0L219.2 1964.1L224.8 1965.1L230.4 1966.2L236.0 1967.2L241.5 1968.2L247.1 1969.2L252.7 1970.2L258.3 1971.2L263.8 1972.1L269.4 1973.1L275.0 1974.0L280.6 1975.0L286.1 1975.9L291.7 1976.8L297.3 1977.7L302.9 1978.6L308.4 1979.5L314.0 1980.4L319.6 1981.2L325.1 1982.1L330.7 1982.9L336.3 1983.8L341.9 1984.6L347.4 1985.4L353.0 1986.2L358.6 1987.0L364.2 1987.8L369.7 1988.6L375.3 1989.3L380.9 1990.1L386.5 1990.8L392.0 1991.6L397.6 1992.3L403.2 1993.0L408.8 1993.7L414.3 1994.4L419.9 1995.1L425.5 1995.8L431.0 1996.5L436.6 1997.2L442.2 1997.8L447.8 1998.5L453.3 1999.1L458.9 1999.8L464.5 2000.4L470.1 2001.0L475.6 2001.6L481.2 2002.2L486.8 2002.8L492.4 2003.4L497.9 2004.0L503.5 2004.6L509.1 2005.2L514.7 2005.7L520.2 2006.3L525.8 2006.8L531.4 2007.4L536.9 2007.9L542.5 2008.4L548.1 2009.0L553.7 2009.5L559.2 2010.0L564.8 2010.5L570.4 2011.0L576.0 2011.5L581.5 2011.9L587.1 2012.4L592.7 2012.9L598.3 2013.3L603.8 2013.8L609.4 2014.2L615.0 2014.7L620.6 2015.1L626.1 2015.6L631.7 2016.0L637.3 2016.4L642.8 2016.8L648.4 2017.2L654.0 2017.6L659.6 2018.0L665.1 2018.4L670.7 2018.8L676.3 2019.2L681.9 2019.6L687.4 2020.0L693.0 2020.3L698.6 2020.7L704.2 2021.1L709.7 2021.4L715.3 2021.8L720.9 2022.1L726.5 2022.5L732.0 2022.8L737.6 2023.1L743.2 2023.5L748.7 2023.8L754.3 2024.1L759.9 2024.5L765.5 2024.8L771.0 2025.1L776.6 2025.4L782.2 2025.7L787.8 2026.0L793.3 2026.3L798.9 2026.6L804.5 2026.9L810.1 2027.2L815.6 2027.5L821.2 2027.7L826.8 2028.0L832.4 2028.3L837.9 2028.6L843.5 2028.9L849.1 2029.1L854.6 2029.4L860.2 2029.7L865.8 2029.9L871.4 2030.2L876.9 2030.4L882.5 2030.7L888.1 2030.9L893.7 2031.2L899.2 2031.5L904.8 2031.7L910.4 2031.9L916.0 2032.2L921.5 2032.4L927.1 2032.7L932.7 2032.9L938.3 2033.2L943.8 2033.4L949.4 2033.6L955.0 2033.9L960.5 2034.1L966.1 2034.3L971.7 2034.6L977.3 2034.8L982.8 2035.0L988.4 2035.3L994.0 2035.5L999.6 2035.7L1005.1 2036.0L1010.7 2036.2L1016.3 2036.4L1021.9 2036.7" stroke="#000"/>
<path d="M135.6 1962.9L141.2 1964.1L146.8 1965.3L152.4 1966.6L157.9 1967.8L163.5 1969.0L169.1 1970.2L174.7 1971.3L180.2 1972.5L185.8 1973.6L191.4 1974.7L197.0 1975.9L202.5 1977.0L208.1 1978.1L213.7 1979.1L219.2 1980.2L224.8 1981.2L230.4 1982.3L236.0 1983.3L241.5 1984.3L247.1 1985.3L252.7 1986.3L258.3 1987.3L263.8 1988.3L269.4 1989.2L275.0 1990.2L280.6 1991.1L286.1 1992.0L291.7 1992.9L297.3 1993.8L302.9 1994.7L308.4 1995.6L314.0 1996.5L319.6 1997.3L325.1 1998.1L330.7 1999.0L336.3 1999.8L341.9 2000.6L347.4 2001.4L353.0 2002.2L358.6 2003.0L364.2 2003.8L369.7 2004.5L375.3 2005.3L380.9 2006.0L386.5 2006.7L392.0 2007.5L397.6 2008.2L403.2 2008.9L408.8 2009.6L414.3 2010.2L419.9 2010.9L425.5 2011.6L431.0 2012.2L436.6 2012.9L442.2 2013.5L447.8 2014.2L453.3 2014.8L458.9 2015.4L464.5 2016.0L470.1 2016.6L475.6 2017.2L481.2 2017.8L486.8 2018.3L492.4 2018.9L497.9 2019.5L503.5 2020.0L509.1 2020.5L514.7 2021.1L520.2 2021.6L525.8 2022.1L531.4 2022.6L536.9 2023.1L542.5 2023.6L548.1 2024.1L553.7 2024.6L559.2 2025.1L564.8 2025.6L570.4 2026.0L576.0 2026.5L581.5 2026.9L587.1 2027.4L592.7 2027.8L598.3 2028.2L603.8 2028.7L609.4 2029.1L615.0 2029.5L620.6 2029.9L626.1 2030.3L631.7 2030.7L637.3 2031.1L642.8 2031.5L648.4 2031.9L654.0 2032.3L659.6 2032.6L665.1 2033.0L670.7 2033.4L676.3 2033.7L681.9 2034.1L687.4 2034.4L693.0 2034.8L698.6 2035.1L704.2 2035.4L709.7 2035.8L715.3 2036.1L720.9 2036.4L726.5 2036.8L732.0 2037.1L737.6 2037.4L743.2 2037.7L748.7 2038.0L754.3 2038.3L759.9 2038.6L765.5 2038.9L771.0 2039.2L776.6 2039.5L782.2 2039.8L787.8 2040.1L793.3 2040.3L798.9 2040.6L804.5 2040.9L810.1 2041.2L815.6 2041.4L821.2 2041.7L826.8 2042.0L832.4 2042.2L837.9 2042.5L843.5 2042.8L849.1 2043.0L854.6 2043.3L860.2 2043.6L865.8 2043.8L871.4 2044.1L876.9 2044.3L882.5 2044.6L888.1 2044.8L893.7 2045.1L899.2 2045.3L904.8 2045.6L910.4 2045.8L916.0 2046.1L921.5 2046.3L927.1 2046.6L932.7 2046.8L938.3 2047.1L943.8 2047.3L949.4 2047.6L955.0 2047.8L960.5 2048.1L966.1 2048.3L971.7 2048.6L977.3 2048.8L982.8 2049.1L988.4 2049.3L994.0 2049.6L999.6 2049.8L1005.1 2050.1L1010.7 2050.3L1016.3 2050.6L1021.9 2050.8" stroke="#000" stroke-dasharray="18.8 19.1"/>
<path d="M135.6 1958.9L141.2 1960.1L146.8 1961.3L152.4 1962.6L157.9 1963.8L163.5 1965.0L169.1 1966.2L174.7 1967.3L180.2 1968.5L185.8 1969.6L191.4 1970.7L197.0 1971.9L202.5 1973.0L208.1 1974.1L213.7 1975.1L219.2 1976.2L224.8 1977.2L230.4 1978.3L236.0 1979.3L241.5 1980.3L247.1 1981.3L252.7 1982.3L258.3 1983.3L263.8 1984.3L269.4 1985.2L275.0 1986.2L280.6 1987.1L286.1 1988.0L291.7 1988.9L297.3 1989.8L302.9 1990.7L308.4 1991.6L314.0 1992.5L319.6 1993.3L325.1 1994.1L330.7 1995.0L336.3 1995.8L341.9 1996.6L347.4 1997.4L353.0 1998.2L358.6 1999.0L364.2 1999.8L369.7 2000.5L375.3 2001.3L380.9 2002.0L386.5 2002.7L392.0 2003.5L397.6 2004.2L403.2 2004.9L408.8 2005.6L414.3 2006.2L419.9 2006.9L425.5 2007.6L431.0 2008.2L436.6 2008.9L442.2 2009.5L447.8 2010.2L453.3 2010.8L458.9 2011.4L464.5 2012.0L470.1 2012.6L475.6 2013.2L481.2 2013.8L486.8 2014.3L492.4 2014.9L497.9 2015.5L503.5 2016.0L509.1 2016.5L514.7 2017.1L520.2 2017.6L525.8 2018.1L531.4 2018.6L536.9 2019.1L542.5 2019.6L548.1 2020.1L553.7 2020.6L559.2 2021.1L564.8 2021.6L570.4 2022.0L576.0 2022.5L581.5 2022.9L587.1 2023.4L592.7 2023.8L598.3 2024.2L603.8 2024.7L609.4 2025.1L615.0 2025.5L620.6 2025.9L626.1 2026.3L631.7 2026.7L637.3 2027.1L642.8 2027.5L648.4 2027.9L654.0 2028.3L659.6 2028.6L665.1 2029.0L670.7 2029.4L676.3 2029.7L681.9 2030.1L687.4 2030.4L693.0 2030.8L698.6 2031.1L704.2 2031.4L709.7 2031.8L715.3 2032.1L720.9 2032.4L726.5 2032.8L732.0 2033.1L737.6 2033.4L743.2 2033.7L748.7 2034.0L754.3 2034.3L759.9 2034.6L765.5 2034.9L771.0 2035.2L776.6 2035.5L782.2 2035.8L787.8 2036.1L793.3 2036.3L798.9 2036.6L804.5 2036.9L810.1 2037.2L815.6 2037.4L821.2 2037.7L826.8 2038.0L832.4 2038.2L837.9 2038.5L843.5 2038.8L849.1 2039.0L854.6 2039.3L860.2 2039.6L865.8 2039.8L871.4 2040.1L876.9 2040.3L882.5 2040.6L888.1 2040.8L893.7 2041.1L899.2 2041.3L904.8 2041.6L910.4 2041.8L916.0 2042.1L921.5 2042.3L927.1 2042.6L932.7 2042.8L938.3 2043.1L943.8 2043.3L949.4 2043.6L955.0 2043.8L960.5 2044.1L966.1 2044.3L971.7 2044.6L977.3 2044.8L982.8 2045.1L988.4 2045.3L994.0 2045.6L999.6 2045.8L1005.1 2046.1L1010.7 2046.3L1016.3 2046.6L1021.9 2046.8" stroke="#000" stroke-dasharray="4.7 4.7"/>
<path d="M135.6 1947.8L141.2 1949.0L146.8 1950.3L152.4 1951.5L157.9 1952.6L163.5 1953.8L169.1 1955.0L174.7 1956.1L180.2 1957.3L185.8 1958.4L191.4 1959.5L197.0 1960.6L202.5 1961.7L208.1 1962.8L213.7 1963.8L219.2 1964.9L224.8 1965.9L230.4 1967.0L236.0 1968.0L241.5 1969.0L247.1 1970.0L252.7 1971.0L258.3 1972.0L263.8 1972.9L269.4 1973.9L275.0 1974.8L280.6 1975.8L286.1 1976.7L291.7 1977.6L297.3 1978.5L302.9 1979.4L308.4 1980.3L314.0 1981.2L319.6 1982.0L325.1 1982.9L330.7 1983.7L336.3 1984.6L341.9 1985.4L347.4 1986.2L353.0 1987.0L358.6 1987.8L364.2 1988.6L369.7 1989.4L375.3 1990.1L380.9 1990.9L386.5 1991.6L392.0 1992.4L397.6 1993.1L403.2 1993.8L408.8 1994.5L414.3 1995.2L419.9 1995.9L425.5 1996.6L431.0 1997.3L436.6 1998.0L442.2 1998.6L447.8 1999.3L453.3 1999.9L458.9 2000.6L464.5 2001.2L470.1 2001.8L475.6 2002.4L481.2 2003.0L486.8 2003.6L492.4 2004.2L497.9 2004.8L503.5 2005.4L509.1 2006.0L514.7 2006.5L520.2 2007.1L525.8 2007.6L531.4 2008.2L536.9 2008.7L542.5 2009.2L548.1 2009.8L553.7 2010.3L559.2 2010.8L564.8 2011.3L570.4 2011.8L576.0 2012.3L581.5 2012.7L587.1 2013.2L592.7 2013.7L598.3 2014.1L603.8 2014.6L609.4 2015.0L615.0 2015.5L620.6 2015.9L626.1 2016.4L631.7 2016.8L637.3 2017.2L642.8 2017.6L648.4 2018.0L654.0 2018.4L659.6 2018.8L665.1 2019.2L670.7 2019.6L676.3 2020.0L681.9 2020.4L687.4 2020.8L693.0 2021.1L698.6 2021.5L704.2 2021.9L709.7 2022.2L715.3 2022.6L720.9 2022.9L726.5 2023.3L732.0 2023.6L737.6 2023.9L743.2 2024.3L748.7 2024.6L754.3 2024.9L759.9 2025.3L765.5 2025.6L771.0 2025.9L776.6 2026.2L782.2 2026.5L787.8 2026.8L793.3 2027.1L798.9 2027.4L804.5 2027.7L810.1 2028.0L815.6 2028.3L821.2 2028.5L826.8 2028.8L832.4 2029.1L837.9 2029.4L843.5 2029.7L849.1 2029.9L854.6 2030.2L860.2 2030.5L865.8 2030.7L871.4 2031.0L876.9 2031.2L882.5 2031.5L888.1 2031.7L893.7 2032.0L899.2 2032.3L904.8 2032.5L910.4 2032.7L916.0 2033.0L921.5 2033.2L927.1 2033.5L932.7 2033.7L938.3 2034.0L943.8 2034.2L949.4 2034.4L955.0 2034.7L960.5 2034.9L966.1 2035.1L971.7 2035.4L977.3 2035.6L982.8 2035.8L988.4 2036.1L994.0 2036.3L999.6 2036.5L1005.1 2036.8L1010.7 2037.0L1016.3 2037.2L1021.9 2037.5" stroke="#000" stroke-dasharray="22.6 5.5 4.3 5.5" stroke-dashoffset="1.9"/>
</g>
<text transform="translate(119.3 2072.1) scale(1 1.040)" font-size="39.5" fill="#262626" stroke="#262626" stroke-width="0.45" text-anchor="end">180</text>
<text transform="translate(119.3 1940.9) scale(1 1.040)" font-size="39.5" fill="#262626" stroke="#262626" stroke-width="0.45" text-anchor="end">190</text>
<text transform="translate(31.0 1991.5) rotate(-90) scale(1 1.040)" font-size="43.0" fill="#262626" stroke="#262626" stroke-width="0.45" text-anchor="middle">T [K]</text>
<clipPath id="cR6"><rect x="1067.0" y="1857.3" width="886.0" height="268.4"/></clipPath>
<path d="M1244.8 1860.3V2122.7M1421.6 1860.3V2122.7M1598.4 1860.3V2122.7M1775.2 1860.3V2122.7M1068.0 2057.1H1952.0M1068.0 1925.9H1952.0" stroke="#dcdcdc" stroke-width="1.8" fill="none"/>
<path d="M1244.8 2122.7v-9.0M1244.8 1860.3v9.0M1421.6 2122.7v-9.0M1421.6 1860.3v9.0M1598.4 2122.7v-9.0M1598.4 1860.3v9.0M1775.2 2122.7v-9.0M1775.2 1860.3v9.0M1068.0 2057.1h9.0M1952.0 2057.1h-9.0M1068.0 1925.9h9.0M1952.0 1925.9h-9.0" stroke="#262626" stroke-width="2" fill="none"/>
<rect x="1068.0" y="1860.3" width="884.0" height="262.4" stroke="#262626" stroke-width="2" fill="none"/>
<text transform="translate(1094.5 1907.7) scale(1 1.040)" font-size="39.5" fill="#000" stroke="#000" stroke-width="0.45">(n) T<tspan font-size="31.6" dx="1.8" dy="18.3">U</tspan></text>
<g clip-path="url(#cR6)" fill="none" stroke-width="5.8" stroke-linejoin="round">
<path d="M1066.9 1938.7L1072.5 1939.7L1078.1 1940.7L1083.7 1941.7L1089.2 1942.7L1094.8 1943.7L1100.4 1944.6L1106.0 1945.6L1111.5 1946.6L1117.1 1947.5L1122.7 1948.5L1128.2 1949.4L1133.8 1950.3L1139.4 1951.2L1145.0 1952.1L1150.5 1953.0L1156.1 1953.9L1161.7 1954.8L1167.3 1955.7L1172.8 1956.6L1178.4 1957.4L1184.0 1958.3L1189.5 1959.1L1195.1 1959.9L1200.7 1960.8L1206.3 1961.6L1211.8 1962.4L1217.4 1963.2L1223.0 1964.0L1228.6 1964.8L1234.1 1965.6L1239.7 1966.4L1245.3 1967.1L1250.9 1967.9L1256.4 1968.6L1262.0 1969.4L1267.6 1970.1L1273.1 1970.9L1278.7 1971.6L1284.3 1972.3L1289.9 1973.0L1295.4 1973.7L1301.0 1974.4L1306.6 1975.1L1312.2 1975.8L1317.7 1976.5L1323.3 1977.1L1328.9 1977.8L1334.4 1978.4L1340.0 1979.1L1345.6 1979.7L1351.2 1980.4L1356.7 1981.0L1362.3 1981.6L1367.9 1982.2L1373.5 1982.8L1379.0 1983.4L1384.6 1984.0L1390.2 1984.6L1395.8 1985.2L1401.3 1985.8L1406.9 1986.3L1412.5 1986.9L1418.0 1987.4L1423.6 1988.0L1429.2 1988.5L1434.8 1989.1L1440.3 1989.6L1445.9 1990.1L1451.5 1990.6L1457.1 1991.1L1462.6 1991.6L1468.2 1992.1L1473.8 1992.6L1479.3 1993.1L1484.9 1993.6L1490.5 1994.1L1496.1 1994.5L1501.6 1995.0L1507.2 1995.5L1512.8 1995.9L1518.4 1996.3L1523.9 1996.8L1529.5 1997.2L1535.1 1997.6L1540.7 1998.1L1546.2 1998.5L1551.8 1998.9L1557.4 1999.3L1562.9 1999.7L1568.5 2000.1L1574.1 2000.5L1579.7 2000.9L1585.2 2001.2L1590.8 2001.6L1596.4 2002.0L1602.0 2002.3L1607.5 2002.7L1613.1 2003.1L1618.7 2003.4L1624.2 2003.7L1629.8 2004.1L1635.4 2004.4L1641.0 2004.7L1646.5 2005.1L1652.1 2005.4L1657.7 2005.7L1663.3 2006.0L1668.8 2006.3L1674.4 2006.6L1680.0 2006.9L1685.6 2007.2L1691.1 2007.5L1696.7 2007.7L1702.3 2008.0L1707.8 2008.3L1713.4 2008.5L1719.0 2008.8L1724.6 2009.0L1730.1 2009.3L1735.7 2009.5L1741.3 2009.8L1746.9 2010.0L1752.4 2010.3L1758.0 2010.5L1763.6 2010.7L1769.1 2010.9L1774.7 2011.1L1780.3 2011.4L1785.9 2011.6L1791.4 2011.8L1797.0 2012.0L1802.6 2012.2L1808.2 2012.3L1813.7 2012.5L1819.3 2012.7L1824.9 2012.9L1830.5 2013.1L1836.0 2013.2L1841.6 2013.4L1847.2 2013.6L1852.7 2013.7L1858.3 2013.9L1863.9 2014.0L1869.5 2014.2L1875.0 2014.3L1880.6 2014.5L1886.2 2014.6L1891.8 2014.8L1897.3 2014.9L1902.9 2015.0L1908.5 2015.1L1914.0 2015.3L1919.6 2015.4L1925.2 2015.5L1930.8 2015.6L1936.3 2015.7L1941.9 2015.8L1947.5 2015.9L1953.1 2016.0" stroke="#000"/>
<path d="M1066.9 2005.5L1072.5 2006.5L1078.1 2007.4L1083.7 2008.3L1089.2 2009.2L1094.8 2010.1L1100.4 2011.0L1106.0 2011.9L1111.5 2012.8L1117.1 2013.6L1122.7 2014.5L1128.2 2015.4L1133.8 2016.2L1139.4 2017.0L1145.0 2017.9L1150.5 2018.7L1156.1 2019.5L1161.7 2020.3L1167.3 2021.1L1172.8 2021.9L1178.4 2022.7L1184.0 2023.5L1189.5 2024.3L1195.1 2025.0L1200.7 2025.8L1206.3 2026.5L1211.8 2027.3L1217.4 2028.0L1223.0 2028.7L1228.6 2029.5L1234.1 2030.2L1239.7 2030.9L1245.3 2031.6L1250.9 2032.3L1256.4 2033.0L1262.0 2033.7L1267.6 2034.3L1273.1 2035.0L1278.7 2035.7L1284.3 2036.3L1289.9 2037.0L1295.4 2037.6L1301.0 2038.3L1306.6 2038.9L1312.2 2039.5L1317.7 2040.1L1323.3 2040.7L1328.9 2041.3L1334.4 2041.9L1340.0 2042.5L1345.6 2043.1L1351.2 2043.7L1356.7 2044.3L1362.3 2044.8L1367.9 2045.4L1373.5 2046.0L1379.0 2046.5L1384.6 2047.0L1390.2 2047.6L1395.8 2048.1L1401.3 2048.6L1406.9 2049.2L1412.5 2049.7L1418.0 2050.2L1423.6 2050.7L1429.2 2051.2L1434.8 2051.7L1440.3 2052.2L1445.9 2052.7L1451.5 2053.1L1457.1 2053.6L1462.6 2054.1L1468.2 2054.5L1473.8 2055.0L1479.3 2055.4L1484.9 2055.9L1490.5 2056.3L1496.1 2056.8L1501.6 2057.2L1507.2 2057.6L1512.8 2058.0L1518.4 2058.4L1523.9 2058.8L1529.5 2059.3L1535.1 2059.7L1540.7 2060.0L1546.2 2060.4L1551.8 2060.8L1557.4 2061.2L1562.9 2061.6L1568.5 2061.9L1574.1 2062.3L1579.7 2062.7L1585.2 2063.0L1590.8 2063.4L1596.4 2063.7L1602.0 2064.1L1607.5 2064.4L1613.1 2064.8L1618.7 2065.1L1624.2 2065.4L1629.8 2065.7L1635.4 2066.1L1641.0 2066.4L1646.5 2066.7L1652.1 2067.0L1657.7 2067.3L1663.3 2067.6L1668.8 2067.9L1674.4 2068.2L1680.0 2068.5L1685.6 2068.7L1691.1 2069.0L1696.7 2069.3L1702.3 2069.6L1707.8 2069.8L1713.4 2070.1L1719.0 2070.4L1724.6 2070.6L1730.1 2070.9L1735.7 2071.1L1741.3 2071.4L1746.9 2071.6L1752.4 2071.9L1758.0 2072.1L1763.6 2072.3L1769.1 2072.6L1774.7 2072.8L1780.3 2073.0L1785.9 2073.2L1791.4 2073.4L1797.0 2073.7L1802.6 2073.9L1808.2 2074.1L1813.7 2074.3L1819.3 2074.5L1824.9 2074.7L1830.5 2074.9L1836.0 2075.1L1841.6 2075.3L1847.2 2075.5L1852.7 2075.6L1858.3 2075.8L1863.9 2076.0L1869.5 2076.2L1875.0 2076.4L1880.6 2076.5L1886.2 2076.7L1891.8 2076.9L1897.3 2077.0L1902.9 2077.2L1908.5 2077.4L1914.0 2077.5L1919.6 2077.7L1925.2 2077.8L1930.8 2078.0L1936.3 2078.1L1941.9 2078.3L1947.5 2078.4L1953.1 2078.6" stroke="#0000ff"/>
<path d="M1066.9 1874.7L1072.5 1875.8L1078.1 1876.8L1083.7 1877.9L1089.2 1878.9L1094.8 1879.9L1100.4 1880.9L1106.0 1881.9L1111.5 1882.9L1117.1 1883.9L1122.7 1884.9L1128.2 1885.8L1133.8 1886.8L1139.4 1887.8L1145.0 1888.7L1150.5 1889.6L1156.1 1890.5L1161.7 1891.5L1167.3 1892.4L1172.8 1893.3L1178.4 1894.2L1184.0 1895.0L1189.5 1895.9L1195.1 1896.8L1200.7 1897.6L1206.3 1898.5L1211.8 1899.3L1217.4 1900.2L1223.0 1901.0L1228.6 1901.8L1234.1 1902.6L1239.7 1903.4L1245.3 1904.2L1250.9 1905.0L1256.4 1905.8L1262.0 1906.6L1267.6 1907.3L1273.1 1908.1L1278.7 1908.8L1284.3 1909.6L1289.9 1910.3L1295.4 1911.0L1301.0 1911.8L1306.6 1912.5L1312.2 1913.2L1317.7 1913.9L1323.3 1914.6L1328.9 1915.3L1334.4 1915.9L1340.0 1916.6L1345.6 1917.3L1351.2 1917.9L1356.7 1918.6L1362.3 1919.2L1367.9 1919.8L1373.5 1920.5L1379.0 1921.1L1384.6 1921.7L1390.2 1922.3L1395.8 1922.9L1401.3 1923.5L1406.9 1924.1L1412.5 1924.7L1418.0 1925.2L1423.6 1925.8L1429.2 1926.4L1434.8 1926.9L1440.3 1927.5L1445.9 1928.0L1451.5 1928.5L1457.1 1929.1L1462.6 1929.6L1468.2 1930.1L1473.8 1930.6L1479.3 1931.1L1484.9 1931.6L1490.5 1932.1L1496.1 1932.6L1501.6 1933.1L1507.2 1933.5L1512.8 1934.0L1518.4 1934.5L1523.9 1934.9L1529.5 1935.4L1535.1 1935.8L1540.7 1936.3L1546.2 1936.7L1551.8 1937.1L1557.4 1937.5L1562.9 1938.0L1568.5 1938.4L1574.1 1938.8L1579.7 1939.2L1585.2 1939.6L1590.8 1939.9L1596.4 1940.3L1602.0 1940.7L1607.5 1941.1L1613.1 1941.4L1618.7 1941.8L1624.2 1942.2L1629.8 1942.5L1635.4 1942.8L1641.0 1943.2L1646.5 1943.5L1652.1 1943.9L1657.7 1944.2L1663.3 1944.5L1668.8 1944.8L1674.4 1945.1L1680.0 1945.4L1685.6 1945.7L1691.1 1946.0L1696.7 1946.3L1702.3 1946.6L1707.8 1946.9L1713.4 1947.2L1719.0 1947.4L1724.6 1947.7L1730.1 1948.0L1735.7 1948.2L1741.3 1948.5L1746.9 1948.7L1752.4 1949.0L1758.0 1949.2L1763.6 1949.4L1769.1 1949.7L1774.7 1949.9L1780.3 1950.1L1785.9 1950.3L1791.4 1950.6L1797.0 1950.8L1802.6 1951.0L1808.2 1951.2L1813.7 1951.4L1819.3 1951.6L1824.9 1951.8L1830.5 1952.0L1836.0 1952.1L1841.6 1952.3L1847.2 1952.5L1852.7 1952.7L1858.3 1952.8L1863.9 1953.0L1869.5 1953.2L1875.0 1953.3L1880.6 1953.5L1886.2 1953.6L1891.8 1953.8L1897.3 1953.9L1902.9 1954.1L1908.5 1954.2L1914.0 1954.3L1919.6 1954.5L1925.2 1954.6L1930.8 1954.7L1936.3 1954.8L1941.9 1955.0L1947.5 1955.1L1953.1 1955.2" stroke="#ff0000"/>
</g>
<text transform="translate(1967.3 2072.1) scale(1 1.040)" font-size="39.5" fill="#262626" stroke="#262626" stroke-width="0.45">180</text>
<text transform="translate(1967.3 1940.9) scale(1 1.040)" font-size="39.5" fill="#262626" stroke="#262626" stroke-width="0.45">190</text>
<text transform="translate(2090.7 1991.5) rotate(-90) scale(1 1.040)" font-size="43.0" fill="#262626" stroke="#262626" stroke-width="0.45" text-anchor="middle">T [K]</text>
<text transform="translate(152.4 2179.0) scale(1 1.040)" font-size="39.5" fill="#262626" stroke="#262626" stroke-width="0.45" text-anchor="middle">50</text>
<text transform="translate(312.5 2179.0) scale(1 1.040)" font-size="39.5" fill="#262626" stroke="#262626" stroke-width="0.45" text-anchor="middle">60</text>
<text transform="translate(489.3 2179.0) scale(1 1.040)" font-size="39.5" fill="#262626" stroke="#262626" stroke-width="0.45" text-anchor="middle">70</text>
<text transform="translate(666.2 2179.0) scale(1 1.040)" font-size="39.5" fill="#262626" stroke="#262626" stroke-width="0.45" text-anchor="middle">80</text>
<text transform="translate(843.0 2179.0) scale(1 1.040)" font-size="39.5" fill="#262626" stroke="#262626" stroke-width="0.45" text-anchor="middle">90</text>
<text transform="translate(992.8 2179.0) scale(1 1.040)" font-size="39.5" fill="#262626" stroke="#262626" stroke-width="0.45" text-anchor="middle">100</text>
<text transform="translate(501.4 2236.8) scale(0.976 0.79)" font-size="43.0" fill="#262626" style="font-family:&quot;DejaVu Serif&quot;,serif;font-style:italic">&#957;</text>
<text transform="translate(538.9 2236.5) scale(1 1.040)" font-size="43.0" fill="#262626" stroke="#262626" stroke-width="0.45">[MHz]</text>
<text transform="translate(1083.7 2179.0) scale(1 1.040)" font-size="39.5" fill="#262626" stroke="#262626" stroke-width="0.45" text-anchor="middle">50</text>
<text transform="translate(1243.8 2179.0) scale(1 1.040)" font-size="39.5" fill="#262626" stroke="#262626" stroke-width="0.45" text-anchor="middle">60</text>
<text transform="translate(1420.6 2179.0) scale(1 1.040)" font-size="39.5" fill="#262626" stroke="#262626" stroke-width="0.45" text-anchor="middle">70</text>
<text transform="translate(1597.4 2179.0) scale(1 1.040)" font-size="39.5" fill="#262626" stroke="#262626" stroke-width="0.45" text-anchor="middle">80</text>
<text transform="translate(1774.2 2179.0) scale(1 1.040)" font-size="39.5" fill="#262626" stroke="#262626" stroke-width="0.45" text-anchor="middle">90</text>
<text transform="translate(1924.0 2179.0) scale(1 1.040)" font-size="39.5" fill="#262626" stroke="#262626" stroke-width="0.45" text-anchor="middle">100</text>
<text transform="translate(1432.7 2236.8) scale(0.976 0.79)" font-size="43.0" fill="#262626" style="font-family:&quot;DejaVu Serif&quot;,serif;font-style:italic">&#957;</text>
<text transform="translate(1470.2 2236.5) scale(1 1.040)" font-size="43.0" fill="#262626" stroke="#262626" stroke-width="0.45">[MHz]</text>
<text transform="translate(578.8 40.7) scale(1 1.040)" font-size="55.6" fill="#000" stroke="#000" stroke-width="0.45" text-anchor="middle">Low-1</text>
<text transform="translate(1510.0 40.7) scale(1 1.040)" font-size="55.6" fill="#000" stroke="#000" stroke-width="0.45" text-anchor="middle">Low-2</text>
</svg></body></html>
